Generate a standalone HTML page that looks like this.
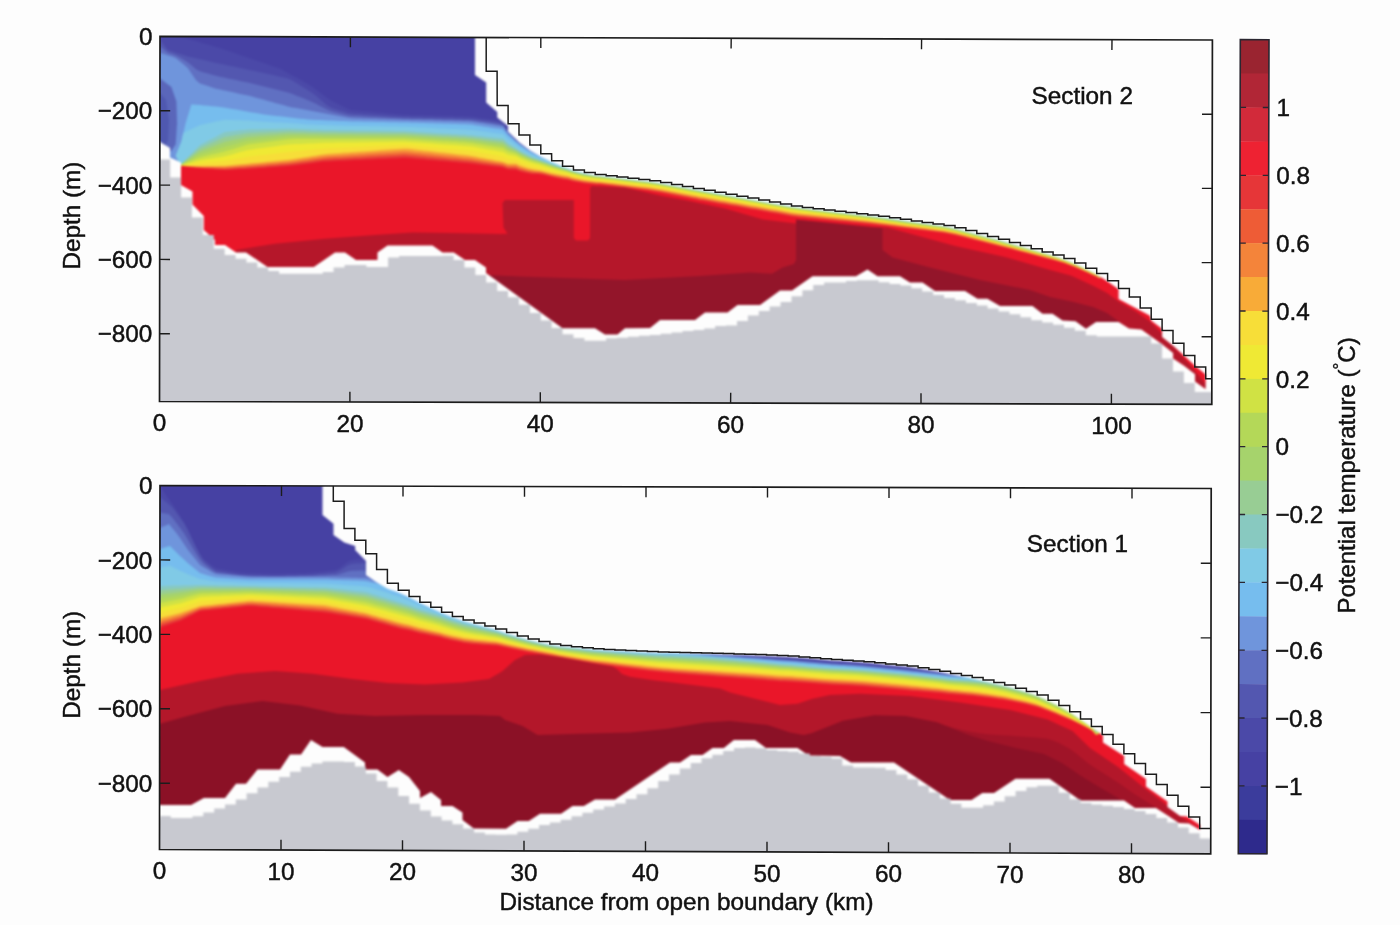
<!DOCTYPE html>
<html lang="en"><head><meta charset="utf-8"><title>Potential temperature sections</title>
<style>html,body{margin:0;padding:0;background:#fdfdfd}svg{display:block}</style></head>
<body>
<svg width="1400" height="925" viewBox="0 0 1400 925">
<rect width="1400" height="925" fill="#fdfdfd"/>
<defs><filter id="soft" x="0" y="0" width="100%" height="100%" filterUnits="objectBoundingBox" color-interpolation-filters="sRGB"><feGaussianBlur stdDeviation="0.85"/></filter></defs>
<clipPath id="c2"><polygon points="160.0,36.3 1212.4,40.0 1211.8,404.3 159.5,401.5"/></clipPath>
<g clip-path="url(#c2)"><g filter="url(#soft)">
<rect x="150" y="30" width="1070" height="380" fill="#4641a3"/>
<polygon points="160.0,34.0 164.0,34.6 168.0,35.3 172.0,35.9 176.0,36.6 180.0,37.2 181.0,37.4 184.0,37.8 188.0,38.9 191.4,39.8 192.0,40.0 196.0,41.1 200.0,42.3 204.0,43.4 208.0,44.6 212.0,45.7 216.0,46.9 220.0,48.0 224.0,49.4 225.0,49.7 228.0,50.8 232.0,52.1 236.0,53.5 240.0,54.9 244.0,56.3 248.0,57.7 252.0,59.0 256.0,60.4 260.0,61.8 264.0,63.1 268.0,64.5 272.0,65.9 276.0,67.2 280.0,68.6 284.0,70.8 288.0,73.0 292.0,75.2 296.0,77.3 300.0,79.5 304.0,81.7 308.0,83.9 312.0,86.5 316.0,89.5 320.0,92.5 324.0,95.5 328.0,98.5 332.0,101.0 336.0,103.0 340.0,105.0 344.0,107.0 348.0,109.0 352.0,110.2 356.0,110.5 360.0,110.9 364.0,111.3 368.0,111.6 372.0,112.0 376.0,112.4 380.0,112.7 384.0,113.1 388.0,113.5 392.0,113.8 396.0,114.2 400.0,114.5 404.0,114.9 408.0,115.1 412.0,115.2 416.0,115.3 420.0,115.3 424.0,115.4 428.0,115.5 432.0,115.6 436.0,115.7 440.0,115.8 444.0,115.9 448.0,116.0 452.0,116.1 456.0,116.2 460.0,116.3 464.0,116.4 468.0,116.5 472.0,116.8 476.0,117.3 480.0,117.9 484.0,118.4 488.0,119.0 492.0,119.5 496.0,120.0 500.0,120.6 503.0,121.0 504.0,122.6 508.0,129.0 512.0,134.1 516.0,139.1 520.0,142.4 524.0,145.0 528.0,147.5 532.0,149.8 536.0,151.6 540.0,153.5 544.0,153.4 548.0,152.7 552.0,152.0 556.0,151.0 560.0,150.0 564.0,149.0 568.0,148.5 572.0,150.0 576.0,151.2 580.0,152.2 584.0,153.2 588.0,154.0 592.0,154.8 596.0,155.5 600.0,155.9 604.0,156.4 608.0,156.9 612.0,157.3 616.0,157.8 620.0,158.2 624.0,158.7 628.0,159.1 632.0,159.6 636.0,160.0 640.0,160.5 644.0,160.9 648.0,161.4 652.0,161.9 656.0,162.5 660.0,163.1 664.0,163.8 668.0,164.6 672.0,165.3 676.0,166.0 680.0,166.8 684.0,167.5 688.0,168.2 692.0,168.9 696.0,169.7 700.0,170.4 704.0,171.1 708.0,171.8 712.0,172.5 716.0,173.2 720.0,174.0 724.0,174.7 728.0,175.4 732.0,176.1 736.0,176.8 740.0,177.5 744.0,178.3 748.0,179.0 752.0,179.7 756.0,180.4 760.0,181.1 764.0,181.8 768.0,182.6 772.0,183.3 776.0,184.0 780.0,184.7 784.0,185.4 788.0,186.1 792.0,186.8 796.0,187.4 800.0,187.9 804.0,188.4 808.0,188.9 812.0,189.3 816.0,189.8 820.0,190.2 824.0,190.7 828.0,191.2 832.0,191.6 836.0,192.1 840.0,192.5 844.0,193.0 848.0,193.5 852.0,193.9 856.0,194.4 860.0,194.8 864.0,195.3 868.0,195.8 872.0,196.3 876.0,196.8 880.0,197.3 884.0,197.8 888.0,198.4 892.0,198.9 896.0,199.5 900.0,200.1 904.0,200.6 908.0,201.2 912.0,201.8 916.0,202.3 920.0,202.9 924.0,203.4 928.0,204.0 932.0,204.5 936.0,205.1 940.0,205.7 944.0,206.2 948.0,207.0 952.0,207.9 956.0,208.7 960.0,209.8 964.0,210.9 968.0,212.0 972.0,213.0 976.0,214.1 980.0,215.2 984.0,216.2 988.0,217.3 992.0,218.4 996.0,219.5 1000.0,220.6 1004.0,221.7 1008.0,222.8 1012.0,224.0 1016.0,225.1 1020.0,226.3 1024.0,227.4 1028.0,228.6 1032.0,229.7 1036.0,230.9 1040.0,232.0 1044.0,233.2 1048.0,234.3 1052.0,235.5 1056.0,236.8 1060.0,238.1 1064.0,239.4 1068.0,241.0 1072.0,242.7 1076.0,244.4 1080.0,246.3 1084.0,248.2 1088.0,250.2 1092.0,252.1 1096.0,254.1 1100.0,256.6 1104.0,256.3 1108.0,256.5 1112.0,260.0 1116.0,264.9 1120.0,269.7 1124.0,271.9 1128.0,274.0 1132.0,276.1 1136.0,278.3 1140.0,280.4 1144.0,282.5 1148.0,284.6 1152.0,291.6 1156.0,297.7 1160.0,303.8 1164.0,308.5 1168.0,311.7 1172.0,314.8 1176.0,318.3 1180.0,322.0 1184.0,325.6 1188.0,329.3 1192.0,332.9 1196.0,337.9 1200.0,346.7 1204.0,355.6 1208.0,359.3 1212.0,359.3 1216.0,410.0 150.0,410.0" fill="#4b49a8"/>
<polygon points="160.0,40.0 164.0,45.0 168.0,50.0 172.0,51.3 176.0,52.7 180.0,54.0 181.0,54.3 184.0,55.3 188.0,56.5 191.4,57.2 192.0,57.4 196.0,58.3 200.0,59.2 204.0,60.1 208.0,61.0 212.0,61.9 216.0,62.9 220.0,63.8 224.0,64.6 225.0,64.8 228.0,65.5 232.0,66.3 236.0,67.1 240.0,68.0 244.0,68.8 248.0,69.7 252.0,70.5 256.0,71.3 260.0,72.2 264.0,73.0 268.0,73.9 272.0,74.8 276.0,75.8 280.0,76.7 284.0,77.6 288.0,78.5 292.0,80.2 296.0,82.8 300.0,85.2 304.0,87.8 308.0,90.2 312.0,92.8 316.0,95.7 320.0,99.2 324.0,102.7 328.0,106.1 332.0,107.9 336.0,109.2 340.0,110.4 344.0,111.6 348.0,112.9 352.0,113.6 356.0,113.9 360.0,114.1 364.0,114.4 368.0,114.6 372.0,114.9 376.0,115.2 380.0,115.4 384.0,115.7 388.0,115.9 392.0,116.2 396.0,116.4 400.0,116.7 404.0,116.9 408.0,117.1 412.0,117.2 416.0,117.3 420.0,117.3 424.0,117.4 428.0,117.5 432.0,117.6 436.0,117.7 440.0,117.8 444.0,117.9 448.0,118.0 452.0,118.1 456.0,118.2 460.0,118.3 464.0,118.4 468.0,118.5 472.0,118.8 476.0,119.3 480.0,119.8 484.0,120.3 488.0,120.8 492.0,121.4 496.0,121.9 500.0,123.0 503.0,124.0 504.0,125.4 508.0,131.2 512.0,135.6 516.0,139.9 520.0,143.2 524.0,145.8 528.0,148.4 532.0,150.7 536.0,152.6 540.0,154.5 544.0,154.3 548.0,153.4 552.0,152.5 556.0,151.4 560.0,150.3 564.0,149.1 568.0,148.5 572.0,150.0 576.0,151.2 580.0,152.2 584.0,153.2 588.0,154.0 592.0,154.8 596.0,155.5 600.0,155.9 604.0,156.4 608.0,156.9 612.0,157.3 616.0,157.8 620.0,158.2 624.0,158.7 628.0,159.1 632.0,159.6 636.0,160.0 640.0,160.5 644.0,160.9 648.0,161.4 652.0,161.9 656.0,162.5 660.0,163.1 664.0,163.8 668.0,164.6 672.0,165.3 676.0,166.0 680.0,166.8 684.0,167.5 688.0,168.2 692.0,168.9 696.0,169.7 700.0,170.4 704.0,171.1 708.0,171.8 712.0,172.5 716.0,173.2 720.0,174.0 724.0,174.7 728.0,175.4 732.0,176.1 736.0,176.8 740.0,177.5 744.0,178.3 748.0,179.0 752.0,179.7 756.0,180.4 760.0,181.1 764.0,181.8 768.0,182.6 772.0,183.3 776.0,184.0 780.0,184.7 784.0,185.4 788.0,186.1 792.0,186.8 796.0,187.4 800.0,187.9 804.0,188.4 808.0,188.9 812.0,189.3 816.0,189.8 820.0,190.2 824.0,190.7 828.0,191.2 832.0,191.6 836.0,192.1 840.0,192.5 844.0,193.0 848.0,193.5 852.0,193.9 856.0,194.4 860.0,194.8 864.0,195.3 868.0,195.8 872.0,196.3 876.0,196.8 880.0,197.3 884.0,197.8 888.0,198.4 892.0,198.9 896.0,199.5 900.0,200.1 904.0,200.6 908.0,201.2 912.0,201.8 916.0,202.3 920.0,202.9 924.0,203.4 928.0,204.0 932.0,204.5 936.0,205.1 940.0,205.7 944.0,206.2 948.0,207.0 952.0,207.9 956.0,208.7 960.0,209.8 964.0,210.9 968.0,212.0 972.0,213.0 976.0,214.1 980.0,215.2 984.0,216.2 988.0,217.3 992.0,218.4 996.0,219.5 1000.0,220.6 1004.0,221.7 1008.0,222.8 1012.0,224.0 1016.0,225.1 1020.0,226.3 1024.0,227.4 1028.0,228.6 1032.0,229.7 1036.0,230.9 1040.0,232.0 1044.0,233.2 1048.0,234.3 1052.0,235.5 1056.0,236.8 1060.0,238.1 1064.0,239.4 1068.0,241.0 1072.0,242.7 1076.0,244.4 1080.0,246.3 1084.0,248.2 1088.0,250.2 1092.0,252.1 1096.0,254.1 1100.0,256.6 1104.0,256.3 1108.0,256.5 1112.0,260.0 1116.0,264.9 1120.0,269.7 1124.0,271.9 1128.0,274.0 1132.0,276.1 1136.0,278.3 1140.0,280.4 1144.0,282.5 1148.0,284.6 1152.0,291.6 1156.0,297.7 1160.0,303.8 1164.0,308.5 1168.0,311.7 1172.0,314.8 1176.0,318.3 1180.0,322.0 1184.0,325.6 1188.0,329.3 1192.0,332.9 1196.0,337.9 1200.0,346.7 1204.0,355.6 1208.0,359.3 1212.0,359.3 1216.0,410.0 150.0,410.0" fill="#5357b0"/>
<polygon points="160.0,46.5 164.0,49.6 168.0,52.7 172.0,54.0 176.0,55.5 180.0,57.8 181.0,58.3 184.0,60.0 188.0,62.4 191.4,65.3 192.0,65.8 196.0,69.3 200.0,71.3 204.0,72.4 208.0,73.6 212.0,74.7 216.0,75.8 220.0,76.7 224.0,77.5 225.0,77.7 228.0,78.4 232.0,79.2 236.0,80.1 240.0,80.9 244.0,81.8 248.0,82.6 252.0,83.5 256.0,84.5 260.0,85.5 264.0,86.4 268.0,87.4 272.0,88.4 276.0,89.5 280.0,90.5 284.0,91.5 288.0,92.5 292.0,93.8 296.0,95.4 300.0,97.0 304.0,98.6 308.0,100.3 312.0,101.9 316.0,103.7 320.0,105.9 324.0,108.0 328.0,110.1 332.0,111.4 336.0,112.4 340.0,113.4 344.0,114.4 348.0,115.4 352.0,115.9 356.0,116.1 360.0,116.3 364.0,116.5 368.0,116.7 372.0,116.9 376.0,117.1 380.0,117.3 384.0,117.5 388.0,117.7 392.0,117.9 396.0,118.1 400.0,118.3 404.0,118.5 408.0,118.6 412.0,118.7 416.0,118.8 420.0,118.8 424.0,118.9 428.0,119.0 432.0,119.1 436.0,119.2 440.0,119.3 444.0,119.4 448.0,119.5 452.0,119.6 456.0,119.7 460.0,119.8 464.0,119.9 468.0,120.0 472.0,120.3 476.0,120.8 480.0,121.4 484.0,122.0 488.0,122.5 492.0,123.1 496.0,123.7 500.0,124.5 503.0,125.2 504.0,126.6 508.0,132.2 512.0,136.3 516.0,140.4 520.0,143.8 524.0,146.4 528.0,149.0 532.0,151.3 536.0,153.3 540.0,155.2 544.0,155.5 548.0,155.3 552.0,155.1 556.0,154.6 560.0,154.1 564.0,153.6 568.0,153.3 572.0,154.2 576.0,154.8 580.0,155.2 584.0,155.6 588.0,155.8 592.0,156.0 596.0,156.1 600.0,155.9 604.0,156.4 608.0,156.9 612.0,157.3 616.0,157.8 620.0,158.2 624.0,158.7 628.0,159.1 632.0,159.6 636.0,160.0 640.0,160.5 644.0,160.9 648.0,161.4 652.0,161.9 656.0,162.5 660.0,163.1 664.0,163.8 668.0,164.6 672.0,165.3 676.0,166.0 680.0,166.8 684.0,167.5 688.0,168.2 692.0,168.9 696.0,169.7 700.0,170.4 704.0,171.1 708.0,171.8 712.0,172.5 716.0,173.2 720.0,174.0 724.0,174.7 728.0,175.4 732.0,176.1 736.0,176.8 740.0,177.5 744.0,178.3 748.0,179.0 752.0,179.7 756.0,180.4 760.0,181.1 764.0,181.8 768.0,182.6 772.0,183.3 776.0,184.0 780.0,184.7 784.0,185.4 788.0,186.1 792.0,186.8 796.0,187.4 800.0,187.9 804.0,188.4 808.0,188.9 812.0,189.3 816.0,189.8 820.0,190.2 824.0,190.7 828.0,191.2 832.0,191.6 836.0,192.1 840.0,192.5 844.0,193.0 848.0,193.5 852.0,193.9 856.0,194.4 860.0,194.8 864.0,195.3 868.0,195.8 872.0,196.3 876.0,196.8 880.0,197.3 884.0,197.8 888.0,198.4 892.0,198.9 896.0,199.5 900.0,200.1 904.0,200.6 908.0,201.2 912.0,201.8 916.0,202.3 920.0,202.9 924.0,203.4 928.0,204.0 932.0,204.5 936.0,205.1 940.0,205.7 944.0,206.2 948.0,207.0 952.0,207.9 956.0,208.7 960.0,209.8 964.0,210.9 968.0,212.0 972.0,213.0 976.0,214.1 980.0,215.2 984.0,216.2 988.0,217.3 992.0,218.4 996.0,219.5 1000.0,220.6 1004.0,221.7 1008.0,222.8 1012.0,224.0 1016.0,225.1 1020.0,226.3 1024.0,227.4 1028.0,228.6 1032.0,229.7 1036.0,230.9 1040.0,232.0 1044.0,233.2 1048.0,234.3 1052.0,235.5 1056.0,236.8 1060.0,238.1 1064.0,239.4 1068.0,241.0 1072.0,242.7 1076.0,244.4 1080.0,246.3 1084.0,248.2 1088.0,250.2 1092.0,252.1 1096.0,254.1 1100.0,256.6 1104.0,256.3 1108.0,256.5 1112.0,260.0 1116.0,264.9 1120.0,269.7 1124.0,271.9 1128.0,274.0 1132.0,276.1 1136.0,278.3 1140.0,280.4 1144.0,282.5 1148.0,284.6 1152.0,291.6 1156.0,297.7 1160.0,303.8 1164.0,308.5 1168.0,311.7 1172.0,314.8 1176.0,318.3 1180.0,322.0 1184.0,325.6 1188.0,329.3 1192.0,332.9 1196.0,337.9 1200.0,346.7 1204.0,355.6 1208.0,359.3 1212.0,359.3 1216.0,410.0 150.0,410.0" fill="#6070c2"/>
<polygon points="160.0,52.9 164.0,54.1 168.0,55.4 172.0,56.6 176.0,58.3 180.0,61.5 181.0,62.3 184.0,64.7 188.0,68.2 191.4,73.4 192.0,74.2 196.0,80.2 200.0,83.4 204.0,84.7 208.0,86.1 212.0,87.5 216.0,88.7 220.0,89.6 224.0,90.4 225.0,90.6 228.0,91.3 232.0,92.1 236.0,93.0 240.0,93.9 244.0,94.7 248.0,95.6 252.0,96.5 256.0,97.7 260.0,98.8 264.0,99.8 268.0,101.0 272.0,102.0 276.0,103.2 280.0,104.2 284.0,105.3 288.0,106.5 292.0,107.4 296.0,108.1 300.0,108.8 304.0,109.5 308.0,110.3 312.0,111.0 316.0,111.8 320.0,112.5 324.0,113.3 328.0,114.0 332.0,114.8 336.0,115.5 340.0,116.3 344.0,117.1 348.0,117.8 352.0,118.3 356.0,118.4 360.0,118.5 364.0,118.7 368.0,118.8 372.0,118.9 376.0,119.1 380.0,119.2 384.0,119.3 388.0,119.4 392.0,119.6 396.0,119.7 400.0,119.8 404.0,120.0 408.0,120.1 412.0,120.2 416.0,120.3 420.0,120.3 424.0,120.4 428.0,120.5 432.0,120.6 436.0,120.7 440.0,120.8 444.0,120.9 448.0,121.0 452.0,121.1 456.0,121.2 460.0,121.3 464.0,121.4 468.0,121.5 472.0,121.8 476.0,122.4 480.0,123.0 484.0,123.6 488.0,124.2 492.0,124.8 496.0,125.4 500.0,126.0 503.0,126.5 504.0,127.8 508.0,133.1 512.0,137.0 516.0,140.9 520.0,144.3 524.0,147.0 528.0,149.7 532.0,152.0 536.0,154.0 540.0,156.0 544.0,156.8 548.0,157.2 552.0,157.6 556.0,157.8 560.0,158.0 564.0,158.1 568.0,158.2 572.0,158.5 576.0,158.4 580.0,158.2 584.0,158.1 588.0,157.6 592.0,157.2 596.0,156.7 600.0,155.9 604.0,156.4 608.0,156.9 612.0,157.3 616.0,157.8 620.0,158.2 624.0,158.7 628.0,159.1 632.0,159.6 636.0,160.0 640.0,160.5 644.0,160.9 648.0,161.4 652.0,161.9 656.0,162.5 660.0,163.1 664.0,163.8 668.0,164.6 672.0,165.3 676.0,166.0 680.0,166.8 684.0,167.5 688.0,168.2 692.0,168.9 696.0,169.7 700.0,170.4 704.0,171.1 708.0,171.8 712.0,172.5 716.0,173.2 720.0,174.0 724.0,174.7 728.0,175.4 732.0,176.1 736.0,176.8 740.0,177.5 744.0,178.3 748.0,179.0 752.0,179.7 756.0,180.4 760.0,181.1 764.0,181.8 768.0,182.6 772.0,183.3 776.0,184.0 780.0,184.7 784.0,185.4 788.0,186.1 792.0,186.8 796.0,187.4 800.0,187.9 804.0,188.4 808.0,188.9 812.0,189.3 816.0,189.8 820.0,190.2 824.0,190.7 828.0,191.2 832.0,191.6 836.0,192.1 840.0,192.5 844.0,193.0 848.0,193.5 852.0,193.9 856.0,194.4 860.0,194.8 864.0,195.3 868.0,195.8 872.0,196.3 876.0,196.8 880.0,197.3 884.0,197.8 888.0,198.4 892.0,198.9 896.0,199.5 900.0,200.1 904.0,200.6 908.0,201.2 912.0,201.8 916.0,202.3 920.0,202.9 924.0,203.4 928.0,204.0 932.0,204.5 936.0,205.1 940.0,205.7 944.0,206.2 948.0,207.0 952.0,207.9 956.0,208.7 960.0,209.8 964.0,210.9 968.0,212.0 972.0,213.0 976.0,214.1 980.0,215.2 984.0,216.2 988.0,217.3 992.0,218.4 996.0,219.5 1000.0,220.6 1004.0,221.7 1008.0,222.8 1012.0,224.0 1016.0,225.1 1020.0,226.3 1024.0,227.4 1028.0,228.6 1032.0,229.7 1036.0,230.9 1040.0,232.0 1044.0,233.2 1048.0,234.3 1052.0,235.5 1056.0,236.8 1060.0,238.1 1064.0,239.4 1068.0,241.0 1072.0,242.7 1076.0,244.4 1080.0,246.3 1084.0,248.2 1088.0,250.2 1092.0,252.1 1096.0,254.1 1100.0,256.6 1104.0,256.3 1108.0,256.5 1112.0,260.0 1116.0,264.9 1120.0,269.7 1124.0,271.9 1128.0,274.0 1132.0,276.1 1136.0,278.3 1140.0,280.4 1144.0,282.5 1148.0,284.6 1152.0,291.6 1156.0,297.7 1160.0,303.8 1164.0,308.5 1168.0,311.7 1172.0,314.8 1176.0,318.3 1180.0,322.0 1184.0,325.6 1188.0,329.3 1192.0,332.9 1196.0,337.9 1200.0,346.7 1204.0,355.6 1208.0,359.3 1212.0,359.3 1216.0,410.0 150.0,410.0" fill="#6f95dc"/>
<polygon points="191.4,104.3 191.4,104.3 192.0,104.4 196.0,104.7 200.0,105.1 204.0,105.4 208.0,105.8 212.0,106.2 216.0,106.5 220.0,106.9 224.0,107.5 225.0,107.7 228.0,108.2 232.0,108.9 236.0,109.6 240.0,110.3 244.0,111.0 248.0,111.7 252.0,112.4 256.0,113.1 260.0,113.8 264.0,114.5 268.0,115.0 272.0,115.4 276.0,115.9 280.0,116.3 284.0,116.8 288.0,117.3 292.0,117.7 296.0,118.2 300.0,118.7 304.0,119.1 308.0,119.5 312.0,119.7 316.0,119.9 320.0,120.1 324.0,120.3 328.0,120.4 332.0,120.6 336.0,120.8 340.0,121.0 344.0,121.1 348.0,121.3 352.0,121.4 356.0,121.5 360.0,121.6 364.0,121.7 368.0,121.8 372.0,121.8 376.0,121.9 380.0,122.0 384.0,122.1 388.0,122.2 392.0,122.2 396.0,122.3 400.0,122.4 404.0,122.5 408.0,122.6 412.0,122.7 416.0,122.8 420.0,123.0 424.0,123.1 428.0,123.2 432.0,123.3 436.0,123.5 440.0,123.6 444.0,123.7 448.0,123.8 452.0,123.9 456.0,124.1 460.0,124.2 464.0,124.3 468.0,124.4 472.0,124.8 476.0,125.4 480.0,126.0 484.0,126.7 488.0,127.3 492.0,127.9 496.0,128.5 500.0,129.1 503.0,129.6 504.0,130.7 508.0,135.3 512.0,138.5 516.0,141.7 520.0,145.1 524.0,147.8 528.0,150.5 532.0,152.8 536.0,154.8 540.0,156.8 544.0,158.3 548.0,159.7 552.0,161.0 556.0,162.2 560.0,163.3 564.0,164.4 568.0,165.3 572.0,165.9 576.0,166.2 580.0,166.4 584.0,166.6 588.0,166.5 592.0,166.5 596.0,166.3 600.0,165.9 604.0,166.4 608.0,166.9 612.0,167.3 616.0,167.8 620.0,168.2 624.0,168.7 628.0,169.1 632.0,169.6 636.0,170.0 640.0,170.5 644.0,170.9 648.0,171.4 652.0,171.9 656.0,172.5 660.0,173.1 664.0,173.8 668.0,174.6 672.0,175.3 676.0,176.0 680.0,176.8 684.0,177.5 688.0,178.2 692.0,178.9 696.0,179.7 700.0,180.4 704.0,181.1 708.0,181.8 712.0,182.5 716.0,183.2 720.0,184.0 724.0,184.7 728.0,185.4 732.0,186.1 736.0,186.8 740.0,187.5 744.0,188.3 748.0,189.0 752.0,189.7 756.0,190.4 760.0,191.1 764.0,191.8 768.0,192.6 772.0,193.3 776.0,194.0 780.0,194.7 784.0,195.4 788.0,196.1 792.0,196.8 796.0,197.4 800.0,197.9 804.0,198.4 808.0,198.9 812.0,199.3 816.0,199.8 820.0,200.2 824.0,200.7 828.0,201.2 832.0,201.6 836.0,202.1 840.0,202.5 844.0,203.0 848.0,203.5 852.0,203.9 856.0,204.4 860.0,204.8 864.0,205.3 868.0,205.8 872.0,206.3 876.0,206.8 880.0,207.3 884.0,207.8 888.0,208.4 892.0,208.9 896.0,209.5 900.0,210.1 904.0,210.6 908.0,211.2 912.0,211.8 916.0,212.3 920.0,212.9 924.0,213.4 928.0,214.0 932.0,214.5 936.0,215.1 940.0,215.7 944.0,216.2 948.0,217.0 952.0,217.9 956.0,218.7 960.0,219.8 964.0,220.9 968.0,222.0 972.0,223.0 976.0,224.1 980.0,225.2 984.0,226.2 988.0,227.3 992.0,228.4 996.0,229.5 1000.0,230.6 1004.0,231.7 1008.0,232.8 1012.0,234.0 1016.0,235.1 1020.0,236.3 1024.0,237.4 1028.0,238.6 1032.0,239.7 1036.0,240.9 1040.0,242.0 1044.0,243.2 1048.0,244.3 1052.0,245.5 1056.0,246.8 1060.0,248.1 1064.0,249.4 1068.0,251.0 1072.0,252.7 1076.0,254.4 1080.0,256.3 1084.0,258.2 1088.0,260.2 1092.0,262.1 1096.0,264.1 1100.0,266.6 1104.0,263.4 1108.0,260.8 1112.0,261.4 1116.0,264.9 1120.0,269.7 1124.0,271.9 1128.0,274.0 1132.0,276.1 1136.0,278.3 1140.0,280.4 1144.0,282.5 1148.0,284.6 1152.0,291.6 1156.0,297.7 1160.0,303.8 1164.0,308.5 1168.0,311.7 1172.0,314.8 1176.0,318.3 1180.0,322.0 1184.0,325.6 1188.0,329.3 1192.0,332.9 1196.0,337.9 1200.0,346.7 1204.0,355.6 1208.0,359.3 1212.0,359.3 1216.0,410.0 176.0,410.0 181.0,166.0 175.7,155.7 181.4,141.4 185.7,122.9" fill="#76bdee"/>
<polygon points="184.0,132.7 188.0,130.7 191.4,128.9 192.0,128.7 196.0,126.9 200.0,125.0 204.0,124.2 208.0,123.3 212.0,122.5 216.0,121.6 220.0,120.8 224.0,120.0 225.0,119.8 228.0,119.9 232.0,120.1 236.0,120.2 240.0,120.3 244.0,120.4 248.0,120.6 252.0,120.9 256.0,121.2 260.0,121.5 264.0,121.8 268.0,122.0 272.0,122.2 276.0,122.4 280.0,122.6 284.0,122.8 288.0,123.0 292.0,123.2 296.0,123.5 300.0,123.8 304.0,124.2 308.0,124.4 312.0,124.6 316.0,124.8 320.0,124.9 324.0,125.1 328.0,125.2 332.0,125.3 336.0,125.5 340.0,125.6 344.0,125.7 348.0,125.8 352.0,125.9 356.0,126.0 360.0,126.0 364.0,126.1 368.0,126.1 372.0,126.2 376.0,126.3 380.0,126.3 384.0,126.4 388.0,126.5 392.0,126.5 396.0,126.6 400.0,126.7 404.0,126.7 408.0,126.9 412.0,127.1 416.0,127.3 420.0,127.4 424.0,127.6 428.0,127.8 432.0,128.0 436.0,128.2 440.0,128.4 444.0,128.6 448.0,128.7 452.0,128.9 456.0,129.1 460.0,129.3 464.0,129.5 468.0,129.7 472.0,130.0 476.0,130.5 480.0,131.1 484.0,131.6 488.0,132.1 492.0,132.7 496.0,133.2 500.0,133.7 503.0,134.1 504.0,135.1 508.0,139.3 512.0,142.1 516.0,144.9 520.0,148.0 524.0,150.4 528.0,152.8 532.0,154.9 536.0,156.6 540.0,158.3 544.0,159.8 548.0,161.2 552.0,162.7 556.0,163.9 560.0,165.1 564.0,166.3 568.0,167.3 572.0,168.3 576.0,169.1 580.0,169.6 584.0,170.2 588.0,170.6 592.0,170.9 596.0,171.2 600.0,171.2 604.0,171.6 608.0,172.1 612.0,172.6 616.0,173.0 620.0,173.5 624.0,173.9 628.0,174.4 632.0,174.8 636.0,175.3 640.0,175.8 644.0,176.2 648.0,176.7 652.0,177.2 656.0,177.8 660.0,178.4 664.0,179.1 668.0,179.9 672.0,180.6 676.0,181.3 680.0,182.0 684.0,182.8 688.0,183.5 692.0,184.2 696.0,185.0 700.0,185.7 704.0,186.4 708.0,187.1 712.0,187.8 716.0,188.5 720.0,189.3 724.0,190.0 728.0,190.7 732.0,191.4 736.0,192.1 740.0,192.8 744.0,193.5 748.0,194.3 752.0,195.0 756.0,195.7 760.0,196.4 764.0,197.1 768.0,197.8 772.0,198.5 776.0,199.3 780.0,200.0 784.0,200.7 788.0,201.4 792.0,202.1 796.0,202.6 800.0,203.1 804.0,203.6 808.0,204.1 812.0,204.6 816.0,205.0 820.0,205.5 824.0,205.9 828.0,206.4 832.0,206.8 836.0,207.3 840.0,207.7 844.0,208.2 848.0,208.7 852.0,209.1 856.0,209.6 860.0,210.0 864.0,210.5 868.0,210.9 872.0,211.4 876.0,211.9 880.0,212.4 884.0,213.0 888.0,213.6 892.0,214.1 896.0,214.7 900.0,215.2 904.0,215.8 908.0,216.3 912.0,216.9 916.0,217.5 920.0,218.0 924.0,218.6 928.0,219.1 932.0,219.7 936.0,220.2 940.0,220.8 944.0,221.4 948.0,222.2 952.0,223.0 956.0,223.9 960.0,224.9 964.0,226.0 968.0,227.1 972.0,228.1 976.0,229.2 980.0,230.3 984.0,231.4 988.0,232.4 992.0,233.5 996.0,234.6 1000.0,235.7 1004.0,236.8 1008.0,237.9 1012.0,239.1 1016.0,240.2 1020.0,241.4 1024.0,242.5 1028.0,243.7 1032.0,244.8 1036.0,246.0 1040.0,247.1 1044.0,248.2 1048.0,249.4 1052.0,250.5 1056.0,251.8 1060.0,253.1 1064.0,254.4 1068.0,256.1 1072.0,257.7 1076.0,259.4 1080.0,261.3 1084.0,263.3 1088.0,265.2 1092.0,267.1 1096.0,269.1 1100.0,271.6 1104.0,267.0 1108.0,262.9 1112.0,262.1 1116.0,264.9 1120.0,269.7 1124.0,271.9 1128.0,274.0 1132.0,276.1 1136.0,278.3 1140.0,280.4 1144.0,282.5 1148.0,284.6 1152.0,291.6 1156.0,297.7 1160.0,303.8 1164.0,308.5 1168.0,311.7 1172.0,314.8 1176.0,318.3 1180.0,322.0 1184.0,325.6 1188.0,329.3 1192.0,332.9 1196.0,337.9 1200.0,346.7 1204.0,355.6 1208.0,359.3 1212.0,359.3 1216.0,410.0 176.0,410.0 181.0,166.0 175.7,155.7 181.4,141.4 183.3,132.7" fill="#80cae6"/>
<polygon points="181.0,164.0 184.0,161.0 188.0,157.0 191.4,153.6 192.0,153.0 196.0,149.0 200.0,145.0 204.0,142.9 208.0,140.8 212.0,138.8 216.0,136.7 220.0,134.6 224.0,132.5 225.0,132.0 228.0,131.7 232.0,131.2 236.0,130.8 240.0,130.3 244.0,129.9 248.0,129.4 252.0,129.3 256.0,129.2 260.0,129.2 264.0,129.1 268.0,129.0 272.0,128.9 276.0,128.9 280.0,128.8 284.0,128.7 288.0,128.6 292.0,128.7 296.0,128.8 300.0,129.0 304.0,129.2 308.0,129.3 312.0,129.5 316.0,129.6 320.0,129.8 324.0,130.0 328.0,130.0 332.0,130.1 336.0,130.1 340.0,130.2 344.0,130.2 348.0,130.3 352.0,130.3 356.0,130.4 360.0,130.4 364.0,130.5 368.0,130.5 372.0,130.6 376.0,130.6 380.0,130.7 384.0,130.7 388.0,130.8 392.0,130.8 396.0,130.9 400.0,130.9 404.0,131.0 408.0,131.2 412.0,131.4 416.0,131.7 420.0,131.9 424.0,132.2 428.0,132.4 432.0,132.7 436.0,132.9 440.0,133.2 444.0,133.4 448.0,133.6 452.0,133.9 456.0,134.1 460.0,134.4 464.0,134.6 468.0,134.9 472.0,135.2 476.0,135.7 480.0,136.1 484.0,136.5 488.0,137.0 492.0,137.4 496.0,137.8 500.0,138.3 503.0,138.6 504.0,139.5 508.0,143.3 512.0,145.7 516.0,148.0 520.0,150.8 524.0,153.0 528.0,155.1 532.0,156.9 536.0,158.4 540.0,159.8 544.0,161.3 548.0,162.8 552.0,164.3 556.0,165.6 560.0,166.9 564.0,168.1 568.0,169.3 572.0,170.7 576.0,171.9 580.0,172.9 584.0,173.9 588.0,174.6 592.0,175.3 596.0,176.0 600.0,176.4 604.0,176.9 608.0,177.4 612.0,177.8 616.0,178.3 620.0,178.7 624.0,179.2 628.0,179.7 632.0,180.1 636.0,180.6 640.0,181.0 644.0,181.5 648.0,182.0 652.0,182.5 656.0,183.1 660.0,183.7 664.0,184.4 668.0,185.1 672.0,185.9 676.0,186.6 680.0,187.3 684.0,188.1 688.0,188.8 692.0,189.5 696.0,190.3 700.0,191.0 704.0,191.7 708.0,192.4 712.0,193.1 716.0,193.8 720.0,194.5 724.0,195.3 728.0,196.0 732.0,196.7 736.0,197.4 740.0,198.1 744.0,198.8 748.0,199.5 752.0,200.2 756.0,201.0 760.0,201.7 764.0,202.4 768.0,203.1 772.0,203.8 776.0,204.5 780.0,205.2 784.0,205.9 788.0,206.6 792.0,207.3 796.0,207.9 800.0,208.4 804.0,208.9 808.0,209.3 812.0,209.8 816.0,210.2 820.0,210.7 824.0,211.1 828.0,211.6 832.0,212.0 836.0,212.5 840.0,213.0 844.0,213.4 848.0,213.9 852.0,214.3 856.0,214.8 860.0,215.2 864.0,215.7 868.0,216.1 872.0,216.6 876.0,217.1 880.0,217.6 884.0,218.2 888.0,218.7 892.0,219.3 896.0,219.8 900.0,220.4 904.0,220.9 908.0,221.5 912.0,222.0 916.0,222.6 920.0,223.2 924.0,223.7 928.0,224.3 932.0,224.8 936.0,225.4 940.0,225.9 944.0,226.5 948.0,227.3 952.0,228.1 956.0,229.0 960.0,230.1 964.0,231.1 968.0,232.2 972.0,233.3 976.0,234.3 980.0,235.4 984.0,236.5 988.0,237.5 992.0,238.6 996.0,239.7 1000.0,240.8 1004.0,241.9 1008.0,243.0 1012.0,244.2 1016.0,245.3 1020.0,246.4 1024.0,247.6 1028.0,248.7 1032.0,249.9 1036.0,251.0 1040.0,252.2 1044.0,253.3 1048.0,254.4 1052.0,255.6 1056.0,256.8 1060.0,258.2 1064.0,259.5 1068.0,261.1 1072.0,262.7 1076.0,264.4 1080.0,266.4 1084.0,268.3 1088.0,270.2 1092.0,272.1 1096.0,274.1 1100.0,276.6 1104.0,270.6 1108.0,265.0 1112.0,262.8 1116.0,264.9 1120.0,269.7 1124.0,271.9 1128.0,274.0 1132.0,276.1 1136.0,278.3 1140.0,280.4 1144.0,282.5 1148.0,284.6 1152.0,291.6 1156.0,297.7 1160.0,303.8 1164.0,308.5 1168.0,311.7 1172.0,314.8 1176.0,318.3 1180.0,322.0 1184.0,325.6 1188.0,329.3 1192.0,332.9 1196.0,337.9 1200.0,346.7 1204.0,355.6 1208.0,359.3 1212.0,359.3 1216.0,410.0 181.0,410.0" fill="#88c9c0"/>
<polygon points="181.0,164.3 184.0,161.7 188.0,158.3 191.4,155.4 192.0,154.9 196.0,151.5 200.0,148.1 204.0,146.3 208.0,144.5 212.0,142.7 216.0,140.9 220.0,139.1 224.0,137.3 225.0,136.9 228.0,136.4 232.0,135.8 236.0,135.1 240.0,134.5 244.0,133.8 248.0,133.2 252.0,133.0 256.0,132.8 260.0,132.6 264.0,132.5 268.0,132.3 272.0,132.1 276.0,131.9 280.0,131.7 284.0,131.5 288.0,131.3 292.0,131.3 296.0,131.4 300.0,131.5 304.0,131.6 308.0,131.7 312.0,131.9 316.0,132.0 320.0,132.1 324.0,132.2 328.0,132.3 332.0,132.3 336.0,132.3 340.0,132.4 344.0,132.4 348.0,132.4 352.0,132.5 356.0,132.5 360.0,132.6 364.0,132.6 368.0,132.6 372.0,132.7 376.0,132.7 380.0,132.8 384.0,132.8 388.0,132.8 392.0,132.9 396.0,132.9 400.0,133.0 404.0,133.0 408.0,133.2 412.0,133.4 416.0,133.7 420.0,133.9 424.0,134.2 428.0,134.4 432.0,134.7 436.0,134.9 440.0,135.2 444.0,135.4 448.0,135.6 452.0,135.9 456.0,136.1 460.0,136.4 464.0,136.6 468.0,136.9 472.0,137.2 476.0,137.7 480.0,138.2 484.0,138.7 488.0,139.2 492.0,139.7 496.0,140.2 500.0,140.7 503.0,141.0 504.0,141.9 508.0,145.3 512.0,147.4 516.0,149.5 520.0,152.2 524.0,154.2 528.0,156.3 532.0,158.0 536.0,159.3 540.0,160.7 544.0,162.1 548.0,163.6 552.0,165.1 556.0,166.3 560.0,167.6 564.0,168.7 568.0,169.9 572.0,171.3 576.0,172.4 580.0,173.4 584.0,174.3 588.0,175.0 592.0,175.7 596.0,176.4 600.0,176.8 604.0,177.2 608.0,177.7 612.0,178.2 616.0,178.6 620.0,179.1 624.0,179.5 628.0,180.0 632.0,180.5 636.0,180.9 640.0,181.4 644.0,181.8 648.0,182.3 652.0,182.8 656.0,183.4 660.0,184.0 664.0,184.8 668.0,185.5 672.0,186.2 676.0,187.0 680.0,187.7 684.0,188.4 688.0,189.2 692.0,189.9 696.0,190.6 700.0,191.3 704.0,192.0 708.0,192.8 712.0,193.5 716.0,194.2 720.0,194.9 724.0,195.6 728.0,196.3 732.0,197.0 736.0,197.7 740.0,198.4 744.0,199.1 748.0,199.9 752.0,200.6 756.0,201.3 760.0,202.0 764.0,202.7 768.0,203.4 772.0,204.1 776.0,204.8 780.0,205.5 784.0,206.2 788.0,206.9 792.0,207.6 796.0,208.2 800.0,208.7 804.0,209.2 808.0,209.6 812.0,210.1 816.0,210.6 820.0,211.0 824.0,211.5 828.0,211.9 832.0,212.4 836.0,212.8 840.0,213.3 844.0,213.8 848.0,214.2 852.0,214.7 856.0,215.1 860.0,215.6 864.0,216.1 868.0,216.5 872.0,217.0 876.0,217.5 880.0,218.0 884.0,218.6 888.0,219.1 892.0,219.7 896.0,220.3 900.0,220.8 904.0,221.4 908.0,221.9 912.0,222.5 916.0,223.0 920.0,223.6 924.0,224.1 928.0,224.7 932.0,225.2 936.0,225.8 940.0,226.3 944.0,226.9 948.0,227.7 952.0,228.5 956.0,229.4 960.0,230.5 964.0,231.5 968.0,232.6 972.0,233.7 976.0,234.7 980.0,235.8 984.0,236.9 988.0,237.9 992.0,239.0 996.0,240.0 1000.0,241.1 1004.0,242.3 1008.0,243.4 1012.0,244.5 1016.0,245.7 1020.0,246.8 1024.0,247.9 1028.0,249.1 1032.0,250.2 1036.0,251.3 1040.0,252.5 1044.0,253.6 1048.0,254.7 1052.0,255.9 1056.0,257.1 1060.0,258.4 1064.0,259.7 1068.0,261.3 1072.0,263.0 1076.0,264.7 1080.0,266.6 1084.0,268.5 1088.0,270.4 1092.0,272.3 1096.0,274.2 1100.0,276.7 1104.0,270.7 1108.0,265.1 1112.0,262.8 1116.0,264.9 1120.0,269.7 1124.0,271.9 1128.0,274.0 1132.0,276.1 1136.0,278.3 1140.0,280.4 1144.0,282.5 1148.0,284.6 1152.0,291.6 1156.0,297.7 1160.0,303.8 1164.0,308.5 1168.0,311.7 1172.0,314.8 1176.0,318.3 1180.0,322.0 1184.0,325.6 1188.0,329.3 1192.0,332.9 1196.0,337.9 1200.0,346.7 1204.0,355.6 1208.0,359.3 1212.0,359.3 1216.0,410.0 181.0,410.0" fill="#98cd94"/>
<polygon points="181.0,164.6 184.0,162.5 188.0,159.7 191.4,157.3 192.0,156.8 196.0,154.0 200.0,151.2 204.0,149.7 208.0,148.2 212.0,146.7 216.0,145.2 220.0,143.7 224.0,142.2 225.0,141.8 228.0,141.2 232.0,140.3 236.0,139.5 240.0,138.7 244.0,137.8 248.0,137.0 252.0,136.7 256.0,136.4 260.0,136.1 264.0,135.8 268.0,135.5 272.0,135.2 276.0,134.9 280.0,134.6 284.0,134.3 288.0,134.0 292.0,133.9 296.0,134.0 300.0,134.0 304.0,134.1 308.0,134.2 312.0,134.2 316.0,134.3 320.0,134.4 324.0,134.4 328.0,134.5 332.0,134.5 336.0,134.5 340.0,134.5 344.0,134.6 348.0,134.6 352.0,134.6 356.0,134.7 360.0,134.7 364.0,134.7 368.0,134.7 372.0,134.8 376.0,134.8 380.0,134.8 384.0,134.9 388.0,134.9 392.0,134.9 396.0,134.9 400.0,135.0 404.0,135.0 408.0,135.2 412.0,135.4 416.0,135.7 420.0,135.9 424.0,136.2 428.0,136.4 432.0,136.7 436.0,136.9 440.0,137.2 444.0,137.4 448.0,137.6 452.0,137.9 456.0,138.1 460.0,138.4 464.0,138.6 468.0,138.9 472.0,139.3 476.0,139.8 480.0,140.3 484.0,140.9 488.0,141.4 492.0,142.0 496.0,142.5 500.0,143.0 503.0,143.4 504.0,144.2 508.0,147.4 512.0,149.1 516.0,150.9 520.0,153.5 524.0,155.5 528.0,157.4 532.0,159.0 536.0,160.3 540.0,161.5 544.0,162.9 548.0,164.4 552.0,165.8 556.0,167.0 560.0,168.2 564.0,169.4 568.0,170.5 572.0,171.8 576.0,172.9 580.0,173.9 584.0,174.8 588.0,175.5 592.0,176.1 596.0,176.8 600.0,177.1 604.0,177.6 608.0,178.0 612.0,178.5 616.0,179.0 620.0,179.4 624.0,179.9 628.0,180.3 632.0,180.8 636.0,181.3 640.0,181.7 644.0,182.2 648.0,182.6 652.0,183.2 656.0,183.8 660.0,184.4 664.0,185.1 668.0,185.8 672.0,186.6 676.0,187.3 680.0,188.0 684.0,188.8 688.0,189.5 692.0,190.2 696.0,191.0 700.0,191.7 704.0,192.4 708.0,193.1 712.0,193.8 716.0,194.5 720.0,195.2 724.0,195.9 728.0,196.6 732.0,197.3 736.0,198.1 740.0,198.8 744.0,199.5 748.0,200.2 752.0,200.9 756.0,201.6 760.0,202.3 764.0,203.0 768.0,203.7 772.0,204.4 776.0,205.1 780.0,205.8 784.0,206.5 788.0,207.2 792.0,207.9 796.0,208.4 800.0,209.0 804.0,209.5 808.0,209.9 812.0,210.4 816.0,210.9 820.0,211.3 824.0,211.8 828.0,212.3 832.0,212.7 836.0,213.2 840.0,213.7 844.0,214.1 848.0,214.6 852.0,215.0 856.0,215.5 860.0,216.0 864.0,216.4 868.0,216.9 872.0,217.4 876.0,217.9 880.0,218.4 884.0,219.0 888.0,219.6 892.0,220.1 896.0,220.7 900.0,221.3 904.0,221.8 908.0,222.4 912.0,222.9 916.0,223.5 920.0,224.0 924.0,224.6 928.0,225.1 932.0,225.7 936.0,226.2 940.0,226.8 944.0,227.3 948.0,228.1 952.0,228.9 956.0,229.8 960.0,230.9 964.0,231.9 968.0,233.0 972.0,234.1 976.0,235.1 980.0,236.2 984.0,237.2 988.0,238.3 992.0,239.4 996.0,240.4 1000.0,241.5 1004.0,242.6 1008.0,243.8 1012.0,244.9 1016.0,246.0 1020.0,247.1 1024.0,248.3 1028.0,249.4 1032.0,250.5 1036.0,251.6 1040.0,252.8 1044.0,253.9 1048.0,255.0 1052.0,256.1 1056.0,257.4 1060.0,258.7 1064.0,260.0 1068.0,261.6 1072.0,263.2 1076.0,264.9 1080.0,266.8 1084.0,268.7 1088.0,270.6 1092.0,272.5 1096.0,274.4 1100.0,276.9 1104.0,270.8 1108.0,265.2 1112.0,262.9 1116.0,264.9 1120.0,269.7 1124.0,271.9 1128.0,274.0 1132.0,276.1 1136.0,278.3 1140.0,280.4 1144.0,282.5 1148.0,284.6 1152.0,291.6 1156.0,297.7 1160.0,303.8 1164.0,308.5 1168.0,311.7 1172.0,314.8 1176.0,318.3 1180.0,322.0 1184.0,325.6 1188.0,329.3 1192.0,332.9 1196.0,337.9 1200.0,346.7 1204.0,355.6 1208.0,359.3 1212.0,359.3 1216.0,410.0 181.0,410.0" fill="#a6d36c"/>
<polygon points="181.0,164.9 184.0,163.2 188.0,161.0 191.4,159.1 192.0,158.8 196.0,156.6 200.0,154.3 204.0,153.1 208.0,151.9 212.0,150.7 216.0,149.4 220.0,148.2 224.0,147.0 225.0,146.7 228.0,145.9 232.0,144.9 236.0,143.9 240.0,142.8 244.0,141.8 248.0,140.8 252.0,140.4 256.0,140.0 260.0,139.6 264.0,139.2 268.0,138.8 272.0,138.4 276.0,138.0 280.0,137.5 284.0,137.1 288.0,136.7 292.0,136.5 296.0,136.6 300.0,136.6 304.0,136.6 308.0,136.6 312.0,136.6 316.0,136.6 320.0,136.6 324.0,136.7 328.0,136.7 332.0,136.7 336.0,136.7 340.0,136.7 344.0,136.7 348.0,136.8 352.0,136.8 356.0,136.8 360.0,136.8 364.0,136.8 368.0,136.8 372.0,136.9 376.0,136.9 380.0,136.9 384.0,136.9 388.0,136.9 392.0,136.9 396.0,137.0 400.0,137.0 404.0,137.0 408.0,137.2 412.0,137.4 416.0,137.7 420.0,137.9 424.0,138.2 428.0,138.4 432.0,138.7 436.0,138.9 440.0,139.2 444.0,139.4 448.0,139.6 452.0,139.9 456.0,140.1 460.0,140.4 464.0,140.6 468.0,140.9 472.0,141.3 476.0,141.9 480.0,142.5 484.0,143.1 488.0,143.7 492.0,144.2 496.0,144.8 500.0,145.4 503.0,145.9 504.0,146.6 508.0,149.4 512.0,150.9 516.0,152.3 520.0,154.8 524.0,156.7 528.0,158.6 532.0,160.1 536.0,161.2 540.0,162.4 544.0,163.7 548.0,165.1 552.0,166.6 556.0,167.7 560.0,168.9 564.0,170.0 568.0,171.1 572.0,172.4 576.0,173.5 580.0,174.3 584.0,175.2 588.0,175.9 592.0,176.5 596.0,177.1 600.0,177.4 604.0,177.9 608.0,178.4 612.0,178.8 616.0,179.3 620.0,179.8 624.0,180.2 628.0,180.7 632.0,181.1 636.0,181.6 640.0,182.1 644.0,182.5 648.0,183.0 652.0,183.5 656.0,184.1 660.0,184.7 664.0,185.4 668.0,186.2 672.0,186.9 676.0,187.7 680.0,188.4 684.0,189.1 688.0,189.9 692.0,190.6 696.0,191.3 700.0,192.0 704.0,192.8 708.0,193.5 712.0,194.2 716.0,194.9 720.0,195.6 724.0,196.3 728.0,197.0 732.0,197.7 736.0,198.4 740.0,199.1 744.0,199.8 748.0,200.5 752.0,201.2 756.0,201.9 760.0,202.6 764.0,203.3 768.0,204.0 772.0,204.7 776.0,205.4 780.0,206.1 784.0,206.8 788.0,207.5 792.0,208.2 796.0,208.7 800.0,209.3 804.0,209.8 808.0,210.2 812.0,210.7 816.0,211.2 820.0,211.7 824.0,212.1 828.0,212.6 832.0,213.1 836.0,213.5 840.0,214.0 844.0,214.5 848.0,214.9 852.0,215.4 856.0,215.9 860.0,216.4 864.0,216.8 868.0,217.3 872.0,217.8 876.0,218.3 880.0,218.8 884.0,219.4 888.0,220.0 892.0,220.6 896.0,221.1 900.0,221.7 904.0,222.3 908.0,222.8 912.0,223.3 916.0,223.9 920.0,224.4 924.0,225.0 928.0,225.5 932.0,226.1 936.0,226.6 940.0,227.2 944.0,227.7 948.0,228.5 952.0,229.3 956.0,230.2 960.0,231.3 964.0,232.3 968.0,233.4 972.0,234.4 976.0,235.5 980.0,236.6 984.0,237.6 988.0,238.7 992.0,239.7 996.0,240.8 1000.0,241.9 1004.0,243.0 1008.0,244.1 1012.0,245.2 1016.0,246.4 1020.0,247.5 1024.0,248.6 1028.0,249.7 1032.0,250.8 1036.0,252.0 1040.0,253.1 1044.0,254.2 1048.0,255.3 1052.0,256.4 1056.0,257.7 1060.0,258.9 1064.0,260.2 1068.0,261.8 1072.0,263.4 1076.0,265.1 1080.0,267.0 1084.0,268.9 1088.0,270.8 1092.0,272.7 1096.0,274.6 1100.0,277.0 1104.0,270.9 1108.0,265.2 1112.0,262.9 1116.0,264.9 1120.0,269.7 1124.0,271.9 1128.0,274.0 1132.0,276.1 1136.0,278.3 1140.0,280.4 1144.0,282.5 1148.0,284.6 1152.0,291.6 1156.0,297.7 1160.0,303.8 1164.0,308.5 1168.0,311.7 1172.0,314.8 1176.0,318.3 1180.0,322.0 1184.0,325.6 1188.0,329.3 1192.0,332.9 1196.0,337.9 1200.0,346.7 1204.0,355.6 1208.0,359.3 1212.0,359.3 1216.0,410.0 181.0,410.0" fill="#b4d858"/>
<polygon points="181.0,165.2 184.0,163.9 188.0,162.3 191.4,160.9 192.0,160.7 196.0,159.1 200.0,157.4 204.0,156.5 208.0,155.6 212.0,154.6 216.0,153.7 220.0,152.7 224.0,151.8 225.0,151.6 228.0,150.6 232.0,149.4 236.0,148.2 240.0,147.0 244.0,145.8 248.0,144.6 252.0,144.1 256.0,143.6 260.0,143.1 264.0,142.5 268.0,142.0 272.0,141.5 276.0,141.0 280.0,140.5 284.0,140.0 288.0,139.4 292.0,139.2 296.0,139.1 300.0,139.1 304.0,139.1 308.0,139.0 312.0,139.0 316.0,139.0 320.0,138.9 324.0,138.9 328.0,138.9 332.0,138.9 336.0,138.9 340.0,138.9 344.0,138.9 348.0,138.9 352.0,138.9 356.0,138.9 360.0,138.9 364.0,138.9 368.0,138.9 372.0,139.0 376.0,139.0 380.0,139.0 384.0,139.0 388.0,139.0 392.0,139.0 396.0,139.0 400.0,139.0 404.0,139.0 408.0,139.2 412.0,139.4 416.0,139.7 420.0,139.9 424.0,140.2 428.0,140.4 432.0,140.7 436.0,140.9 440.0,141.2 444.0,141.4 448.0,141.6 452.0,141.9 456.0,142.1 460.0,142.4 464.0,142.6 468.0,142.9 472.0,143.3 476.0,144.0 480.0,144.6 484.0,145.2 488.0,145.9 492.0,146.5 496.0,147.2 500.0,147.8 503.0,148.3 504.0,148.9 508.0,151.4 512.0,152.6 516.0,153.7 520.0,156.2 524.0,157.9 528.0,159.7 532.0,161.1 536.0,162.2 540.0,163.3 544.0,164.5 548.0,165.9 552.0,167.3 556.0,168.4 560.0,169.6 564.0,170.6 568.0,171.7 572.0,173.0 576.0,174.0 580.0,174.8 584.0,175.7 588.0,176.3 592.0,176.9 596.0,177.5 600.0,177.8 604.0,178.2 608.0,178.7 612.0,179.2 616.0,179.6 620.0,180.1 624.0,180.6 628.0,181.0 632.0,181.5 636.0,181.9 640.0,182.4 644.0,182.9 648.0,183.3 652.0,183.9 656.0,184.5 660.0,185.1 664.0,185.8 668.0,186.5 672.0,187.3 676.0,188.0 680.0,188.7 684.0,189.5 688.0,190.2 692.0,191.0 696.0,191.7 700.0,192.4 704.0,193.1 708.0,193.8 712.0,194.5 716.0,195.2 720.0,195.9 724.0,196.6 728.0,197.3 732.0,198.0 736.0,198.7 740.0,199.4 744.0,200.1 748.0,200.8 752.0,201.5 756.0,202.2 760.0,202.9 764.0,203.6 768.0,204.3 772.0,205.0 776.0,205.7 780.0,206.4 784.0,207.1 788.0,207.8 792.0,208.5 796.0,209.0 800.0,209.5 804.0,210.1 808.0,210.5 812.0,211.0 816.0,211.5 820.0,212.0 824.0,212.4 828.0,212.9 832.0,213.4 836.0,213.9 840.0,214.4 844.0,214.8 848.0,215.3 852.0,215.8 856.0,216.3 860.0,216.7 864.0,217.2 868.0,217.7 872.0,218.2 876.0,218.7 880.0,219.3 884.0,219.8 888.0,220.4 892.0,221.0 896.0,221.6 900.0,222.1 904.0,222.7 908.0,223.2 912.0,223.8 916.0,224.3 920.0,224.9 924.0,225.4 928.0,226.0 932.0,226.5 936.0,227.1 940.0,227.6 944.0,228.1 948.0,228.9 952.0,229.7 956.0,230.6 960.0,231.7 964.0,232.7 968.0,233.8 972.0,234.8 976.0,235.9 980.0,237.0 984.0,238.0 988.0,239.1 992.0,240.1 996.0,241.2 1000.0,242.3 1004.0,243.4 1008.0,244.5 1012.0,245.6 1016.0,246.7 1020.0,247.8 1024.0,248.9 1028.0,250.0 1032.0,251.2 1036.0,252.3 1040.0,253.4 1044.0,254.5 1048.0,255.6 1052.0,256.7 1056.0,257.9 1060.0,259.2 1064.0,260.5 1068.0,262.1 1072.0,263.7 1076.0,265.3 1080.0,267.2 1084.0,269.1 1088.0,270.9 1092.0,272.8 1096.0,274.7 1100.0,277.2 1104.0,271.0 1108.0,265.3 1112.0,262.9 1116.0,264.9 1120.0,269.7 1124.0,271.9 1128.0,274.0 1132.0,276.1 1136.0,278.3 1140.0,280.4 1144.0,282.5 1148.0,284.6 1152.0,291.6 1156.0,297.7 1160.0,303.8 1164.0,308.5 1168.0,311.7 1172.0,314.8 1176.0,318.3 1180.0,322.0 1184.0,325.6 1188.0,329.3 1192.0,332.9 1196.0,337.9 1200.0,346.7 1204.0,355.6 1208.0,359.3 1212.0,359.3 1216.0,410.0 181.0,410.0" fill="#d0e244"/>
<polygon points="181.0,165.4 184.0,164.6 188.0,163.6 191.4,162.7 192.0,162.5 196.0,161.5 200.0,160.5 204.0,159.8 208.0,159.1 212.0,158.5 216.0,157.8 220.0,157.2 224.0,156.5 225.0,156.3 228.0,155.5 232.0,154.4 236.0,153.3 240.0,152.1 244.0,151.0 248.0,149.9 252.0,149.4 256.0,148.8 260.0,148.3 264.0,147.8 268.0,147.2 272.0,146.7 276.0,146.2 280.0,145.6 284.0,145.1 288.0,144.6 292.0,144.2 296.0,144.0 300.0,143.9 304.0,143.7 308.0,143.5 312.0,143.4 316.0,143.2 320.0,143.0 324.0,142.8 328.0,142.8 332.0,142.7 336.0,142.6 340.0,142.6 344.0,142.5 348.0,142.5 352.0,142.4 356.0,142.4 360.0,142.3 364.0,142.2 368.0,142.2 372.0,142.1 376.0,142.1 380.0,142.0 384.0,142.0 388.0,141.9 392.0,141.8 396.0,141.8 400.0,141.7 404.0,141.7 408.0,141.9 412.0,142.2 416.0,142.4 420.0,142.7 424.0,143.0 428.0,143.3 432.0,143.6 436.0,143.9 440.0,144.2 444.0,144.4 448.0,144.7 452.0,145.0 456.0,145.3 460.0,145.6 464.0,145.9 468.0,146.2 472.0,146.6 476.0,147.3 480.0,148.0 484.0,148.7 488.0,149.4 492.0,150.1 496.0,150.7 500.0,151.4 503.0,151.9 504.0,152.5 508.0,154.7 512.0,155.5 516.0,156.2 520.0,158.6 524.0,160.2 528.0,161.8 532.0,163.1 536.0,164.1 540.0,165.0 544.0,166.2 548.0,167.5 552.0,168.8 556.0,169.8 560.0,170.9 564.0,171.8 568.0,172.8 572.0,174.1 576.0,175.1 580.0,175.9 584.0,176.7 588.0,177.3 592.0,177.9 596.0,178.4 600.0,178.7 604.0,179.2 608.0,179.6 612.0,180.1 616.0,180.6 620.0,181.0 624.0,181.5 628.0,181.9 632.0,182.4 636.0,182.9 640.0,183.3 644.0,183.8 648.0,184.3 652.0,184.8 656.0,185.4 660.0,186.0 664.0,186.7 668.0,187.5 672.0,188.2 676.0,188.9 680.0,189.7 684.0,190.4 688.0,191.2 692.0,191.9 696.0,192.6 700.0,193.3 704.0,194.0 708.0,194.7 712.0,195.4 716.0,196.1 720.0,196.8 724.0,197.5 728.0,198.2 732.0,198.9 736.0,199.6 740.0,200.3 744.0,201.0 748.0,201.7 752.0,202.4 756.0,203.1 760.0,203.8 764.0,204.5 768.0,205.2 772.0,205.9 776.0,206.6 780.0,207.3 784.0,208.0 788.0,208.7 792.0,209.4 796.0,209.9 800.0,210.4 804.0,210.9 808.0,211.4 812.0,211.9 816.0,212.4 820.0,212.8 824.0,213.3 828.0,213.8 832.0,214.2 836.0,214.7 840.0,215.2 844.0,215.6 848.0,216.1 852.0,216.6 856.0,217.1 860.0,217.5 864.0,218.0 868.0,218.5 872.0,219.0 876.0,219.5 880.0,220.0 884.0,220.6 888.0,221.2 892.0,221.7 896.0,222.3 900.0,222.9 904.0,223.4 908.0,223.9 912.0,224.5 916.0,225.0 920.0,225.6 924.0,226.1 928.0,226.6 932.0,227.2 936.0,227.7 940.0,228.3 944.0,228.8 948.0,229.6 952.0,230.4 956.0,231.3 960.0,232.3 964.0,233.4 968.0,234.4 972.0,235.5 976.0,236.5 980.0,237.6 984.0,238.6 988.0,239.7 992.0,240.7 996.0,241.8 1000.0,242.8 1004.0,243.9 1008.0,245.0 1012.0,246.1 1016.0,247.2 1020.0,248.3 1024.0,249.4 1028.0,250.5 1032.0,251.6 1036.0,252.7 1040.0,253.8 1044.0,254.9 1048.0,256.0 1052.0,257.1 1056.0,258.3 1060.0,259.6 1064.0,260.9 1068.0,262.4 1072.0,264.0 1076.0,265.6 1080.0,267.5 1084.0,269.4 1088.0,271.2 1092.0,273.1 1096.0,275.0 1100.0,277.4 1104.0,271.2 1108.0,265.4 1112.0,262.9 1116.0,264.9 1120.0,269.7 1124.0,271.9 1128.0,274.0 1132.0,276.1 1136.0,278.3 1140.0,280.4 1144.0,282.5 1148.0,284.6 1152.0,291.6 1156.0,297.7 1160.0,303.8 1164.0,308.5 1168.0,311.7 1172.0,314.8 1176.0,318.3 1180.0,322.0 1184.0,325.6 1188.0,329.3 1192.0,332.9 1196.0,337.9 1200.0,346.7 1204.0,355.6 1208.0,359.3 1212.0,359.3 1216.0,410.0 181.0,410.0" fill="#efe934"/>
<polygon points="181.0,165.5 184.0,165.2 188.0,164.7 191.4,164.4 192.0,164.3 196.0,163.8 200.0,163.4 204.0,163.0 208.0,162.6 212.0,162.2 216.0,161.9 220.0,161.5 224.0,161.1 225.0,161.0 228.0,160.5 232.0,159.7 236.0,159.0 240.0,158.2 244.0,157.5 248.0,156.7 252.0,156.2 256.0,155.8 260.0,155.3 264.0,154.9 268.0,154.4 272.0,154.0 276.0,153.5 280.0,153.0 284.0,152.6 288.0,152.1 292.0,151.7 296.0,151.3 300.0,150.9 304.0,150.5 308.0,150.1 312.0,149.7 316.0,149.3 320.0,148.9 324.0,148.5 328.0,148.3 332.0,148.1 336.0,147.9 340.0,147.8 344.0,147.6 348.0,147.4 352.0,147.2 356.0,147.1 360.0,146.9 364.0,146.7 368.0,146.6 372.0,146.4 376.0,146.2 380.0,146.0 384.0,145.9 388.0,145.7 392.0,145.5 396.0,145.4 400.0,145.2 404.0,145.0 408.0,145.3 412.0,145.6 416.0,146.0 420.0,146.3 424.0,146.7 428.0,147.1 432.0,147.4 436.0,147.8 440.0,148.2 444.0,148.5 448.0,148.9 452.0,149.3 456.0,149.6 460.0,150.0 464.0,150.4 468.0,150.7 472.0,151.3 476.0,152.0 480.0,152.7 484.0,153.4 488.0,154.1 492.0,154.8 496.0,155.6 500.0,156.3 503.0,156.8 504.0,157.3 508.0,159.0 512.0,159.4 516.0,159.8 520.0,162.0 524.0,163.5 528.0,165.0 532.0,166.1 536.0,166.9 540.0,167.7 544.0,168.7 548.0,169.8 552.0,171.0 556.0,171.9 560.0,172.8 564.0,173.6 568.0,174.5 572.0,175.7 576.0,176.7 580.0,177.5 584.0,178.3 588.0,178.9 592.0,179.5 596.0,180.0 600.0,180.2 604.0,180.7 608.0,181.1 612.0,181.6 616.0,182.1 620.0,182.5 624.0,183.0 628.0,183.5 632.0,183.9 636.0,184.4 640.0,184.9 644.0,185.3 648.0,185.8 652.0,186.3 656.0,186.9 660.0,187.5 664.0,188.2 668.0,189.0 672.0,189.7 676.0,190.5 680.0,191.2 684.0,191.9 688.0,192.7 692.0,193.4 696.0,194.1 700.0,194.9 704.0,195.6 708.0,196.3 712.0,197.0 716.0,197.7 720.0,198.4 724.0,199.1 728.0,199.7 732.0,200.4 736.0,201.1 740.0,201.8 744.0,202.5 748.0,203.2 752.0,203.9 756.0,204.6 760.0,205.3 764.0,206.0 768.0,206.7 772.0,207.4 776.0,208.1 780.0,208.8 784.0,209.5 788.0,210.2 792.0,210.9 796.0,211.4 800.0,211.9 804.0,212.4 808.0,212.9 812.0,213.3 816.0,213.8 820.0,214.2 824.0,214.7 828.0,215.1 832.0,215.6 836.0,216.0 840.0,216.5 844.0,216.9 848.0,217.4 852.0,217.8 856.0,218.3 860.0,218.7 864.0,219.2 868.0,219.6 872.0,220.1 876.0,220.6 880.0,221.1 884.0,221.7 888.0,222.2 892.0,222.8 896.0,223.3 900.0,223.9 904.0,224.4 908.0,224.9 912.0,225.5 916.0,226.0 920.0,226.5 924.0,227.0 928.0,227.6 932.0,228.1 936.0,228.6 940.0,229.2 944.0,229.7 948.0,230.5 952.0,231.3 956.0,232.1 960.0,233.2 964.0,234.2 968.0,235.2 972.0,236.3 976.0,237.3 980.0,238.4 984.0,239.4 988.0,240.4 992.0,241.5 996.0,242.5 1000.0,243.6 1004.0,244.7 1008.0,245.8 1012.0,246.8 1016.0,247.9 1020.0,249.0 1024.0,250.1 1028.0,251.2 1032.0,252.3 1036.0,253.4 1040.0,254.4 1044.0,255.5 1048.0,256.6 1052.0,257.7 1056.0,258.9 1060.0,260.1 1064.0,261.3 1068.0,262.9 1072.0,264.4 1076.0,266.1 1080.0,267.9 1084.0,269.8 1088.0,271.6 1092.0,273.5 1096.0,275.3 1100.0,277.7 1104.0,271.4 1108.0,265.5 1112.0,263.0 1116.0,264.9 1120.0,269.7 1124.0,271.9 1128.0,274.0 1132.0,276.1 1136.0,278.3 1140.0,280.4 1144.0,282.5 1148.0,284.6 1152.0,291.6 1156.0,297.7 1160.0,303.8 1164.0,308.5 1168.0,311.7 1172.0,314.8 1176.0,318.3 1180.0,322.0 1184.0,325.6 1188.0,329.3 1192.0,332.9 1196.0,337.9 1200.0,346.7 1204.0,355.6 1208.0,359.3 1212.0,359.3 1216.0,410.0 181.0,410.0" fill="#f7de38"/>
<polygon points="181.0,165.7 184.0,165.8 188.0,165.9 191.4,166.0 192.0,166.0 196.0,166.2 200.0,166.3 204.0,166.2 208.0,166.1 212.0,166.0 216.0,165.9 220.0,165.8 224.0,165.7 225.0,165.7 228.0,165.4 232.0,165.0 236.0,164.6 240.0,164.3 244.0,163.9 248.0,163.5 252.0,163.1 256.0,162.7 260.0,162.4 264.0,162.0 268.0,161.6 272.0,161.2 276.0,160.8 280.0,160.5 284.0,160.1 288.0,159.7 292.0,159.2 296.0,158.6 300.0,157.9 304.0,157.3 308.0,156.7 312.0,156.0 316.0,155.4 320.0,154.8 324.0,154.2 328.0,153.8 332.0,153.5 336.0,153.2 340.0,152.9 344.0,152.6 348.0,152.4 352.0,152.1 356.0,151.8 360.0,151.5 364.0,151.2 368.0,150.9 372.0,150.7 376.0,150.4 380.0,150.1 384.0,149.8 388.0,149.5 392.0,149.2 396.0,148.9 400.0,148.7 404.0,148.4 408.0,148.6 412.0,149.1 416.0,149.5 420.0,150.0 424.0,150.4 428.0,150.8 432.0,151.3 436.0,151.7 440.0,152.2 444.0,152.6 448.0,153.1 452.0,153.5 456.0,153.9 460.0,154.4 464.0,154.8 468.0,155.3 472.0,155.9 476.0,156.6 480.0,157.4 484.0,158.1 488.0,158.9 492.0,159.6 496.0,160.4 500.0,161.1 503.0,161.7 504.0,162.0 508.0,163.4 512.0,163.4 516.0,163.4 520.0,165.4 524.0,166.8 528.0,168.1 532.0,169.1 536.0,169.7 540.0,170.3 544.0,171.2 548.0,172.2 552.0,173.2 556.0,173.9 560.0,174.7 564.0,175.4 568.0,176.1 572.0,177.4 576.0,178.3 580.0,179.1 584.0,179.9 588.0,180.5 592.0,181.0 596.0,181.5 600.0,181.7 604.0,182.2 608.0,182.7 612.0,183.1 616.0,183.6 620.0,184.1 624.0,184.5 628.0,185.0 632.0,185.4 636.0,185.9 640.0,186.4 644.0,186.8 648.0,187.3 652.0,187.8 656.0,188.4 660.0,189.1 664.0,189.8 668.0,190.5 672.0,191.2 676.0,192.0 680.0,192.7 684.0,193.5 688.0,194.2 692.0,194.9 696.0,195.7 700.0,196.4 704.0,197.1 708.0,197.8 712.0,198.5 716.0,199.2 720.0,199.9 724.0,200.6 728.0,201.3 732.0,202.0 736.0,202.6 740.0,203.3 744.0,204.0 748.0,204.7 752.0,205.4 756.0,206.1 760.0,206.8 764.0,207.5 768.0,208.2 772.0,208.9 776.0,209.6 780.0,210.3 784.0,211.0 788.0,211.7 792.0,212.4 796.0,212.9 800.0,213.4 804.0,213.9 808.0,214.3 812.0,214.7 816.0,215.2 820.0,215.6 824.0,216.0 828.0,216.5 832.0,216.9 836.0,217.3 840.0,217.8 844.0,218.2 848.0,218.6 852.0,219.0 856.0,219.5 860.0,219.9 864.0,220.3 868.0,220.8 872.0,221.2 876.0,221.7 880.0,222.2 884.0,222.7 888.0,223.3 892.0,223.8 896.0,224.3 900.0,224.9 904.0,225.4 908.0,225.9 912.0,226.4 916.0,226.9 920.0,227.5 924.0,228.0 928.0,228.5 932.0,229.0 936.0,229.5 940.0,230.1 944.0,230.6 948.0,231.4 952.0,232.1 956.0,233.0 960.0,234.0 964.0,235.0 968.0,236.1 972.0,237.1 976.0,238.1 980.0,239.2 984.0,240.2 988.0,241.2 992.0,242.3 996.0,243.3 1000.0,244.4 1004.0,245.4 1008.0,246.5 1012.0,247.6 1016.0,248.6 1020.0,249.7 1024.0,250.8 1028.0,251.8 1032.0,252.9 1036.0,254.0 1040.0,255.0 1044.0,256.1 1048.0,257.2 1052.0,258.2 1056.0,259.4 1060.0,260.6 1064.0,261.8 1068.0,263.4 1072.0,264.9 1076.0,266.5 1080.0,268.3 1084.0,270.2 1088.0,272.0 1092.0,273.8 1096.0,275.7 1100.0,278.1 1104.0,271.7 1108.0,265.7 1112.0,263.0 1116.0,264.9 1120.0,269.7 1124.0,271.9 1128.0,274.0 1132.0,276.1 1136.0,278.3 1140.0,280.4 1144.0,282.5 1148.0,284.6 1152.0,291.6 1156.0,297.7 1160.0,303.8 1164.0,308.5 1168.0,311.7 1172.0,314.8 1176.0,318.3 1180.0,322.0 1184.0,325.6 1188.0,329.3 1192.0,332.9 1196.0,337.9 1200.0,346.7 1204.0,355.6 1208.0,359.3 1212.0,359.3 1216.0,410.0 181.0,410.0" fill="#f8ab38"/>
<polygon points="181.0,165.8 184.0,166.0 188.0,166.2 191.4,166.4 192.0,166.4 196.0,166.6 200.0,166.8 204.0,166.8 208.0,166.8 212.0,166.8 216.0,166.8 220.0,166.8 224.0,166.8 225.0,166.8 228.0,166.5 232.0,166.2 236.0,165.9 240.0,165.5 244.0,165.2 248.0,164.9 252.0,164.5 256.0,164.2 260.0,163.8 264.0,163.4 268.0,163.1 272.0,162.7 276.0,162.4 280.0,162.0 284.0,161.7 288.0,161.3 292.0,160.8 296.0,160.2 300.0,159.6 304.0,159.0 308.0,158.4 312.0,157.8 316.0,157.2 320.0,156.6 324.0,156.0 328.0,155.7 332.0,155.4 336.0,155.2 340.0,154.9 344.0,154.7 348.0,154.4 352.0,154.1 356.0,153.9 360.0,153.6 364.0,153.4 368.0,153.1 372.0,152.8 376.0,152.6 380.0,152.3 384.0,152.1 388.0,151.8 392.0,151.6 396.0,151.3 400.0,151.0 404.0,150.8 408.0,151.0 412.0,151.5 416.0,151.9 420.0,152.3 424.0,152.7 428.0,153.1 432.0,153.5 436.0,154.0 440.0,154.4 444.0,154.8 448.0,155.2 452.0,155.6 456.0,156.0 460.0,156.5 464.0,156.9 468.0,157.3 472.0,157.8 476.0,158.5 480.0,159.2 484.0,159.9 488.0,160.6 492.0,161.3 496.0,162.0 500.0,162.6 503.0,163.1 504.0,163.5 508.0,164.9 512.0,165.0 516.0,165.0 520.0,166.9 524.0,168.2 528.0,169.4 532.0,170.3 536.0,170.8 540.0,171.3 544.0,172.2 548.0,173.2 552.0,174.2 556.0,174.9 560.0,175.7 564.0,176.4 568.0,177.1 572.0,178.3 576.0,179.2 580.0,180.0 584.0,180.8 588.0,181.3 592.0,181.8 596.0,182.2 600.0,182.4 604.0,182.9 608.0,183.4 612.0,183.8 616.0,184.3 620.0,184.8 624.0,185.3 628.0,185.7 632.0,186.2 636.0,186.7 640.0,187.2 644.0,187.7 648.0,188.1 652.0,188.7 656.0,189.3 660.0,189.9 664.0,190.7 668.0,191.4 672.0,192.2 676.0,192.9 680.0,193.7 684.0,194.4 688.0,195.2 692.0,195.9 696.0,196.6 700.0,197.4 704.0,198.1 708.0,198.8 712.0,199.5 716.0,200.2 720.0,200.9 724.0,201.6 728.0,202.3 732.0,203.0 736.0,203.6 740.0,204.3 744.0,205.0 748.0,205.7 752.0,206.4 756.0,207.1 760.0,207.8 764.0,208.5 768.0,209.2 772.0,209.9 776.0,210.6 780.0,211.3 784.0,212.0 788.0,212.7 792.0,213.4 796.0,213.9 800.0,214.4 804.0,214.9 808.0,215.3 812.0,215.7 816.0,216.1 820.0,216.5 824.0,216.9 828.0,217.4 832.0,217.8 836.0,218.2 840.0,218.6 844.0,219.0 848.0,219.5 852.0,219.9 856.0,220.3 860.0,220.7 864.0,221.1 868.0,221.6 872.0,222.0 876.0,222.5 880.0,222.9 884.0,223.5 888.0,224.0 892.0,224.5 896.0,225.0 900.0,225.5 904.0,226.1 908.0,226.6 912.0,227.1 916.0,227.6 920.0,228.1 924.0,228.6 928.0,229.1 932.0,229.7 936.0,230.2 940.0,230.7 944.0,231.2 948.0,232.0 952.0,232.7 956.0,233.6 960.0,234.6 964.0,235.6 968.0,236.7 972.0,237.7 976.0,238.7 980.0,239.7 984.0,240.8 988.0,241.8 992.0,242.8 996.0,243.9 1000.0,244.9 1004.0,246.0 1008.0,247.0 1012.0,248.1 1016.0,249.1 1020.0,250.2 1024.0,251.2 1028.0,252.3 1032.0,253.4 1036.0,254.4 1040.0,255.5 1044.0,256.5 1048.0,257.6 1052.0,258.6 1056.0,259.8 1060.0,261.0 1064.0,262.2 1068.0,263.7 1072.0,265.2 1076.0,266.8 1080.0,268.7 1084.0,270.5 1088.0,272.3 1092.0,274.1 1096.0,275.9 1100.0,278.3 1104.0,271.8 1108.0,265.8 1112.0,263.1 1116.0,264.9 1120.0,269.7 1124.0,271.9 1128.0,274.0 1132.0,276.1 1136.0,278.3 1140.0,280.4 1144.0,282.5 1148.0,284.6 1152.0,291.6 1156.0,297.7 1160.0,303.8 1164.0,308.5 1168.0,311.7 1172.0,314.8 1176.0,318.3 1180.0,322.0 1184.0,325.6 1188.0,329.3 1192.0,332.9 1196.0,337.9 1200.0,346.7 1204.0,355.6 1208.0,359.3 1212.0,359.3 1216.0,410.0 181.0,410.0" fill="#f4843a"/>
<polygon points="181.0,165.9 184.0,166.2 188.0,166.4 191.4,166.7 192.0,166.7 196.0,167.0 200.0,167.3 204.0,167.4 208.0,167.5 212.0,167.6 216.0,167.7 220.0,167.7 224.0,167.8 225.0,167.8 228.0,167.6 232.0,167.4 236.0,167.1 240.0,166.8 244.0,166.5 248.0,166.2 252.0,165.9 256.0,165.6 260.0,165.2 264.0,164.9 268.0,164.6 272.0,164.2 276.0,163.9 280.0,163.6 284.0,163.2 288.0,162.9 292.0,162.5 296.0,161.9 300.0,161.3 304.0,160.8 308.0,160.2 312.0,159.6 316.0,159.0 320.0,158.5 324.0,157.9 328.0,157.6 332.0,157.3 336.0,157.1 340.0,156.9 344.0,156.7 348.0,156.4 352.0,156.2 356.0,156.0 360.0,155.7 364.0,155.5 368.0,155.3 372.0,155.0 376.0,154.8 380.0,154.6 384.0,154.4 388.0,154.1 392.0,153.9 396.0,153.7 400.0,153.4 404.0,153.2 408.0,153.4 412.0,153.8 416.0,154.2 420.0,154.6 424.0,155.0 428.0,155.4 432.0,155.8 436.0,156.2 440.0,156.6 444.0,157.0 448.0,157.4 452.0,157.7 456.0,158.1 460.0,158.5 464.0,158.9 468.0,159.3 472.0,159.8 476.0,160.4 480.0,161.0 484.0,161.7 488.0,162.3 492.0,162.9 496.0,163.5 500.0,164.1 503.0,164.6 504.0,165.0 508.0,166.4 512.0,166.5 516.0,166.6 520.0,168.4 524.0,169.6 528.0,170.7 532.0,171.5 536.0,171.9 540.0,172.3 544.0,173.1 548.0,174.2 552.0,175.2 556.0,175.9 560.0,176.7 564.0,177.4 568.0,178.1 572.0,179.3 576.0,180.2 580.0,180.9 584.0,181.6 588.0,182.1 592.0,182.5 596.0,182.9 600.0,183.1 604.0,183.6 608.0,184.1 612.0,184.6 616.0,185.0 620.0,185.5 624.0,186.0 628.0,186.5 632.0,187.0 636.0,187.5 640.0,188.0 644.0,188.5 648.0,189.0 652.0,189.5 656.0,190.2 660.0,190.8 664.0,191.5 668.0,192.3 672.0,193.1 676.0,193.8 680.0,194.6 684.0,195.4 688.0,196.1 692.0,196.9 696.0,197.6 700.0,198.4 704.0,199.1 708.0,199.8 712.0,200.5 716.0,201.2 720.0,201.9 724.0,202.6 728.0,203.3 732.0,204.0 736.0,204.6 740.0,205.3 744.0,206.0 748.0,206.7 752.0,207.4 756.0,208.1 760.0,208.8 764.0,209.5 768.0,210.2 772.0,210.9 776.0,211.6 780.0,212.3 784.0,213.0 788.0,213.7 792.0,214.4 796.0,214.9 800.0,215.4 804.0,215.8 808.0,216.2 812.0,216.7 816.0,217.1 820.0,217.5 824.0,217.9 828.0,218.3 832.0,218.7 836.0,219.1 840.0,219.5 844.0,219.9 848.0,220.3 852.0,220.7 856.0,221.1 860.0,221.5 864.0,221.9 868.0,222.3 872.0,222.8 876.0,223.2 880.0,223.7 884.0,224.2 888.0,224.7 892.0,225.2 896.0,225.7 900.0,226.2 904.0,226.7 908.0,227.2 912.0,227.8 916.0,228.3 920.0,228.8 924.0,229.3 928.0,229.8 932.0,230.3 936.0,230.8 940.0,231.3 944.0,231.8 948.0,232.6 952.0,233.4 956.0,234.2 960.0,235.2 964.0,236.2 968.0,237.3 972.0,238.3 976.0,239.3 980.0,240.3 984.0,241.3 988.0,242.4 992.0,243.4 996.0,244.4 1000.0,245.5 1004.0,246.5 1008.0,247.5 1012.0,248.6 1016.0,249.6 1020.0,250.7 1024.0,251.7 1028.0,252.8 1032.0,253.8 1036.0,254.9 1040.0,255.9 1044.0,257.0 1048.0,258.0 1052.0,259.1 1056.0,260.2 1060.0,261.4 1064.0,262.6 1068.0,264.1 1072.0,265.6 1076.0,267.2 1080.0,269.0 1084.0,270.8 1088.0,272.6 1092.0,274.4 1096.0,276.2 1100.0,278.6 1104.0,272.0 1108.0,265.9 1112.0,263.1 1116.0,264.9 1120.0,269.7 1124.0,271.9 1128.0,274.0 1132.0,276.1 1136.0,278.3 1140.0,280.4 1144.0,282.5 1148.0,284.6 1152.0,291.6 1156.0,297.7 1160.0,303.8 1164.0,308.5 1168.0,311.7 1172.0,314.8 1176.0,318.3 1180.0,322.0 1184.0,325.6 1188.0,329.3 1192.0,332.9 1196.0,337.9 1200.0,346.7 1204.0,355.6 1208.0,359.3 1212.0,359.3 1216.0,410.0 181.0,410.0" fill="#ee5c36"/>
<polygon points="181.0,166.1 184.0,166.3 188.0,166.7 191.4,167.0 192.0,167.1 196.0,167.4 200.0,167.8 204.0,168.0 208.0,168.2 212.0,168.3 216.0,168.5 220.0,168.7 224.0,168.9 225.0,168.9 228.0,168.8 232.0,168.5 236.0,168.3 240.0,168.1 244.0,167.9 248.0,167.6 252.0,167.3 256.0,167.0 260.0,166.7 264.0,166.4 268.0,166.1 272.0,165.8 276.0,165.5 280.0,165.1 284.0,164.8 288.0,164.5 292.0,164.1 296.0,163.6 300.0,163.0 304.0,162.5 308.0,161.9 312.0,161.4 316.0,160.8 320.0,160.3 324.0,159.8 328.0,159.5 332.0,159.3 336.0,159.1 340.0,158.9 344.0,158.7 348.0,158.5 352.0,158.3 356.0,158.1 360.0,157.9 364.0,157.7 368.0,157.4 372.0,157.2 376.0,157.0 380.0,156.8 384.0,156.6 388.0,156.4 392.0,156.2 396.0,156.0 400.0,155.8 404.0,155.6 408.0,155.8 412.0,156.2 416.0,156.6 420.0,156.9 424.0,157.3 428.0,157.7 432.0,158.0 436.0,158.4 440.0,158.8 444.0,159.1 448.0,159.5 452.0,159.9 456.0,160.2 460.0,160.6 464.0,161.0 468.0,161.3 472.0,161.8 476.0,162.3 480.0,162.9 484.0,163.4 488.0,164.0 492.0,164.5 496.0,165.1 500.0,165.6 503.0,166.0 504.0,166.4 508.0,168.0 512.0,168.1 516.0,168.2 520.0,169.9 524.0,171.0 528.0,172.0 532.0,172.7 536.0,173.0 540.0,173.3 544.0,174.1 548.0,175.1 552.0,176.1 556.0,176.9 560.0,177.7 564.0,178.4 568.0,179.1 572.0,180.2 576.0,181.1 580.0,181.7 584.0,182.4 588.0,182.9 592.0,183.3 596.0,183.7 600.0,183.8 604.0,184.3 608.0,184.8 612.0,185.3 616.0,185.8 620.0,186.3 624.0,186.8 628.0,187.3 632.0,187.8 636.0,188.3 640.0,188.8 644.0,189.3 648.0,189.8 652.0,190.4 656.0,191.0 660.0,191.7 664.0,192.4 668.0,193.2 672.0,194.0 676.0,194.7 680.0,195.5 684.0,196.3 688.0,197.1 692.0,197.9 696.0,198.6 700.0,199.4 704.0,200.1 708.0,200.8 712.0,201.5 716.0,202.2 720.0,202.9 724.0,203.6 728.0,204.3 732.0,205.0 736.0,205.6 740.0,206.3 744.0,207.0 748.0,207.7 752.0,208.4 756.0,209.1 760.0,209.8 764.0,210.5 768.0,211.2 772.0,211.9 776.0,212.6 780.0,213.3 784.0,214.0 788.0,214.7 792.0,215.4 796.0,215.9 800.0,216.4 804.0,216.8 808.0,217.2 812.0,217.6 816.0,218.0 820.0,218.4 824.0,218.8 828.0,219.2 832.0,219.6 836.0,220.0 840.0,220.4 844.0,220.8 848.0,221.1 852.0,221.5 856.0,221.9 860.0,222.3 864.0,222.7 868.0,223.1 872.0,223.5 876.0,224.0 880.0,224.4 884.0,224.9 888.0,225.4 892.0,225.9 896.0,226.4 900.0,226.9 904.0,227.4 908.0,227.9 912.0,228.4 916.0,228.9 920.0,229.4 924.0,229.9 928.0,230.4 932.0,230.9 936.0,231.4 940.0,231.9 944.0,232.5 948.0,233.2 952.0,234.0 956.0,234.8 960.0,235.8 964.0,236.8 968.0,237.8 972.0,238.9 976.0,239.9 980.0,240.9 984.0,241.9 988.0,242.9 992.0,244.0 996.0,245.0 1000.0,246.0 1004.0,247.0 1008.0,248.1 1012.0,249.1 1016.0,250.2 1020.0,251.2 1024.0,252.2 1028.0,253.3 1032.0,254.3 1036.0,255.3 1040.0,256.4 1044.0,257.4 1048.0,258.5 1052.0,259.5 1056.0,260.6 1060.0,261.8 1064.0,263.0 1068.0,264.5 1072.0,265.9 1076.0,267.5 1080.0,269.3 1084.0,271.1 1088.0,272.9 1092.0,274.7 1096.0,276.5 1100.0,278.8 1104.0,272.2 1108.0,266.0 1112.0,263.1 1116.0,264.9 1120.0,269.7 1124.0,271.9 1128.0,274.0 1132.0,276.1 1136.0,278.3 1140.0,280.4 1144.0,282.5 1148.0,284.6 1152.0,291.6 1156.0,297.7 1160.0,303.8 1164.0,308.5 1168.0,311.7 1172.0,314.8 1176.0,318.3 1180.0,322.0 1184.0,325.6 1188.0,329.3 1192.0,332.9 1196.0,337.9 1200.0,346.7 1204.0,355.6 1208.0,359.3 1212.0,359.3 1216.0,410.0 181.0,410.0" fill="#e63638"/>
<polygon points="181.0,166.2 184.0,166.5 188.0,167.0 191.4,167.3 192.0,167.4 196.0,167.9 200.0,168.3 204.0,168.6 208.0,168.8 212.0,169.1 216.0,169.4 220.0,169.7 224.0,169.9 225.0,170.0 228.0,169.9 232.0,169.7 236.0,169.5 240.0,169.3 244.0,169.2 248.0,169.0 252.0,168.7 256.0,168.4 260.0,168.1 264.0,167.9 268.0,167.6 272.0,167.3 276.0,167.0 280.0,166.7 284.0,166.4 288.0,166.1 292.0,165.7 296.0,165.2 300.0,164.7 304.0,164.2 308.0,163.7 312.0,163.2 316.0,162.7 320.0,162.1 324.0,161.6 328.0,161.4 332.0,161.2 336.0,161.0 340.0,160.8 344.0,160.7 348.0,160.5 352.0,160.3 356.0,160.1 360.0,160.0 364.0,159.8 368.0,159.6 372.0,159.4 376.0,159.3 380.0,159.1 384.0,158.9 388.0,158.7 392.0,158.6 396.0,158.4 400.0,158.2 404.0,158.0 408.0,158.3 412.0,158.6 416.0,158.9 420.0,159.3 424.0,159.6 428.0,159.9 432.0,160.3 436.0,160.6 440.0,161.0 444.0,161.3 448.0,161.6 452.0,162.0 456.0,162.3 460.0,162.7 464.0,163.0 468.0,163.3 472.0,163.7 476.0,164.2 480.0,164.7 484.0,165.2 488.0,165.7 492.0,166.2 496.0,166.7 500.0,167.1 503.0,167.5 504.0,167.9 508.0,169.5 512.0,169.7 516.0,169.8 520.0,171.4 524.0,172.4 528.0,173.3 532.0,173.9 536.0,174.1 540.0,174.3 544.0,175.1 548.0,176.1 552.0,177.1 556.0,177.9 560.0,178.7 564.0,179.4 568.0,180.1 572.0,181.2 576.0,182.0 580.0,182.6 584.0,183.3 588.0,183.7 592.0,184.0 596.0,184.4 600.0,184.4 604.0,185.0 608.0,185.5 612.0,186.0 616.0,186.5 620.0,187.0 624.0,187.5 628.0,188.0 632.0,188.6 636.0,189.1 640.0,189.6 644.0,190.1 648.0,190.6 652.0,191.2 656.0,191.9 660.0,192.5 664.0,193.3 668.0,194.1 672.0,194.9 676.0,195.7 680.0,196.5 684.0,197.2 688.0,198.0 692.0,198.8 696.0,199.6 700.0,200.4 704.0,201.1 708.0,201.8 712.0,202.5 716.0,203.2 720.0,203.9 724.0,204.6 728.0,205.3 732.0,206.0 736.0,206.6 740.0,207.3 744.0,208.0 748.0,208.7 752.0,209.4 756.0,210.1 760.0,210.8 764.0,211.5 768.0,212.2 772.0,212.9 776.0,213.6 780.0,214.3 784.0,215.0 788.0,215.7 792.0,216.4 796.0,216.9 800.0,217.4 804.0,217.8 808.0,218.2 812.0,218.6 816.0,219.0 820.0,219.3 824.0,219.7 828.0,220.1 832.0,220.5 836.0,220.9 840.0,221.2 844.0,221.6 848.0,222.0 852.0,222.4 856.0,222.8 860.0,223.1 864.0,223.5 868.0,223.9 872.0,224.3 876.0,224.7 880.0,225.2 884.0,225.6 888.0,226.1 892.0,226.6 896.0,227.1 900.0,227.6 904.0,228.1 908.0,228.6 912.0,229.1 916.0,229.6 920.0,230.1 924.0,230.6 928.0,231.1 932.0,231.6 936.0,232.1 940.0,232.6 944.0,233.1 948.0,233.8 952.0,234.6 956.0,235.4 960.0,236.4 964.0,237.4 968.0,238.4 972.0,239.4 976.0,240.5 980.0,241.5 984.0,242.5 988.0,243.5 992.0,244.5 996.0,245.5 1000.0,246.6 1004.0,247.6 1008.0,248.6 1012.0,249.6 1016.0,250.7 1020.0,251.7 1024.0,252.7 1028.0,253.7 1032.0,254.8 1036.0,255.8 1040.0,256.8 1044.0,257.9 1048.0,258.9 1052.0,259.9 1056.0,261.0 1060.0,262.2 1064.0,263.3 1068.0,264.8 1072.0,266.3 1076.0,267.9 1080.0,269.6 1084.0,271.4 1088.0,273.1 1092.0,274.9 1096.0,276.7 1100.0,279.1 1104.0,272.4 1108.0,266.1 1112.0,263.2 1116.0,264.9 1120.0,269.7 1124.0,271.9 1128.0,274.0 1132.0,276.1 1136.0,278.3 1140.0,280.4 1144.0,282.5 1148.0,284.6 1152.0,291.6 1156.0,297.7 1160.0,303.8 1164.0,308.5 1168.0,311.7 1172.0,314.8 1176.0,318.3 1180.0,322.0 1184.0,325.6 1188.0,329.3 1192.0,332.9 1196.0,337.9 1200.0,346.7 1204.0,355.6 1208.0,359.3 1212.0,359.3 1216.0,410.0 181.0,410.0" fill="#ea1629"/>
<polygon points="150.0,78.6 160.0,78.6 171.4,87.1 176.4,101.4 177.1,122.9 175.7,144.3 171.4,151.0 150.0,151.0" fill="#5a66ba"/>
<polygon points="150.0,93.0 160.0,93.0 166.0,100.0 169.0,120.0 168.0,140.0 164.0,148.0 150.0,148.0" fill="#4f58b0"/>
<polygon points="236.0,250.0 275.0,243.8 325.0,238.8 375.0,235.0 412.5,232.5 450.0,233.0 500.0,234.0 507.5,233.8 503.5,227.5 502.5,203.0 505.0,200.0 573.8,200.0 573.8,238.0 576.0,240.5 588.0,240.5 590.0,238.0 590.0,188.0 592.0,186.0 625.0,187.5 662.0,196.0 687.0,200.5 725.0,208.5 763.0,219.5 800.0,224.0 840.0,226.0 887.5,227.5 915.0,235.0 955.0,246.0 1005.0,257.0 1050.0,270.0 1071.4,275.7 1093.0,285.7 1107.0,293.0 1118.6,301.4 1135.7,311.4 1150.0,321.4 1161.4,333.0 1175.0,348.0 1190.0,365.0 1205.7,384.0 1216.0,410.0 236.0,410.0" fill="#b5172a"/>
<polygon points="470.0,262.0 487.5,275.0 520.0,276.5 625.0,280.0 700.0,276.0 750.0,272.5 772.0,273.8 782.5,267.5 794.0,264.0 796.0,260.0 796.0,219.4 840.0,223.7 882.5,228.0 882.5,250.0 892.5,257.5 930.0,267.5 980.0,280.0 1030.0,290.0 1050.0,297.0 1071.4,301.4 1093.0,307.0 1107.0,313.0 1118.6,321.4 1126.0,329.0 1126.0,410.0 470.0,410.0" fill="#93152a"/>
<polygon points="475.0,30.0 475.0,75.0 486.2,82.5 486.2,102.5 497.3,112.0 497.3,117.6 508.0,126.0 508.0,131.5 519.4,142.4 530.0,150.5 540.8,156.8 551.6,162.0 562.5,166.5 573.5,170.5 584.4,173.3 595.2,175.4 606.2,176.6 617.0,177.9 628.0,179.1 638.9,180.4 649.8,181.6 660.7,183.2 671.6,185.2 682.5,187.2 693.4,189.2 704.2,191.1 715.1,193.1 726.1,195.0 737.0,197.0 747.9,198.9 758.8,200.9 769.6,202.9 780.6,204.8 791.5,206.8 802.4,208.2 813.2,209.5 824.1,210.7 835.1,212.0 846.0,213.2 856.9,214.5 867.8,215.7 878.6,217.1 889.6,218.6 900.5,220.1 911.4,221.7 922.2,223.2 933.1,224.7 944.1,226.2 955.0,228.5 965.9,231.4 976.8,234.3 987.6,237.2 998.6,240.1 1009.5,243.3 1020.4,246.4 1031.2,249.5 1042.2,252.7 1053.1,255.8 1064.0,259.4 1074.8,263.8 1085.8,269.1 1096.7,274.4 1107.6,281.5 1118.6,289.2 1118.6,299.0 1150.0,315.7 1151.4,320.7 1162.1,328.8 1162.1,337.0 1173.1,345.7 1184.0,355.6 1195.0,365.7 1205.7,374.5 1205.7,389.3 1216.0,389.3 1216.0,30.0" fill="#fdfdfd"/>
<polygon points="150.0,136.0 160.0,142.0 170.0,148.0 170.0,157.5 181.0,162.5 181.0,185.0 192.5,191.5 192.5,204.5 203.8,216.0 203.8,230.0 215.0,240.0 215.0,245.0 225.0,245.0 236.0,252.5 246.0,252.5 267.5,267.0 313.8,267.0 335.0,252.5 345.0,252.5 356.0,260.0 377.5,260.0 377.5,252.5 387.5,245.5 432.5,245.5 442.5,252.5 453.8,252.5 465.0,260.0 475.0,260.0 486.0,267.5 486.0,273.0 562.5,328.2 595.0,328.2 605.0,334.4 617.5,334.4 625.0,328.2 650.0,328.0 660.0,320.0 695.0,320.0 705.0,312.5 727.5,312.5 737.5,305.0 760.0,305.0 780.0,290.5 792.0,290.5 812.5,276.2 856.0,276.2 867.5,269.5 877.5,276.2 900.0,276.2 910.0,282.5 922.5,282.5 935.0,291.0 965.0,291.0 977.5,298.8 987.5,298.8 1000.0,306.0 1032.5,306.0 1042.5,313.8 1052.5,313.8 1062.5,320.5 1075.5,321.2 1086.0,328.7 1096.0,322.0 1118.6,322.0 1129.0,328.6 1141.4,329.6 1162.1,344.3 1173.1,352.9 1173.1,358.6 1184.0,365.7 1195.0,374.3 1195.0,381.4 1205.7,389.3 1205.7,388.2 1216.0,388.2 1216.0,410.0 150.0,410.0" fill="#fdfdfd"/>
<polygon points="159.2,159.5 170.2,159.5 170.2,177.5 181.1,177.5 181.1,197.5 192.0,197.5 191.9,217.5 202.8,217.5 202.8,235.0 213.8,235.0 213.8,248.8 224.7,248.8 224.7,255.0 235.6,255.0 235.6,258.8 246.5,258.8 246.4,262.5 257.3,262.5 257.4,267.5 268.2,267.5 268.2,271.0 279.1,271.0 279.1,273.8 290.0,273.8 290.1,273.8 300.9,273.8 301.0,273.8 311.9,273.8 311.9,273.8 322.8,273.8 322.8,272.0 333.6,272.0 333.6,267.5 344.5,267.5 344.6,265.0 355.4,265.0 355.5,265.0 366.4,265.0 366.4,267.0 377.2,267.0 377.2,267.0 388.1,267.0 388.1,257.5 399.0,257.5 399.1,256.0 409.9,256.0 410.0,255.9 420.9,255.9 420.9,255.9 431.8,255.9 431.8,255.9 442.6,255.9 442.7,255.8 453.6,255.8 453.6,260.0 464.4,260.0 464.4,267.5 475.3,267.5 475.4,275.0 486.2,275.0 486.2,282.5 497.1,282.5 497.2,290.9 508.1,290.9 508.1,297.3 519.0,297.3 519.0,304.8 529.9,304.8 529.9,312.9 540.8,312.9 540.8,320.4 551.6,320.4 551.7,327.9 562.6,327.9 562.5,334.3 573.4,334.3 573.5,338.0 584.4,338.0 584.4,340.7 595.2,340.7 595.2,340.7 606.1,340.7 606.2,338.3 617.1,338.3 617.0,337.8 627.9,337.8 628.0,336.8 638.9,336.8 638.9,335.8 649.8,335.8 649.8,334.9 660.6,334.9 660.7,333.7 671.6,333.7 671.6,332.4 682.5,332.4 682.5,331.0 693.4,331.0 693.4,329.9 704.2,329.9 704.2,328.4 715.1,328.4 715.1,326.1 726.0,326.1 726.1,325.4 737.0,325.4 737.0,321.0 747.9,321.0 747.9,315.6 758.8,315.6 758.8,311.0 769.6,311.0 769.6,306.6 780.5,306.6 780.6,302.0 791.5,302.0 791.5,296.2 802.4,296.2 802.4,290.2 813.2,290.2 813.2,284.9 824.1,284.9 824.1,282.6 835.0,282.6 835.1,282.4 846.0,282.4 846.0,281.0 856.9,281.0 856.9,280.3 867.8,280.3 867.8,280.3 878.6,280.3 878.6,282.3 889.5,282.3 889.6,284.0 900.5,284.0 900.5,285.5 911.4,285.5 911.4,288.3 922.2,288.3 922.2,291.5 933.1,291.5 933.1,295.0 944.0,295.0 944.1,297.9 955.0,297.9 955.0,300.2 965.9,300.2 965.9,303.1 976.8,303.1 976.8,305.4 987.6,305.4 987.6,308.4 998.5,308.4 998.6,311.4 1009.5,311.4 1009.5,314.3 1020.4,314.3 1020.4,317.3 1031.2,317.3 1031.2,320.2 1042.2,320.2 1042.2,322.5 1053.1,322.5 1053.1,324.7 1064.0,324.7 1064.0,327.7 1074.9,327.7 1074.8,330.8 1085.8,330.8 1085.8,335.2 1096.7,335.2 1096.7,336.4 1107.6,336.4 1107.6,336.4 1118.5,336.4 1118.5,336.4 1129.4,336.4 1129.3,336.4 1140.2,336.4 1140.2,336.4 1151.2,336.4 1151.2,343.6 1162.1,343.6 1162.1,358.6 1173.0,358.6 1173.0,371.4 1183.9,371.4 1183.9,382.9 1194.8,382.9 1194.8,392.1 1205.7,392.1 1205.7,392.1 1216.6,392.1 1216.0,410.0 150.0,410.0" fill="#c8c9d0"/>
</g>
<polyline points="486.2,30.0 486.2,71.2 497.1,71.2 497.2,105.5 508.1,105.5 508.1,123.8 519.0,123.8 519.0,135.0 529.9,135.0 529.9,145.0 540.8,145.0 540.8,153.8 551.6,153.8 551.7,160.8 562.6,160.8 562.5,166.2 573.4,166.2 573.5,170.0 584.4,170.0 584.4,172.5 595.2,172.5 595.2,174.6 606.1,174.6 606.2,175.8 617.1,175.8 617.0,177.1 627.9,177.1 628.0,178.3 638.9,178.3 638.9,179.6 649.8,179.6 649.8,180.8 660.6,180.8 660.7,182.4 671.6,182.4 671.6,184.4 682.5,184.4 682.5,186.4 693.4,186.4 693.4,188.4 704.2,188.4 704.2,190.3 715.1,190.3 715.1,192.3 726.0,192.3 726.1,194.2 737.0,194.2 737.0,196.2 747.9,196.2 747.9,198.1 758.8,198.1 758.8,200.1 769.6,200.1 769.6,202.1 780.5,202.1 780.6,204.0 791.5,204.0 791.5,206.0 802.4,206.0 802.4,207.4 813.2,207.4 813.2,208.7 824.1,208.7 824.1,209.9 835.0,209.9 835.1,211.2 846.0,211.2 846.0,212.4 856.9,212.4 856.9,213.7 867.8,213.7 867.8,214.9 878.6,214.9 878.6,216.3 889.5,216.3 889.6,217.8 900.5,217.8 900.5,219.3 911.4,219.3 911.4,220.9 922.2,220.9 922.2,222.4 933.1,222.4 933.1,223.9 944.0,223.9 944.1,225.4 955.0,225.4 955.0,227.7 965.9,227.7 965.9,230.6 976.8,230.6 976.8,233.5 987.6,233.5 987.6,236.4 998.5,236.4 998.6,239.3 1009.5,239.3 1009.5,242.5 1020.4,242.5 1020.4,245.6 1031.2,245.6 1031.2,248.7 1042.2,248.7 1042.2,251.9 1053.1,251.9 1053.1,255.0 1064.0,255.0 1064.0,258.6 1074.9,258.6 1074.8,263.0 1085.8,263.0 1085.8,268.3 1096.7,268.3 1096.7,273.6 1107.6,273.6 1107.6,280.7 1118.5,280.7 1118.5,288.6 1129.4,288.6 1129.3,297.1 1140.2,297.1 1140.2,307.9 1151.2,307.9 1151.2,319.2 1162.1,319.2 1162.1,330.6 1173.0,330.6 1173.0,343.3 1183.9,343.3 1183.9,355.4 1194.8,355.4 1194.8,367.0 1205.7,367.0 1205.7,378.8 1216.6,378.8" fill="none" stroke="#1c1c1c" stroke-width="1.5" stroke-linejoin="miter"/>
</g>
<clipPath id="c1"><polygon points="160.0,485.5 1211.2,488.5 1210.7,853.8 159.5,849.5"/></clipPath>
<g clip-path="url(#c1)"><g filter="url(#soft)">
<rect x="150" y="480" width="1070" height="380" fill="#4641a3"/>
<polygon points="160.0,486.0 164.0,492.0 168.0,497.8 169.0,499.2 170.0,500.7 172.0,503.5 176.0,509.2 180.0,515.8 184.0,523.5 188.0,531.2 192.0,539.2 196.0,547.6 200.0,556.0 204.0,559.2 208.0,562.4 212.0,565.6 216.0,568.2 220.0,569.0 224.0,569.7 228.0,570.5 232.0,571.3 236.0,572.0 240.0,572.8 244.0,573.1 248.0,573.2 252.0,573.3 256.0,573.4 260.0,573.6 264.0,573.7 268.0,573.8 272.0,573.9 276.0,574.0 280.0,573.9 284.0,573.7 288.0,573.6 292.0,573.5 296.0,573.4 300.0,573.3 304.0,573.2 308.0,573.1 312.0,572.8 316.0,572.3 320.0,571.9 324.0,571.4 328.0,571.0 332.0,570.6 336.0,570.1 340.0,567.7 344.0,564.6 348.0,561.5 352.0,559.9 356.0,559.6 360.0,559.4 364.0,559.1 368.0,559.9 372.0,561.8 376.0,563.7 380.0,565.6 384.0,567.5 388.0,569.4 392.0,571.2 396.0,573.1 400.0,575.0 404.0,578.3 408.0,581.7 412.0,585.2 416.0,588.9 420.0,592.5 424.0,595.8 428.0,599.2 432.0,602.5 436.0,605.9 440.0,609.3 444.0,610.7 448.0,612.0 452.0,613.3 456.0,614.4 460.0,615.5 464.0,616.5 468.0,617.4 472.0,618.4 476.0,619.5 480.0,620.6 484.0,621.7 488.0,622.7 492.0,623.8 496.0,624.8 500.0,626.2 504.0,627.5 508.0,628.9 512.0,630.0 516.0,631.2 520.0,632.4 524.0,633.6 528.0,634.8 532.0,635.8 536.0,636.7 540.0,637.6 544.0,638.5 548.0,639.4 552.0,640.1 556.0,640.7 560.0,641.3 564.0,641.7 568.0,642.1 572.0,642.5 576.0,642.9 580.0,643.4 584.0,643.8 588.0,644.3 592.0,644.7 596.0,645.1 600.0,645.4 604.0,645.7 608.0,645.9 612.0,646.2 616.0,646.5 620.0,646.8 624.0,647.1 628.0,647.4 632.0,647.7 636.0,648.0 640.0,648.2 644.0,648.5 648.0,648.8 652.0,649.1 656.0,649.3 660.0,649.5 664.0,649.7 668.0,649.8 672.0,650.0 676.0,650.1 680.0,650.3 684.0,650.6 688.0,651.0 692.0,651.3 696.0,651.6 700.0,652.0 704.0,652.3 708.0,652.7 712.0,653.0 716.0,653.4 720.0,653.8 724.0,654.0 728.0,654.3 732.0,654.5 736.0,654.8 740.0,655.0 744.0,655.3 748.0,655.5 752.0,655.8 756.0,656.1 760.0,656.4 764.0,656.7 768.0,657.0 772.0,657.4 776.0,657.7 780.0,658.0 784.0,658.2 788.0,658.4 792.0,658.6 796.0,658.9 800.0,659.2 804.0,659.6 808.0,659.9 812.0,660.3 816.0,660.6 820.0,660.9 824.0,661.3 828.0,661.6 832.0,661.9 836.0,662.1 840.0,662.3 844.0,662.5 848.0,662.8 852.0,663.0 856.0,663.3 860.0,663.5 864.0,663.8 868.0,664.2 872.0,664.6 876.0,665.0 880.0,665.4 884.0,665.8 888.0,666.2 892.0,666.6 896.0,666.9 900.0,667.3 904.0,667.7 908.0,668.1 912.0,668.7 916.0,669.1 920.0,669.6 924.0,670.1 928.0,670.6 932.0,671.1 936.0,671.6 940.0,672.1 944.0,672.7 948.0,673.3 952.0,673.7 956.0,674.0 960.0,674.2 964.0,674.5 968.0,674.7 972.0,675.0 976.0,675.4 980.0,675.8 984.0,676.2 988.0,676.4 992.0,676.5 996.0,676.6 1000.0,676.8 1004.0,676.9 1008.0,677.2 1012.0,677.6 1016.0,678.0 1020.0,678.3 1024.0,678.7 1028.0,679.1 1032.0,679.7 1036.0,680.2 1040.0,681.2 1044.0,682.3 1048.0,683.4 1052.0,684.5 1056.0,685.7 1060.0,686.9 1064.0,688.2 1068.0,689.6 1072.0,691.0 1076.0,692.7 1080.0,694.3 1084.0,696.0 1088.0,697.8 1092.0,699.9 1096.0,704.1 1100.0,708.5 1102.0,711.1 1104.0,713.4 1108.0,717.5 1112.0,721.6 1116.0,725.6 1120.0,729.7 1124.0,733.8 1128.0,737.9 1132.0,742.1 1136.0,746.2 1140.0,750.3 1144.0,754.4 1148.0,758.4 1152.0,762.2 1156.0,766.0 1160.0,769.8 1164.0,773.7 1168.0,777.4 1172.0,780.2 1176.0,783.1 1180.0,786.0 1184.0,786.3 1188.0,787.5 1192.0,791.7 1196.0,795.8 1200.0,800.0 1204.0,800.0 1208.0,800.0 1212.0,800.0 1216.0,860.0 150.0,860.0" fill="#4b49a8"/>
<polygon points="160.0,497.0 164.0,500.3 168.0,503.7 169.0,504.5 170.0,505.3 172.0,507.0 176.0,512.2 180.0,517.5 184.0,522.7 188.0,530.3 192.0,538.7 196.0,546.9 200.0,554.4 204.0,560.9 208.0,564.4 212.0,567.9 216.0,570.7 220.0,571.4 224.0,572.1 228.0,572.8 232.0,573.4 236.0,574.1 240.0,574.8 244.0,575.1 248.0,575.2 252.0,575.3 256.0,575.4 260.0,575.6 264.0,575.7 268.0,575.8 272.0,575.9 276.0,576.0 280.0,575.9 284.0,575.7 288.0,575.6 292.0,575.5 296.0,575.4 300.0,575.3 304.0,575.2 308.0,575.1 312.0,574.8 316.0,574.4 320.0,574.1 324.0,573.7 328.0,573.3 332.0,573.0 336.0,572.6 340.0,570.5 344.0,567.9 348.0,565.3 352.0,563.9 356.0,563.6 360.0,563.4 364.0,563.1 368.0,564.1 372.0,566.4 376.0,568.6 380.0,570.8 384.0,573.1 388.0,575.3 392.0,577.5 396.0,579.8 400.0,582.0 404.0,584.7 408.0,587.5 412.0,590.4 416.0,593.5 420.0,596.5 424.0,599.2 428.0,602.0 432.0,604.7 436.0,607.5 440.0,610.3 444.0,611.7 448.0,613.0 452.0,614.3 456.0,615.4 460.0,616.5 464.0,617.5 468.0,618.4 472.0,619.4 476.0,620.5 480.0,621.6 484.0,622.7 488.0,623.7 492.0,624.8 496.0,625.8 500.0,627.2 504.0,628.5 508.0,629.9 512.0,631.0 516.0,632.2 520.0,633.4 524.0,634.6 528.0,635.8 532.0,636.8 536.0,637.7 540.0,638.6 544.0,639.5 548.0,640.4 552.0,641.1 556.0,641.7 560.0,642.3 564.0,642.7 568.0,643.1 572.0,643.5 576.0,643.9 580.0,644.4 584.0,644.8 588.0,645.3 592.0,645.7 596.0,646.1 600.0,646.4 604.0,646.7 608.0,646.9 612.0,647.2 616.0,647.5 620.0,647.8 624.0,648.1 628.0,648.4 632.0,648.7 636.0,649.0 640.0,649.2 644.0,649.5 648.0,649.8 652.0,650.1 656.0,650.3 660.0,650.5 664.0,650.7 668.0,650.8 672.0,651.0 676.0,651.1 680.0,651.3 684.0,651.6 688.0,651.9 692.0,652.1 696.0,652.4 700.0,652.7 704.0,653.0 708.0,653.3 712.0,653.6 716.0,653.9 720.0,654.3 724.0,654.5 728.0,654.8 732.0,655.1 736.0,655.4 740.0,655.6 744.0,655.9 748.0,656.2 752.0,656.5 756.0,656.8 760.0,657.1 764.0,657.4 768.0,657.8 772.0,658.1 776.0,658.4 780.0,658.8 784.0,659.0 788.0,659.2 792.0,659.4 796.0,659.7 800.0,660.0 804.0,660.4 808.0,660.7 812.0,661.1 816.0,661.4 820.0,661.7 824.0,662.1 828.0,662.4 832.0,662.7 836.0,662.9 840.0,663.1 844.0,663.3 848.0,663.6 852.0,663.8 856.0,664.1 860.0,664.3 864.0,664.6 868.0,665.0 872.0,665.4 876.0,665.8 880.0,666.2 884.0,666.6 888.0,667.0 892.0,667.4 896.0,667.7 900.0,668.1 904.0,668.5 908.0,668.9 912.0,669.5 916.0,669.9 920.0,670.3 924.0,670.8 928.0,671.2 932.0,671.7 936.0,672.2 940.0,672.6 944.0,673.2 948.0,673.8 952.0,674.2 956.0,674.5 960.0,674.8 964.0,675.2 968.0,675.5 972.0,675.8 976.0,676.3 980.0,676.7 984.0,677.2 988.0,677.4 992.0,677.4 996.0,677.5 1000.0,677.6 1004.0,677.6 1008.0,677.9 1012.0,678.2 1016.0,678.5 1020.0,678.9 1024.0,679.2 1028.0,679.6 1032.0,680.1 1036.0,680.6 1040.0,681.5 1044.0,682.5 1048.0,683.6 1052.0,684.7 1056.0,685.7 1060.0,686.9 1064.0,688.2 1068.0,689.6 1072.0,691.0 1076.0,692.7 1080.0,694.3 1084.0,696.0 1088.0,697.8 1092.0,699.9 1096.0,704.1 1100.0,708.5 1102.0,711.1 1104.0,713.4 1108.0,717.5 1112.0,721.6 1116.0,725.6 1120.0,729.7 1124.0,733.8 1128.0,737.9 1132.0,742.1 1136.0,746.2 1140.0,750.3 1144.0,754.4 1148.0,758.4 1152.0,762.2 1156.0,766.0 1160.0,769.8 1164.0,773.7 1168.0,777.4 1172.0,780.2 1176.0,783.1 1180.0,786.0 1184.0,786.3 1188.0,787.5 1192.0,791.7 1196.0,795.8 1200.0,800.0 1204.0,800.0 1208.0,800.0 1212.0,800.0 1216.0,860.0 150.0,860.0" fill="#5357b0"/>
<polygon points="160.0,512.5 164.0,513.3 168.0,514.1 169.0,514.2 170.0,515.3 172.0,517.3 176.0,522.4 180.0,527.7 184.0,533.3 188.0,540.1 192.0,546.9 196.0,553.4 200.0,559.7 204.0,564.1 208.0,567.1 212.0,570.0 216.0,572.4 220.0,572.9 224.0,573.4 228.0,573.9 232.0,574.4 236.0,575.0 240.0,575.5 244.0,575.8 248.0,576.0 252.0,576.2 256.0,576.2 260.0,576.3 264.0,576.3 268.0,576.4 272.0,576.5 276.0,576.5 280.0,576.4 284.0,576.4 288.0,576.3 292.0,576.3 296.0,576.2 300.0,576.1 304.0,576.1 308.0,576.0 312.0,575.9 316.0,575.7 320.0,575.5 324.0,575.4 328.0,575.2 332.0,575.1 336.0,574.9 340.0,574.0 344.0,572.7 348.0,571.4 352.0,570.8 356.0,570.7 360.0,570.6 364.0,570.5 368.0,571.4 372.0,573.1 376.0,574.9 380.0,576.7 384.0,578.4 388.0,580.2 392.0,582.0 396.0,583.7 400.0,585.5 404.0,587.9 408.0,590.4 412.0,593.0 416.0,595.8 420.0,598.5 424.0,600.9 428.0,603.4 432.0,605.8 436.0,608.3 440.0,610.8 444.0,612.2 448.0,613.6 452.0,615.0 456.0,616.2 460.0,617.3 464.0,618.4 468.0,619.3 472.0,620.4 476.0,621.5 480.0,622.6 484.0,623.7 488.0,624.7 492.0,625.8 496.0,626.8 500.0,628.2 504.0,629.5 508.0,630.9 512.0,632.0 516.0,633.2 520.0,634.4 524.0,635.6 528.0,636.8 532.0,637.8 536.0,638.7 540.0,639.6 544.0,640.5 548.0,641.4 552.0,642.1 556.0,642.7 560.0,643.3 564.0,643.7 568.0,644.1 572.0,644.5 576.0,644.9 580.0,645.4 584.0,645.8 588.0,646.3 592.0,646.7 596.0,647.1 600.0,647.4 604.0,647.7 608.0,647.9 612.0,648.2 616.0,648.5 620.0,648.8 624.0,649.1 628.0,649.4 632.0,649.7 636.0,649.9 640.0,650.2 644.0,650.5 648.0,650.7 652.0,650.9 656.0,651.2 660.0,651.4 664.0,651.5 668.0,651.6 672.0,651.8 676.0,651.9 680.0,652.1 684.0,652.3 688.0,652.6 692.0,652.9 696.0,653.2 700.0,653.5 704.0,653.8 708.0,654.1 712.0,654.4 716.0,654.7 720.0,655.0 724.0,655.3 728.0,655.6 732.0,655.8 736.0,656.1 740.0,656.4 744.0,656.7 748.0,656.9 752.0,657.2 756.0,657.5 760.0,657.8 764.0,658.2 768.0,658.5 772.0,658.9 776.0,659.2 780.0,659.5 784.0,659.7 788.0,659.9 792.0,660.2 796.0,660.5 800.0,660.9 804.0,661.2 808.0,661.6 812.0,661.9 816.0,662.3 820.0,662.6 824.0,662.9 828.0,663.2 832.0,663.5 836.0,663.8 840.0,664.0 844.0,664.2 848.0,664.4 852.0,664.7 856.0,664.9 860.0,665.2 864.0,665.5 868.0,665.9 872.0,666.3 876.0,666.7 880.0,667.1 884.0,667.5 888.0,667.9 892.0,668.2 896.0,668.6 900.0,669.0 904.0,669.4 908.0,669.8 912.0,670.3 916.0,670.7 920.0,671.2 924.0,671.6 928.0,672.1 932.0,672.5 936.0,673.0 940.0,673.4 944.0,674.0 948.0,674.5 952.0,675.0 956.0,675.3 960.0,675.7 964.0,676.0 968.0,676.4 972.0,676.7 976.0,677.2 980.0,677.7 984.0,678.2 988.0,678.4 992.0,678.6 996.0,678.7 1000.0,678.9 1004.0,679.0 1008.0,679.4 1012.0,679.8 1016.0,680.2 1020.0,680.6 1024.0,680.9 1028.0,681.4 1032.0,682.0 1036.0,682.6 1040.0,683.6 1044.0,684.7 1048.0,685.8 1052.0,687.0 1056.0,688.1 1060.0,689.4 1064.0,690.5 1068.0,691.5 1072.0,692.8 1076.0,694.1 1080.0,695.5 1084.0,697.0 1088.0,698.5 1092.0,700.4 1096.0,704.3 1100.0,708.5 1102.0,711.1 1104.0,713.4 1108.0,717.5 1112.0,721.6 1116.0,725.6 1120.0,729.7 1124.0,733.8 1128.0,737.9 1132.0,742.1 1136.0,746.2 1140.0,750.3 1144.0,754.4 1148.0,758.4 1152.0,762.2 1156.0,766.0 1160.0,769.8 1164.0,773.7 1168.0,777.4 1172.0,780.2 1176.0,783.1 1180.0,786.0 1184.0,786.3 1188.0,787.5 1192.0,791.7 1196.0,795.8 1200.0,800.0 1204.0,800.0 1208.0,800.0 1212.0,800.0 1216.0,860.0 150.0,860.0" fill="#6070c2"/>
<polygon points="160.0,528.0 164.0,526.2 168.0,524.4 169.0,524.0 170.0,525.2 172.0,527.7 176.0,532.6 180.0,538.0 184.0,544.0 188.0,550.0 192.0,555.0 196.0,560.0 200.0,565.0 204.0,567.4 208.0,569.8 212.0,572.2 216.0,574.1 220.0,574.4 224.0,574.8 228.0,575.1 232.0,575.5 236.0,575.8 240.0,576.1 244.0,576.5 248.0,576.8 252.0,577.0 256.0,577.0 260.0,577.0 264.0,577.0 268.0,577.0 272.0,577.0 276.0,577.0 280.0,577.0 284.0,577.0 288.0,577.0 292.0,577.0 296.0,577.0 300.0,577.0 304.0,577.0 308.0,577.0 312.0,577.0 316.0,577.0 320.0,577.0 324.0,577.0 328.0,577.1 332.0,577.2 336.0,577.3 340.0,577.4 344.0,577.5 348.0,577.6 352.0,577.7 356.0,577.8 360.0,577.9 364.0,578.0 368.0,578.6 372.0,579.9 376.0,581.2 380.0,582.5 384.0,583.8 388.0,585.1 392.0,586.4 396.0,587.7 400.0,589.0 404.0,591.1 408.0,593.3 412.0,595.6 416.0,598.1 420.0,600.5 424.0,602.6 428.0,604.8 432.0,606.9 436.0,609.1 440.0,611.3 444.0,612.8 448.0,614.2 452.0,615.7 456.0,616.9 460.0,618.1 464.0,619.3 468.0,620.3 472.0,621.4 476.0,622.5 480.0,623.6 484.0,624.7 488.0,625.7 492.0,626.8 496.0,627.8 500.0,629.2 504.0,630.5 508.0,631.9 512.0,633.0 516.0,634.2 520.0,635.4 524.0,636.6 528.0,637.8 532.0,638.8 536.0,639.7 540.0,640.6 544.0,641.5 548.0,642.4 552.0,643.1 556.0,643.7 560.0,644.3 564.0,644.7 568.0,645.1 572.0,645.5 576.0,645.9 580.0,646.4 584.0,646.8 588.0,647.3 592.0,647.7 596.0,648.1 600.0,648.4 604.0,648.7 608.0,648.9 612.0,649.2 616.0,649.5 620.0,649.8 624.0,650.1 628.0,650.4 632.0,650.6 636.0,650.9 640.0,651.1 644.0,651.4 648.0,651.6 652.0,651.8 656.0,652.0 660.0,652.2 664.0,652.3 668.0,652.4 672.0,652.6 676.0,652.7 680.0,652.8 684.0,653.1 688.0,653.4 692.0,653.6 696.0,653.9 700.0,654.2 704.0,654.5 708.0,654.8 712.0,655.1 716.0,655.4 720.0,655.8 724.0,656.0 728.0,656.3 732.0,656.6 736.0,656.9 740.0,657.1 744.0,657.4 748.0,657.7 752.0,658.0 756.0,658.2 760.0,658.6 764.0,658.9 768.0,659.3 772.0,659.6 776.0,659.9 780.0,660.3 784.0,660.5 788.0,660.7 792.0,661.0 796.0,661.3 800.0,661.7 804.0,662.0 808.0,662.4 812.0,662.8 816.0,663.1 820.0,663.5 824.0,663.8 828.0,664.1 832.0,664.4 836.0,664.6 840.0,664.9 844.0,665.1 848.0,665.3 852.0,665.5 856.0,665.8 860.0,666.1 864.0,666.4 868.0,666.8 872.0,667.2 876.0,667.6 880.0,668.0 884.0,668.4 888.0,668.7 892.0,669.1 896.0,669.5 900.0,669.9 904.0,670.3 908.0,670.7 912.0,671.2 916.0,671.6 920.0,672.0 924.0,672.5 928.0,672.9 932.0,673.3 936.0,673.8 940.0,674.2 944.0,674.8 948.0,675.3 952.0,675.8 956.0,676.1 960.0,676.5 964.0,676.9 968.0,677.2 972.0,677.6 976.0,678.1 980.0,678.6 984.0,679.2 988.0,679.5 992.0,679.7 996.0,679.9 1000.0,680.2 1004.0,680.4 1008.0,680.8 1012.0,681.3 1016.0,681.8 1020.0,682.3 1024.0,682.7 1028.0,683.3 1032.0,683.9 1036.0,684.6 1040.0,685.7 1044.0,686.9 1048.0,688.1 1052.0,689.3 1056.0,690.6 1060.0,691.9 1064.0,692.7 1068.0,693.5 1072.0,694.5 1076.0,695.6 1080.0,696.7 1084.0,698.0 1088.0,699.2 1092.0,700.8 1096.0,704.5 1100.0,708.5 1102.0,711.1 1104.0,713.4 1108.0,717.5 1112.0,721.6 1116.0,725.6 1120.0,729.7 1124.0,733.8 1128.0,737.9 1132.0,742.1 1136.0,746.2 1140.0,750.3 1144.0,754.4 1148.0,758.4 1152.0,762.2 1156.0,766.0 1160.0,769.8 1164.0,773.7 1168.0,777.4 1172.0,780.2 1176.0,783.1 1180.0,786.0 1184.0,786.3 1188.0,787.5 1192.0,791.7 1196.0,795.8 1200.0,800.0 1204.0,800.0 1208.0,800.0 1212.0,800.0 1216.0,860.0 150.0,860.0" fill="#6f95dc"/>
<polygon points="160.0,549.0 164.0,547.8 168.0,546.6 169.0,546.3 170.0,546.0 172.0,548.0 176.0,552.0 180.0,556.0 184.0,559.6 188.0,563.2 192.0,566.6 196.0,569.8 200.0,573.0 204.0,574.2 208.0,575.4 212.0,576.6 216.0,577.6 220.0,577.8 224.0,578.0 228.0,578.2 232.0,578.5 236.0,578.7 240.0,578.9 244.0,579.2 248.0,579.4 252.0,579.5 256.0,579.5 260.0,579.5 264.0,579.5 268.0,579.5 272.0,579.5 276.0,579.5 280.0,579.5 284.0,579.5 288.0,579.5 292.0,579.5 296.0,579.5 300.0,579.5 304.0,579.5 308.0,579.5 312.0,579.5 316.0,579.5 320.0,579.5 324.0,579.5 328.0,579.6 332.0,579.8 336.0,579.9 340.0,580.0 344.0,580.2 348.0,580.3 352.0,580.5 356.0,580.6 360.0,580.8 364.0,580.9 368.0,581.5 372.0,582.4 376.0,583.3 380.0,584.5 384.0,585.9 388.0,587.3 392.0,588.7 396.0,590.1 400.0,591.5 404.0,593.4 408.0,595.4 412.0,597.5 416.0,599.8 420.0,602.0 424.0,603.9 428.0,605.9 432.0,607.8 436.0,609.8 440.0,611.8 444.0,613.4 448.0,615.0 452.0,616.6 456.0,618.0 460.0,619.3 464.0,620.6 468.0,621.7 472.0,622.9 476.0,624.0 480.0,625.1 484.0,626.2 488.0,627.2 492.0,628.3 496.0,629.3 500.0,630.7 504.0,632.0 508.0,633.4 512.0,634.5 516.0,635.7 520.0,636.9 524.0,638.1 528.0,639.3 532.0,640.3 536.0,641.2 540.0,642.1 544.0,643.0 548.0,643.9 552.0,644.6 556.0,645.2 560.0,645.8 564.0,646.2 568.0,646.6 572.0,647.0 576.0,647.4 580.0,647.9 584.0,648.3 588.0,648.7 592.0,649.1 596.0,649.4 600.0,649.7 604.0,649.9 608.0,650.2 612.0,650.4 616.0,650.7 620.0,650.9 624.0,651.2 628.0,651.4 632.0,651.6 636.0,651.9 640.0,652.1 644.0,652.3 648.0,652.6 652.0,652.8 656.0,652.9 660.0,653.1 664.0,653.2 668.0,653.3 672.0,653.4 676.0,653.5 680.0,653.6 684.0,653.9 688.0,654.2 692.0,654.5 696.0,654.8 700.0,655.1 704.0,655.4 708.0,655.8 712.0,656.1 716.0,656.4 720.0,656.8 724.0,657.0 728.0,657.3 732.0,657.6 736.0,657.9 740.0,658.1 744.0,658.4 748.0,658.7 752.0,659.0 756.0,659.2 760.0,659.6 764.0,659.9 768.0,660.3 772.0,660.6 776.0,660.9 780.0,661.3 784.0,661.5 788.0,661.7 792.0,662.0 796.0,662.3 800.0,662.7 804.0,663.0 808.0,663.4 812.0,663.8 816.0,664.1 820.0,664.5 824.0,664.8 828.0,665.1 832.0,665.4 836.0,665.7 840.0,665.9 844.0,666.1 848.0,666.4 852.0,666.6 856.0,666.9 860.0,667.2 864.0,667.5 868.0,667.9 872.0,668.3 876.0,668.7 880.0,669.1 884.0,669.5 888.0,669.9 892.0,670.3 896.0,670.7 900.0,671.1 904.0,671.5 908.0,671.9 912.0,672.4 916.0,672.8 920.0,673.2 924.0,673.6 928.0,674.0 932.0,674.4 936.0,674.8 940.0,675.3 944.0,675.8 948.0,676.3 952.0,676.6 956.0,676.8 960.0,676.9 964.0,677.1 968.0,677.2 972.0,677.4 976.0,677.6 980.0,677.9 984.0,678.2 988.0,678.7 992.0,679.3 996.0,679.8 1000.0,680.4 1004.0,680.9 1008.0,681.7 1012.0,682.5 1016.0,683.3 1020.0,684.1 1024.0,684.8 1028.0,685.7 1032.0,686.7 1036.0,687.7 1040.0,689.1 1044.0,690.6 1048.0,692.1 1052.0,693.7 1056.0,695.2 1060.0,696.9 1064.0,697.2 1068.0,697.5 1072.0,698.0 1076.0,698.6 1080.0,699.1 1084.0,699.9 1088.0,700.6 1092.0,701.7 1096.0,704.9 1100.0,708.5 1102.0,711.1 1104.0,713.4 1108.0,717.5 1112.0,721.6 1116.0,725.6 1120.0,729.7 1124.0,733.8 1128.0,737.9 1132.0,742.1 1136.0,746.2 1140.0,750.3 1144.0,754.4 1148.0,758.4 1152.0,762.2 1156.0,766.0 1160.0,769.8 1164.0,773.7 1168.0,777.4 1172.0,780.2 1176.0,783.1 1180.0,786.0 1184.0,786.3 1188.0,787.5 1192.0,791.7 1196.0,795.8 1200.0,800.0 1204.0,800.0 1208.0,800.0 1212.0,800.0 1216.0,860.0 150.0,860.0" fill="#76bdee"/>
<polygon points="160.0,567.5 164.0,566.8 168.0,566.2 169.0,566.0 170.0,565.8 172.0,566.8 176.0,568.7 180.0,570.7 184.0,572.5 188.0,574.2 192.0,575.9 196.0,577.4 200.0,579.0 204.0,579.6 208.0,580.3 212.0,580.9 216.0,581.4 220.0,581.6 224.0,581.7 228.0,581.9 232.0,582.1 236.0,582.2 240.0,582.4 244.0,582.5 248.0,582.7 252.0,582.8 256.0,582.8 260.0,582.9 264.0,582.9 268.0,582.9 272.0,583.0 276.0,583.0 280.0,583.0 284.0,583.1 288.0,583.1 292.0,583.2 296.0,583.2 300.0,583.2 304.0,583.3 308.0,583.3 312.0,583.4 316.0,583.4 320.0,583.5 324.0,583.5 328.0,583.7 332.0,584.0 336.0,584.3 340.0,584.6 344.0,584.9 348.0,585.2 352.0,585.5 356.0,585.8 360.0,586.1 364.0,586.4 368.0,587.0 372.0,588.1 376.0,589.2 380.0,590.4 384.0,591.7 388.0,593.1 392.0,594.4 396.0,595.7 400.0,597.0 404.0,598.6 408.0,600.1 412.0,601.9 416.0,603.8 420.0,605.6 424.0,607.2 428.0,608.8 432.0,610.3 436.0,611.9 440.0,613.5 444.0,615.1 448.0,616.6 452.0,618.1 456.0,619.4 460.0,620.7 464.0,622.0 468.0,623.0 472.0,624.1 476.0,625.1 480.0,626.2 484.0,627.2 488.0,628.2 492.0,629.2 496.0,630.2 500.0,631.5 504.0,632.9 508.0,634.1 512.0,635.3 516.0,636.5 520.0,637.7 524.0,638.8 528.0,640.0 532.0,640.9 536.0,641.8 540.0,642.7 544.0,643.6 548.0,644.5 552.0,645.2 556.0,645.8 560.0,646.4 564.0,646.9 568.0,647.3 572.0,647.7 576.0,648.1 580.0,648.5 584.0,648.9 588.0,649.4 592.0,649.8 596.0,650.1 600.0,650.4 604.0,650.6 608.0,650.9 612.0,651.2 616.0,651.4 620.0,651.7 624.0,651.9 628.0,652.2 632.0,652.5 636.0,652.7 640.0,653.0 644.0,653.2 648.0,653.5 652.0,653.7 656.0,653.9 660.0,654.1 664.0,654.2 668.0,654.4 672.0,654.5 676.0,654.6 680.0,654.8 684.0,655.0 688.0,655.3 692.0,655.5 696.0,655.8 700.0,656.1 704.0,656.3 708.0,656.6 712.0,656.9 716.0,657.2 720.0,657.5 724.0,657.8 728.0,658.1 732.0,658.5 736.0,658.8 740.0,659.1 744.0,659.4 748.0,659.7 752.0,660.0 756.0,660.4 760.0,660.7 764.0,661.1 768.0,661.5 772.0,661.9 776.0,662.3 780.0,662.6 784.0,662.9 788.0,663.1 792.0,663.4 796.0,663.8 800.0,664.1 804.0,664.5 808.0,664.9 812.0,665.3 816.0,665.6 820.0,665.9 824.0,666.2 828.0,666.5 832.0,666.8 836.0,667.0 840.0,667.3 844.0,667.5 848.0,667.7 852.0,667.9 856.0,668.2 860.0,668.4 864.0,668.7 868.0,669.1 872.0,669.5 876.0,669.9 880.0,670.2 884.0,670.6 888.0,671.0 892.0,671.4 896.0,671.8 900.0,672.1 904.0,672.5 908.0,672.9 912.0,673.4 916.0,673.8 920.0,674.2 924.0,674.7 928.0,675.1 932.0,675.6 936.0,676.0 940.0,676.5 944.0,677.0 948.0,677.5 952.0,677.9 956.0,678.1 960.0,678.3 964.0,678.5 968.0,678.7 972.0,678.9 976.0,679.2 980.0,679.5 984.0,679.9 988.0,680.5 992.0,681.1 996.0,681.8 1000.0,682.5 1004.0,683.2 1008.0,684.0 1012.0,685.0 1016.0,685.9 1020.0,686.8 1024.0,687.7 1028.0,688.7 1032.0,689.8 1036.0,690.9 1040.0,692.4 1044.0,694.1 1048.0,695.8 1052.0,697.4 1056.0,699.1 1060.0,700.9 1064.0,702.2 1068.0,703.4 1072.0,704.9 1076.0,706.5 1080.0,708.0 1084.0,709.7 1088.0,711.4 1092.0,713.5 1096.0,717.6 1100.0,719.3 1102.0,716.5 1104.0,713.4 1108.0,717.5 1112.0,721.6 1116.0,725.6 1120.0,729.7 1124.0,733.8 1128.0,737.9 1132.0,742.1 1136.0,746.2 1140.0,750.3 1144.0,754.4 1148.0,758.4 1152.0,762.2 1156.0,766.0 1160.0,769.8 1164.0,773.7 1168.0,777.4 1172.0,780.2 1176.0,783.1 1180.0,786.0 1184.0,786.3 1188.0,787.5 1192.0,791.7 1196.0,795.8 1200.0,800.0 1204.0,800.0 1208.0,800.0 1212.0,800.0 1216.0,860.0 150.0,860.0" fill="#80cae6"/>
<polygon points="160.0,586.0 164.0,585.9 168.0,585.7 169.0,585.7 170.0,585.7 172.0,585.6 176.0,585.5 180.0,585.4 184.0,585.3 188.0,585.2 192.0,585.2 196.0,585.1 200.0,585.0 204.0,585.1 208.0,585.2 212.0,585.2 216.0,585.3 220.0,585.4 224.0,585.5 228.0,585.6 232.0,585.6 236.0,585.7 240.0,585.8 244.0,585.9 248.0,586.0 252.0,586.0 256.0,586.1 260.0,586.2 264.0,586.3 268.0,586.4 272.0,586.4 276.0,586.5 280.0,586.6 284.0,586.7 288.0,586.8 292.0,586.8 296.0,586.9 300.0,587.0 304.0,587.1 308.0,587.2 312.0,587.2 316.0,587.3 320.0,587.4 324.0,587.5 328.0,587.8 332.0,588.3 336.0,588.7 340.0,589.1 344.0,589.6 348.0,590.0 352.0,590.5 356.0,590.9 360.0,591.3 364.0,591.8 368.0,592.6 372.0,593.9 376.0,595.1 380.0,596.3 384.0,597.6 388.0,598.8 392.0,600.0 396.0,601.3 400.0,602.5 404.0,603.7 408.0,604.9 412.0,606.3 416.0,607.8 420.0,609.2 424.0,610.4 428.0,611.6 432.0,612.8 436.0,614.1 440.0,615.3 444.0,616.8 448.0,618.2 452.0,619.7 456.0,620.9 460.0,622.1 464.0,623.3 468.0,624.3 472.0,625.3 476.0,626.3 480.0,627.3 484.0,628.3 488.0,629.3 492.0,630.2 496.0,631.1 500.0,632.4 504.0,633.7 508.0,634.9 512.0,636.1 516.0,637.2 520.0,638.4 524.0,639.5 528.0,640.7 532.0,641.6 536.0,642.5 540.0,643.4 544.0,644.2 548.0,645.1 552.0,645.8 556.0,646.4 560.0,647.0 564.0,647.5 568.0,647.9 572.0,648.3 576.0,648.7 580.0,649.1 584.0,649.6 588.0,650.0 592.0,650.5 596.0,650.8 600.0,651.1 604.0,651.4 608.0,651.6 612.0,651.9 616.0,652.2 620.0,652.4 624.0,652.7 628.0,653.0 632.0,653.3 636.0,653.6 640.0,653.8 644.0,654.1 648.0,654.4 652.0,654.7 656.0,654.9 660.0,655.1 664.0,655.3 668.0,655.4 672.0,655.6 676.0,655.8 680.0,655.9 684.0,656.1 688.0,656.3 692.0,656.6 696.0,656.8 700.0,657.0 704.0,657.2 708.0,657.5 712.0,657.7 716.0,658.0 720.0,658.3 724.0,658.6 728.0,659.0 732.0,659.3 736.0,659.7 740.0,660.0 744.0,660.4 748.0,660.7 752.0,661.1 756.0,661.5 760.0,661.9 764.0,662.3 768.0,662.7 772.0,663.1 776.0,663.6 780.0,664.0 784.0,664.2 788.0,664.5 792.0,664.8 796.0,665.2 800.0,665.6 804.0,666.0 808.0,666.4 812.0,666.8 816.0,667.1 820.0,667.4 824.0,667.7 828.0,668.0 832.0,668.2 836.0,668.4 840.0,668.6 844.0,668.8 848.0,669.0 852.0,669.2 856.0,669.4 860.0,669.7 864.0,670.0 868.0,670.3 872.0,670.7 876.0,671.0 880.0,671.4 884.0,671.8 888.0,672.1 892.0,672.5 896.0,672.8 900.0,673.2 904.0,673.6 908.0,674.0 912.0,674.5 916.0,674.9 920.0,675.3 924.0,675.8 928.0,676.2 932.0,676.7 936.0,677.2 940.0,677.6 944.0,678.2 948.0,678.8 952.0,679.2 956.0,679.4 960.0,679.6 964.0,679.9 968.0,680.1 972.0,680.4 976.0,680.7 980.0,681.1 984.0,681.5 988.0,682.2 992.0,683.0 996.0,683.8 1000.0,684.6 1004.0,685.4 1008.0,686.4 1012.0,687.5 1016.0,688.5 1020.0,689.5 1024.0,690.6 1028.0,691.7 1032.0,692.9 1036.0,694.2 1040.0,695.8 1044.0,697.6 1048.0,699.4 1052.0,701.2 1056.0,703.0 1060.0,704.9 1064.0,707.2 1068.0,709.4 1072.0,711.8 1076.0,714.4 1080.0,716.9 1084.0,719.6 1088.0,722.3 1092.0,725.3 1096.0,730.4 1100.0,730.1 1102.0,721.9 1104.0,713.4 1108.0,717.5 1112.0,721.6 1116.0,725.6 1120.0,729.7 1124.0,733.8 1128.0,737.9 1132.0,742.1 1136.0,746.2 1140.0,750.3 1144.0,754.4 1148.0,758.4 1152.0,762.2 1156.0,766.0 1160.0,769.8 1164.0,773.7 1168.0,777.4 1172.0,780.2 1176.0,783.1 1180.0,786.0 1184.0,786.3 1188.0,787.5 1192.0,791.7 1196.0,795.8 1200.0,800.0 1204.0,800.0 1208.0,800.0 1212.0,800.0 1216.0,860.0 150.0,860.0" fill="#88c9c0"/>
<polygon points="160.0,590.2 164.0,589.9 168.0,589.7 169.0,589.6 170.0,589.5 172.0,589.4 176.0,589.1 180.0,588.9 184.0,588.5 188.0,588.2 192.0,587.9 196.0,587.6 200.0,587.2 204.0,587.3 208.0,587.3 212.0,587.3 216.0,587.4 220.0,587.4 224.0,587.4 228.0,587.5 232.0,587.5 236.0,587.5 240.0,587.6 244.0,587.6 248.0,587.6 252.0,587.7 256.0,587.8 260.0,587.9 264.0,588.0 268.0,588.1 272.0,588.2 276.0,588.3 280.0,588.4 284.0,588.5 288.0,588.7 292.0,588.8 296.0,588.9 300.0,589.0 304.0,589.1 308.0,589.2 312.0,589.3 316.0,589.4 320.0,589.5 324.0,589.6 328.0,590.0 332.0,590.5 336.0,591.0 340.0,591.5 344.0,592.0 348.0,592.4 352.0,592.9 356.0,593.4 360.0,593.9 364.0,594.4 368.0,595.3 372.0,596.5 376.0,597.7 380.0,598.9 384.0,600.0 388.0,601.2 392.0,602.4 396.0,603.6 400.0,604.8 404.0,606.0 408.0,607.1 412.0,608.5 416.0,610.0 420.0,611.4 424.0,612.6 428.0,613.7 432.0,614.9 436.0,616.1 440.0,617.3 444.0,618.8 448.0,620.2 452.0,621.6 456.0,622.8 460.0,624.0 464.0,625.2 468.0,626.1 472.0,627.0 476.0,628.0 480.0,628.9 484.0,629.8 488.0,630.7 492.0,631.5 496.0,632.4 500.0,633.6 504.0,634.8 508.0,636.1 512.0,637.2 516.0,638.3 520.0,639.4 524.0,640.5 528.0,641.6 532.0,642.5 536.0,643.4 540.0,644.3 544.0,645.1 548.0,646.0 552.0,646.7 556.0,647.3 560.0,648.0 564.0,648.5 568.0,648.9 572.0,649.3 576.0,649.8 580.0,650.2 584.0,650.7 588.0,651.2 592.0,651.6 596.0,652.0 600.0,652.3 604.0,652.5 608.0,652.8 612.0,653.1 616.0,653.4 620.0,653.7 624.0,654.0 628.0,654.3 632.0,654.6 636.0,654.9 640.0,655.2 644.0,655.5 648.0,655.8 652.0,656.1 656.0,656.3 660.0,656.6 664.0,656.7 668.0,656.9 672.0,657.1 676.0,657.3 680.0,657.4 684.0,657.7 688.0,657.9 692.0,658.1 696.0,658.3 700.0,658.6 704.0,658.8 708.0,659.0 712.0,659.3 716.0,659.6 720.0,659.8 724.0,660.2 728.0,660.5 732.0,660.8 736.0,661.1 740.0,661.5 744.0,661.8 748.0,662.1 752.0,662.5 756.0,662.8 760.0,663.2 764.0,663.6 768.0,664.0 772.0,664.4 776.0,664.8 780.0,665.2 784.0,665.5 788.0,665.7 792.0,666.0 796.0,666.4 800.0,666.7 804.0,667.1 808.0,667.5 812.0,667.9 816.0,668.2 820.0,668.5 824.0,668.8 828.0,669.1 832.0,669.3 836.0,669.5 840.0,669.7 844.0,669.9 848.0,670.1 852.0,670.3 856.0,670.5 860.0,670.8 864.0,671.1 868.0,671.4 872.0,671.8 876.0,672.2 880.0,672.5 884.0,672.9 888.0,673.2 892.0,673.6 896.0,674.0 900.0,674.3 904.0,674.7 908.0,675.1 912.0,675.6 916.0,676.0 920.0,676.4 924.0,676.9 928.0,677.3 932.0,677.8 936.0,678.3 940.0,678.8 944.0,679.3 948.0,679.9 952.0,680.3 956.0,680.6 960.0,680.8 964.0,681.1 968.0,681.3 972.0,681.6 976.0,682.0 980.0,682.4 984.0,682.8 988.0,683.5 992.0,684.3 996.0,685.0 1000.0,685.8 1004.0,686.6 1008.0,687.6 1012.0,688.7 1016.0,689.7 1020.0,690.7 1024.0,691.8 1028.0,692.9 1032.0,694.1 1036.0,695.3 1040.0,697.0 1044.0,698.7 1048.0,700.5 1052.0,702.3 1056.0,704.1 1060.0,706.0 1064.0,708.2 1068.0,710.4 1072.0,712.8 1076.0,715.3 1080.0,717.8 1084.0,720.4 1088.0,723.1 1092.0,726.1 1096.0,731.2 1100.0,730.7 1102.0,722.2 1104.0,713.4 1108.0,717.5 1112.0,721.6 1116.0,725.6 1120.0,729.7 1124.0,733.8 1128.0,737.9 1132.0,742.1 1136.0,746.2 1140.0,750.3 1144.0,754.4 1148.0,758.4 1152.0,762.2 1156.0,766.0 1160.0,769.8 1164.0,773.7 1168.0,777.4 1172.0,780.2 1176.0,783.1 1180.0,786.0 1184.0,786.3 1188.0,787.5 1192.0,791.7 1196.0,795.8 1200.0,800.0 1204.0,800.0 1208.0,800.0 1212.0,800.0 1216.0,860.0 150.0,860.0" fill="#98cd94"/>
<polygon points="160.0,594.4 164.0,594.0 168.0,593.6 169.0,593.5 170.0,593.4 172.0,593.2 176.0,592.7 180.0,592.3 184.0,591.8 188.0,591.2 192.0,590.6 196.0,590.0 200.0,589.4 204.0,589.4 208.0,589.4 212.0,589.4 216.0,589.4 220.0,589.4 224.0,589.4 228.0,589.4 232.0,589.4 236.0,589.4 240.0,589.4 244.0,589.3 248.0,589.3 252.0,589.4 256.0,589.5 260.0,589.7 264.0,589.8 268.0,589.9 272.0,590.0 276.0,590.2 280.0,590.3 284.0,590.4 288.0,590.5 292.0,590.7 296.0,590.8 300.0,590.9 304.0,591.1 308.0,591.2 312.0,591.3 316.0,591.4 320.0,591.6 324.0,591.7 328.0,592.1 332.0,592.7 336.0,593.2 340.0,593.8 344.0,594.3 348.0,594.9 352.0,595.4 356.0,596.0 360.0,596.5 364.0,597.1 368.0,597.9 372.0,599.1 376.0,600.2 380.0,601.4 384.0,602.5 388.0,603.7 392.0,604.9 396.0,606.0 400.0,607.2 404.0,608.3 408.0,609.4 412.0,610.7 416.0,612.2 420.0,613.6 424.0,614.7 428.0,615.8 432.0,617.0 436.0,618.1 440.0,619.3 444.0,620.7 448.0,622.1 452.0,623.5 456.0,624.7 460.0,625.9 464.0,627.0 468.0,627.9 472.0,628.8 476.0,629.6 480.0,630.5 484.0,631.3 488.0,632.1 492.0,632.9 496.0,633.6 500.0,634.7 504.0,636.0 508.0,637.2 512.0,638.2 516.0,639.3 520.0,640.4 524.0,641.5 528.0,642.6 532.0,643.4 536.0,644.3 540.0,645.2 544.0,646.0 548.0,646.8 552.0,647.6 556.0,648.2 560.0,648.9 564.0,649.4 568.0,649.9 572.0,650.4 576.0,650.8 580.0,651.3 584.0,651.8 588.0,652.3 592.0,652.7 596.0,653.1 600.0,653.4 604.0,653.7 608.0,654.0 612.0,654.3 616.0,654.7 620.0,655.0 624.0,655.3 628.0,655.6 632.0,655.9 636.0,656.2 640.0,656.6 644.0,656.9 648.0,657.2 652.0,657.5 656.0,657.8 660.0,658.0 664.0,658.2 668.0,658.4 672.0,658.6 676.0,658.8 680.0,659.0 684.0,659.2 688.0,659.4 692.0,659.7 696.0,659.9 700.0,660.1 704.0,660.3 708.0,660.6 712.0,660.8 716.0,661.1 720.0,661.4 724.0,661.7 728.0,662.0 732.0,662.3 736.0,662.6 740.0,662.9 744.0,663.2 748.0,663.5 752.0,663.9 756.0,664.2 760.0,664.6 764.0,664.9 768.0,665.3 772.0,665.7 776.0,666.1 780.0,666.4 784.0,666.7 788.0,666.9 792.0,667.2 796.0,667.5 800.0,667.9 804.0,668.3 808.0,668.6 812.0,669.0 816.0,669.3 820.0,669.6 824.0,669.9 828.0,670.2 832.0,670.4 836.0,670.6 840.0,670.8 844.0,671.0 848.0,671.2 852.0,671.4 856.0,671.7 860.0,671.9 864.0,672.2 868.0,672.5 872.0,672.9 876.0,673.3 880.0,673.6 884.0,674.0 888.0,674.3 892.0,674.7 896.0,675.1 900.0,675.4 904.0,675.8 908.0,676.2 912.0,676.7 916.0,677.1 920.0,677.5 924.0,678.0 928.0,678.5 932.0,678.9 936.0,679.4 940.0,679.9 944.0,680.4 948.0,681.0 952.0,681.4 956.0,681.7 960.0,682.0 964.0,682.2 968.0,682.5 972.0,682.8 976.0,683.2 980.0,683.6 984.0,684.0 988.0,684.7 992.0,685.5 996.0,686.3 1000.0,687.1 1004.0,687.9 1008.0,688.9 1012.0,689.9 1016.0,690.9 1020.0,691.9 1024.0,693.0 1028.0,694.1 1032.0,695.3 1036.0,696.5 1040.0,698.1 1044.0,699.9 1048.0,701.7 1052.0,703.4 1056.0,705.2 1060.0,707.1 1064.0,709.3 1068.0,711.5 1072.0,713.8 1076.0,716.3 1080.0,718.7 1084.0,721.3 1088.0,723.9 1092.0,726.9 1096.0,731.9 1100.0,731.3 1102.0,722.5 1104.0,713.4 1108.0,717.5 1112.0,721.6 1116.0,725.6 1120.0,729.7 1124.0,733.8 1128.0,737.9 1132.0,742.1 1136.0,746.2 1140.0,750.3 1144.0,754.4 1148.0,758.4 1152.0,762.2 1156.0,766.0 1160.0,769.8 1164.0,773.7 1168.0,777.4 1172.0,780.2 1176.0,783.1 1180.0,786.0 1184.0,786.3 1188.0,787.5 1192.0,791.7 1196.0,795.8 1200.0,800.0 1204.0,800.0 1208.0,800.0 1212.0,800.0 1216.0,860.0 150.0,860.0" fill="#a6d36c"/>
<polygon points="160.0,598.7 164.0,598.1 168.0,597.5 169.0,597.4 170.0,597.2 172.0,596.9 176.0,596.4 180.0,595.8 184.0,595.0 188.0,594.1 192.0,593.3 196.0,592.5 200.0,591.7 204.0,591.6 208.0,591.6 212.0,591.5 216.0,591.5 220.0,591.4 224.0,591.3 228.0,591.3 232.0,591.2 236.0,591.2 240.0,591.1 244.0,591.1 248.0,591.0 252.0,591.1 256.0,591.2 260.0,591.4 264.0,591.5 268.0,591.7 272.0,591.8 276.0,592.0 280.0,592.1 284.0,592.3 288.0,592.4 292.0,592.6 296.0,592.7 300.0,592.9 304.0,593.0 308.0,593.2 312.0,593.3 316.0,593.5 320.0,593.6 324.0,593.8 328.0,594.3 332.0,594.9 336.0,595.5 340.0,596.1 344.0,596.7 348.0,597.3 352.0,597.9 356.0,598.5 360.0,599.1 364.0,599.7 368.0,600.6 372.0,601.7 376.0,602.8 380.0,603.9 384.0,605.0 388.0,606.1 392.0,607.3 396.0,608.4 400.0,609.5 404.0,610.6 408.0,611.7 412.0,613.0 416.0,614.4 420.0,615.7 424.0,616.8 428.0,617.9 432.0,619.0 436.0,620.2 440.0,621.3 444.0,622.7 448.0,624.1 452.0,625.4 456.0,626.6 460.0,627.7 464.0,628.8 468.0,629.7 472.0,630.5 476.0,631.3 480.0,632.0 484.0,632.8 488.0,633.5 492.0,634.2 496.0,634.9 500.0,635.9 504.0,637.1 508.0,638.3 512.0,639.3 516.0,640.4 520.0,641.4 524.0,642.5 528.0,643.5 532.0,644.4 536.0,645.2 540.0,646.1 544.0,646.9 548.0,647.7 552.0,648.5 556.0,649.1 560.0,649.8 564.0,650.4 568.0,650.9 572.0,651.4 576.0,651.9 580.0,652.4 584.0,652.9 588.0,653.4 592.0,653.9 596.0,654.2 600.0,654.6 604.0,654.9 608.0,655.2 612.0,655.6 616.0,655.9 620.0,656.2 624.0,656.6 628.0,656.9 632.0,657.2 636.0,657.6 640.0,657.9 644.0,658.3 648.0,658.6 652.0,658.9 656.0,659.2 660.0,659.4 664.0,659.7 668.0,659.9 672.0,660.1 676.0,660.3 680.0,660.5 684.0,660.7 688.0,661.0 692.0,661.2 696.0,661.4 700.0,661.6 704.0,661.9 708.0,662.1 712.0,662.4 716.0,662.7 720.0,662.9 724.0,663.2 728.0,663.5 732.0,663.8 736.0,664.1 740.0,664.4 744.0,664.7 748.0,664.9 752.0,665.2 756.0,665.5 760.0,665.9 764.0,666.2 768.0,666.6 772.0,667.0 776.0,667.3 780.0,667.7 784.0,667.9 788.0,668.1 792.0,668.4 796.0,668.7 800.0,669.0 804.0,669.4 808.0,669.8 812.0,670.1 816.0,670.4 820.0,670.7 824.0,671.0 828.0,671.3 832.0,671.6 836.0,671.8 840.0,671.9 844.0,672.1 848.0,672.3 852.0,672.5 856.0,672.8 860.0,673.0 864.0,673.3 868.0,673.7 872.0,674.0 876.0,674.4 880.0,674.7 884.0,675.1 888.0,675.5 892.0,675.8 896.0,676.2 900.0,676.5 904.0,676.9 908.0,677.3 912.0,677.8 916.0,678.2 920.0,678.6 924.0,679.1 928.0,679.6 932.0,680.0 936.0,680.5 940.0,681.0 944.0,681.5 948.0,682.1 952.0,682.5 956.0,682.8 960.0,683.1 964.0,683.4 968.0,683.7 972.0,684.0 976.0,684.4 980.0,684.9 984.0,685.3 988.0,686.0 992.0,686.8 996.0,687.5 1000.0,688.3 1004.0,689.1 1008.0,690.1 1012.0,691.1 1016.0,692.1 1020.0,693.1 1024.0,694.1 1028.0,695.2 1032.0,696.5 1036.0,697.7 1040.0,699.3 1044.0,701.0 1048.0,702.8 1052.0,704.6 1056.0,706.3 1060.0,708.2 1064.0,710.4 1068.0,712.5 1072.0,714.8 1076.0,717.2 1080.0,719.6 1084.0,722.2 1088.0,724.8 1092.0,727.7 1096.0,732.7 1100.0,731.9 1102.0,722.8 1104.0,713.4 1108.0,717.5 1112.0,721.6 1116.0,725.6 1120.0,729.7 1124.0,733.8 1128.0,737.9 1132.0,742.1 1136.0,746.2 1140.0,750.3 1144.0,754.4 1148.0,758.4 1152.0,762.2 1156.0,766.0 1160.0,769.8 1164.0,773.7 1168.0,777.4 1172.0,780.2 1176.0,783.1 1180.0,786.0 1184.0,786.3 1188.0,787.5 1192.0,791.7 1196.0,795.8 1200.0,800.0 1204.0,800.0 1208.0,800.0 1212.0,800.0 1216.0,860.0 150.0,860.0" fill="#b4d858"/>
<polygon points="160.0,602.9 164.0,602.2 168.0,601.4 169.0,601.3 170.0,601.1 172.0,600.7 176.0,600.0 180.0,599.3 184.0,598.2 188.0,597.1 192.0,596.0 196.0,595.0 200.0,593.9 204.0,593.8 208.0,593.7 212.0,593.6 216.0,593.5 220.0,593.4 224.0,593.3 228.0,593.2 232.0,593.1 236.0,593.0 240.0,592.9 244.0,592.8 248.0,592.7 252.0,592.8 256.0,592.9 260.0,593.1 264.0,593.3 268.0,593.5 272.0,593.6 276.0,593.8 280.0,594.0 284.0,594.2 288.0,594.3 292.0,594.5 296.0,594.7 300.0,594.9 304.0,595.0 308.0,595.2 312.0,595.4 316.0,595.6 320.0,595.7 324.0,595.9 328.0,596.4 332.0,597.1 336.0,597.7 340.0,598.4 344.0,599.1 348.0,599.7 352.0,600.4 356.0,601.0 360.0,601.7 364.0,602.3 368.0,603.2 372.0,604.3 376.0,605.4 380.0,606.4 384.0,607.5 388.0,608.6 392.0,609.7 396.0,610.8 400.0,611.8 404.0,612.9 408.0,613.9 412.0,615.2 416.0,616.6 420.0,617.9 424.0,619.0 428.0,620.0 432.0,621.1 436.0,622.2 440.0,623.3 444.0,624.7 448.0,626.0 452.0,627.3 456.0,628.4 460.0,629.6 464.0,630.6 468.0,631.5 472.0,632.3 476.0,632.9 480.0,633.6 484.0,634.3 488.0,634.9 492.0,635.5 496.0,636.2 500.0,637.1 504.0,638.3 508.0,639.4 512.0,640.4 516.0,641.4 520.0,642.4 524.0,643.5 528.0,644.5 532.0,645.3 536.0,646.1 540.0,647.0 544.0,647.8 548.0,648.6 552.0,649.3 556.0,650.1 560.0,650.8 564.0,651.3 568.0,651.9 572.0,652.4 576.0,652.9 580.0,653.4 584.0,654.0 588.0,654.5 592.0,655.0 596.0,655.4 600.0,655.7 604.0,656.1 608.0,656.4 612.0,656.8 616.0,657.1 620.0,657.5 624.0,657.8 628.0,658.2 632.0,658.5 636.0,658.9 640.0,659.3 644.0,659.6 648.0,660.0 652.0,660.3 656.0,660.6 660.0,660.9 664.0,661.1 668.0,661.3 672.0,661.6 676.0,661.8 680.0,662.0 684.0,662.3 688.0,662.5 692.0,662.7 696.0,663.0 700.0,663.2 704.0,663.4 708.0,663.7 712.0,664.0 716.0,664.2 720.0,664.5 724.0,664.8 728.0,665.0 732.0,665.3 736.0,665.5 740.0,665.8 744.0,666.1 748.0,666.3 752.0,666.6 756.0,666.9 760.0,667.2 764.0,667.6 768.0,667.9 772.0,668.2 776.0,668.5 780.0,668.9 784.0,669.1 788.0,669.3 792.0,669.6 796.0,669.9 800.0,670.2 804.0,670.5 808.0,670.9 812.0,671.2 816.0,671.5 820.0,671.8 824.0,672.1 828.0,672.4 832.0,672.7 836.0,672.9 840.0,673.1 844.0,673.3 848.0,673.4 852.0,673.6 856.0,673.9 860.0,674.1 864.0,674.4 868.0,674.8 872.0,675.1 876.0,675.5 880.0,675.8 884.0,676.2 888.0,676.6 892.0,676.9 896.0,677.3 900.0,677.6 904.0,678.0 908.0,678.4 912.0,678.9 916.0,679.3 920.0,679.7 924.0,680.2 928.0,680.7 932.0,681.1 936.0,681.6 940.0,682.1 944.0,682.7 948.0,683.2 952.0,683.7 956.0,684.0 960.0,684.3 964.0,684.6 968.0,684.9 972.0,685.2 976.0,685.6 980.0,686.1 984.0,686.6 988.0,687.2 992.0,688.0 996.0,688.8 1000.0,689.6 1004.0,690.3 1008.0,691.3 1012.0,692.3 1016.0,693.3 1020.0,694.3 1024.0,695.3 1028.0,696.4 1032.0,697.6 1036.0,698.8 1040.0,700.4 1044.0,702.2 1048.0,703.9 1052.0,705.7 1056.0,707.5 1060.0,709.3 1064.0,711.4 1068.0,713.5 1072.0,715.8 1076.0,718.2 1080.0,720.6 1084.0,723.1 1088.0,725.6 1092.0,728.5 1096.0,733.5 1100.0,732.5 1102.0,723.1 1104.0,713.4 1108.0,717.5 1112.0,721.6 1116.0,725.6 1120.0,729.7 1124.0,733.8 1128.0,737.9 1132.0,742.1 1136.0,746.2 1140.0,750.3 1144.0,754.4 1148.0,758.4 1152.0,762.2 1156.0,766.0 1160.0,769.8 1164.0,773.7 1168.0,777.4 1172.0,780.2 1176.0,783.1 1180.0,786.0 1184.0,786.3 1188.0,787.5 1192.0,791.7 1196.0,795.8 1200.0,800.0 1204.0,800.0 1208.0,800.0 1212.0,800.0 1216.0,860.0 150.0,860.0" fill="#d0e244"/>
<polygon points="160.0,607.6 164.0,606.8 168.0,605.9 169.0,605.7 170.0,605.5 172.0,605.1 176.0,604.2 180.0,603.4 184.0,602.2 188.0,600.9 192.0,599.7 196.0,598.4 200.0,597.2 204.0,597.0 208.0,596.8 212.0,596.6 216.0,596.5 220.0,596.3 224.0,596.1 228.0,595.9 232.0,595.7 236.0,595.5 240.0,595.4 244.0,595.2 248.0,595.0 252.0,595.0 256.0,595.2 260.0,595.4 264.0,595.6 268.0,595.8 272.0,596.0 276.0,596.2 280.0,596.4 284.0,596.6 288.0,596.8 292.0,597.0 296.0,597.2 300.0,597.4 304.0,597.6 308.0,597.8 312.0,598.0 316.0,598.2 320.0,598.4 324.0,598.6 328.0,599.1 332.0,599.8 336.0,600.5 340.0,601.2 344.0,601.9 348.0,602.6 352.0,603.3 356.0,604.0 360.0,604.7 364.0,605.4 368.0,606.3 372.0,607.4 376.0,608.5 380.0,609.5 384.0,610.6 388.0,611.7 392.0,612.8 396.0,613.8 400.0,614.9 404.0,615.9 408.0,616.9 412.0,618.1 416.0,619.4 420.0,620.7 424.0,621.8 428.0,622.8 432.0,623.8 436.0,624.8 440.0,625.9 444.0,627.2 448.0,628.5 452.0,629.7 456.0,630.8 460.0,631.8 464.0,632.8 468.0,633.6 472.0,634.3 476.0,634.9 480.0,635.5 484.0,636.1 488.0,636.7 492.0,637.2 496.0,637.7 500.0,638.6 504.0,639.7 508.0,640.8 512.0,641.8 516.0,642.7 520.0,643.7 524.0,644.7 528.0,645.7 532.0,646.4 536.0,647.3 540.0,648.1 544.0,648.9 548.0,649.7 552.0,650.4 556.0,651.2 560.0,651.9 564.0,652.5 568.0,653.1 572.0,653.6 576.0,654.2 580.0,654.7 584.0,655.3 588.0,655.8 592.0,656.4 596.0,656.8 600.0,657.2 604.0,657.6 608.0,657.9 612.0,658.3 616.0,658.7 620.0,659.1 624.0,659.5 628.0,659.8 632.0,660.2 636.0,660.6 640.0,661.0 644.0,661.4 648.0,661.7 652.0,662.1 656.0,662.4 660.0,662.7 664.0,663.0 668.0,663.2 672.0,663.5 676.0,663.8 680.0,664.0 684.0,664.2 688.0,664.5 692.0,664.7 696.0,664.9 700.0,665.2 704.0,665.4 708.0,665.7 712.0,665.9 716.0,666.2 720.0,666.5 724.0,666.7 728.0,667.0 732.0,667.2 736.0,667.5 740.0,667.7 744.0,668.0 748.0,668.2 752.0,668.5 756.0,668.8 760.0,669.1 764.0,669.4 768.0,669.7 772.0,670.0 776.0,670.4 780.0,670.7 784.0,670.9 788.0,671.1 792.0,671.3 796.0,671.6 800.0,671.9 804.0,672.3 808.0,672.6 812.0,673.0 816.0,673.3 820.0,673.6 824.0,673.9 828.0,674.2 832.0,674.4 836.0,674.6 840.0,674.8 844.0,675.0 848.0,675.2 852.0,675.4 856.0,675.6 860.0,675.9 864.0,676.2 868.0,676.5 872.0,676.9 876.0,677.2 880.0,677.6 884.0,678.0 888.0,678.3 892.0,678.7 896.0,679.0 900.0,679.4 904.0,679.8 908.0,680.2 912.0,680.6 916.0,681.0 920.0,681.5 924.0,681.9 928.0,682.4 932.0,682.8 936.0,683.3 940.0,683.8 944.0,684.3 948.0,684.9 952.0,685.3 956.0,685.7 960.0,686.0 964.0,686.3 968.0,686.6 972.0,687.0 976.0,687.4 980.0,687.9 984.0,688.4 988.0,689.1 992.0,689.8 996.0,690.5 1000.0,691.3 1004.0,692.0 1008.0,692.9 1012.0,693.9 1016.0,694.9 1020.0,695.9 1024.0,696.9 1028.0,697.9 1032.0,699.1 1036.0,700.3 1040.0,701.8 1044.0,703.6 1048.0,705.3 1052.0,707.0 1056.0,708.8 1060.0,710.6 1064.0,712.6 1068.0,714.6 1072.0,716.8 1076.0,719.1 1080.0,721.4 1084.0,723.9 1088.0,726.3 1092.0,729.1 1096.0,734.0 1100.0,732.8 1102.0,723.3 1104.0,713.4 1108.0,717.5 1112.0,721.6 1116.0,725.6 1120.0,729.7 1124.0,733.8 1128.0,737.9 1132.0,742.1 1136.0,746.2 1140.0,750.3 1144.0,754.4 1148.0,758.4 1152.0,762.2 1156.0,766.0 1160.0,769.8 1164.0,773.7 1168.0,777.4 1172.0,780.2 1176.0,783.1 1180.0,786.0 1184.0,786.3 1188.0,787.5 1192.0,791.7 1196.0,795.8 1200.0,800.0 1204.0,800.0 1208.0,800.0 1212.0,800.0 1216.0,860.0 150.0,860.0" fill="#efe934"/>
<polygon points="160.0,612.8 164.0,611.9 168.0,611.0 169.0,610.7 170.0,610.5 172.0,610.0 176.0,609.1 180.0,608.2 184.0,606.9 188.0,605.6 192.0,604.2 196.0,602.9 200.0,601.6 204.0,601.3 208.0,601.0 212.0,600.7 216.0,600.4 220.0,600.0 224.0,599.7 228.0,599.4 232.0,599.1 236.0,598.8 240.0,598.5 244.0,598.2 248.0,597.9 252.0,597.8 256.0,598.0 260.0,598.2 264.0,598.5 268.0,598.7 272.0,598.9 276.0,599.1 280.0,599.3 284.0,599.6 288.0,599.8 292.0,600.0 296.0,600.2 300.0,600.4 304.0,600.7 308.0,600.9 312.0,601.1 316.0,601.3 320.0,601.5 324.0,601.7 328.0,602.4 332.0,603.1 336.0,603.8 340.0,604.6 344.0,605.3 348.0,606.1 352.0,606.8 356.0,607.5 360.0,608.3 364.0,609.0 368.0,609.9 372.0,611.0 376.0,612.1 380.0,613.2 384.0,614.3 388.0,615.4 392.0,616.5 396.0,617.6 400.0,618.7 404.0,619.6 408.0,620.6 412.0,621.8 416.0,623.0 420.0,624.2 424.0,625.2 428.0,626.2 432.0,627.1 436.0,628.1 440.0,629.1 444.0,630.3 448.0,631.4 452.0,632.6 456.0,633.5 460.0,634.5 464.0,635.4 468.0,636.1 472.0,636.7 476.0,637.2 480.0,637.7 484.0,638.2 488.0,638.7 492.0,639.1 496.0,639.6 500.0,640.4 504.0,641.5 508.0,642.5 512.0,643.4 516.0,644.3 520.0,645.2 524.0,646.2 528.0,647.1 532.0,647.8 536.0,648.6 540.0,649.4 544.0,650.2 548.0,650.9 552.0,651.7 556.0,652.5 560.0,653.3 564.0,653.9 568.0,654.5 572.0,655.1 576.0,655.7 580.0,656.3 584.0,656.9 588.0,657.5 592.0,658.1 596.0,658.5 600.0,658.9 604.0,659.3 608.0,659.8 612.0,660.2 616.0,660.6 620.0,661.0 624.0,661.4 628.0,661.8 632.0,662.2 636.0,662.6 640.0,663.1 644.0,663.5 648.0,663.9 652.0,664.3 656.0,664.6 660.0,665.0 664.0,665.3 668.0,665.5 672.0,665.8 676.0,666.1 680.0,666.4 684.0,666.6 688.0,666.9 692.0,667.1 696.0,667.3 700.0,667.6 704.0,667.8 708.0,668.1 712.0,668.3 716.0,668.6 720.0,668.9 724.0,669.1 728.0,669.4 732.0,669.6 736.0,669.9 740.0,670.1 744.0,670.4 748.0,670.6 752.0,670.9 756.0,671.2 760.0,671.5 764.0,671.8 768.0,672.1 772.0,672.5 776.0,672.8 780.0,673.1 784.0,673.3 788.0,673.5 792.0,673.7 796.0,674.0 800.0,674.3 804.0,674.7 808.0,675.0 812.0,675.4 816.0,675.7 820.0,676.0 824.0,676.3 828.0,676.6 832.0,676.8 836.0,677.0 840.0,677.2 844.0,677.4 848.0,677.6 852.0,677.8 856.0,678.0 860.0,678.3 864.0,678.6 868.0,678.9 872.0,679.3 876.0,679.6 880.0,680.0 884.0,680.4 888.0,680.7 892.0,681.1 896.0,681.4 900.0,681.8 904.0,682.2 908.0,682.6 912.0,683.0 916.0,683.4 920.0,683.8 924.0,684.3 928.0,684.7 932.0,685.1 936.0,685.6 940.0,686.0 944.0,686.6 948.0,687.1 952.0,687.5 956.0,687.9 960.0,688.2 964.0,688.6 968.0,688.9 972.0,689.3 976.0,689.8 980.0,690.3 984.0,690.8 988.0,691.4 992.0,692.1 996.0,692.8 1000.0,693.5 1004.0,694.2 1008.0,695.0 1012.0,696.0 1016.0,696.9 1020.0,697.8 1024.0,698.7 1028.0,699.7 1032.0,700.9 1036.0,702.0 1040.0,703.5 1044.0,705.2 1048.0,706.8 1052.0,708.5 1056.0,710.2 1060.0,712.0 1064.0,713.9 1068.0,715.8 1072.0,717.8 1076.0,720.0 1080.0,722.2 1084.0,724.5 1088.0,726.8 1092.0,729.6 1096.0,734.3 1100.0,733.0 1102.0,723.3 1104.0,713.4 1108.0,717.5 1112.0,721.6 1116.0,725.6 1120.0,729.7 1124.0,733.8 1128.0,737.9 1132.0,742.1 1136.0,746.2 1140.0,750.3 1144.0,754.4 1148.0,758.4 1152.0,762.2 1156.0,766.0 1160.0,769.8 1164.0,773.7 1168.0,777.4 1172.0,780.2 1176.0,783.1 1180.0,786.0 1184.0,786.3 1188.0,787.5 1192.0,791.7 1196.0,795.8 1200.0,800.0 1204.0,800.0 1208.0,800.0 1212.0,800.0 1216.0,860.0 150.0,860.0" fill="#f7de38"/>
<polygon points="160.0,618.0 164.0,617.0 168.0,616.0 169.0,615.8 170.0,615.5 172.0,615.0 176.0,614.0 180.0,613.0 184.0,611.6 188.0,610.2 192.0,608.8 196.0,607.4 200.0,606.0 204.0,605.6 208.0,605.1 212.0,604.7 216.0,604.2 220.0,603.8 224.0,603.4 228.0,602.9 232.0,602.5 236.0,602.0 240.0,601.6 244.0,601.2 248.0,600.7 252.0,600.6 256.0,600.9 260.0,601.1 264.0,601.3 268.0,601.6 272.0,601.8 276.0,602.1 280.0,602.3 284.0,602.5 288.0,602.8 292.0,603.0 296.0,603.3 300.0,603.5 304.0,603.7 308.0,604.0 312.0,604.2 316.0,604.5 320.0,604.7 324.0,604.9 328.0,605.6 332.0,606.4 336.0,607.1 340.0,607.9 344.0,608.7 348.0,609.5 352.0,610.3 356.0,611.0 360.0,611.8 364.0,612.6 368.0,613.6 372.0,614.7 376.0,615.8 380.0,616.9 384.0,618.0 388.0,619.1 392.0,620.3 396.0,621.4 400.0,622.5 404.0,623.4 408.0,624.3 412.0,625.4 416.0,626.6 420.0,627.7 424.0,628.6 428.0,629.5 432.0,630.4 436.0,631.4 440.0,632.3 444.0,633.4 448.0,634.4 452.0,635.5 456.0,636.3 460.0,637.1 464.0,637.9 468.0,638.5 472.0,639.0 476.0,639.5 480.0,639.9 484.0,640.3 488.0,640.7 492.0,641.1 496.0,641.5 500.0,642.2 504.0,643.2 508.0,644.2 512.0,645.0 516.0,645.9 520.0,646.8 524.0,647.6 528.0,648.5 532.0,649.2 536.0,650.0 540.0,650.8 544.0,651.5 548.0,652.2 552.0,653.0 556.0,653.8 560.0,654.7 564.0,655.3 568.0,656.0 572.0,656.6 576.0,657.2 580.0,657.9 584.0,658.5 588.0,659.1 592.0,659.7 596.0,660.2 600.0,660.7 604.0,661.1 608.0,661.6 612.0,662.0 616.0,662.5 620.0,662.9 624.0,663.4 628.0,663.8 632.0,664.2 636.0,664.7 640.0,665.1 644.0,665.6 648.0,666.0 652.0,666.4 656.0,666.8 660.0,667.2 664.0,667.5 668.0,667.8 672.0,668.2 676.0,668.5 680.0,668.8 684.0,669.0 688.0,669.3 692.0,669.5 696.0,669.7 700.0,670.0 704.0,670.2 708.0,670.5 712.0,670.7 716.0,671.0 720.0,671.3 724.0,671.5 728.0,671.8 732.0,672.0 736.0,672.3 740.0,672.5 744.0,672.8 748.0,673.0 752.0,673.3 756.0,673.6 760.0,673.9 764.0,674.2 768.0,674.5 772.0,674.9 776.0,675.2 780.0,675.5 784.0,675.7 788.0,675.9 792.0,676.1 796.0,676.4 800.0,676.7 804.0,677.1 808.0,677.4 812.0,677.8 816.0,678.1 820.0,678.4 824.0,678.7 828.0,679.0 832.0,679.2 836.0,679.4 840.0,679.6 844.0,679.8 848.0,680.0 852.0,680.2 856.0,680.4 860.0,680.7 864.0,681.0 868.0,681.3 872.0,681.7 876.0,682.0 880.0,682.4 884.0,682.8 888.0,683.1 892.0,683.5 896.0,683.8 900.0,684.2 904.0,684.6 908.0,685.0 912.0,685.4 916.0,685.8 920.0,686.2 924.0,686.6 928.0,687.0 932.0,687.4 936.0,687.8 940.0,688.3 944.0,688.8 948.0,689.3 952.0,689.8 956.0,690.1 960.0,690.5 964.0,690.9 968.0,691.2 972.0,691.6 976.0,692.1 980.0,692.6 984.0,693.2 988.0,693.8 992.0,694.4 996.0,695.0 1000.0,695.7 1004.0,696.3 1008.0,697.1 1012.0,698.0 1016.0,698.9 1020.0,699.8 1024.0,700.6 1028.0,701.6 1032.0,702.6 1036.0,703.7 1040.0,705.2 1044.0,706.8 1048.0,708.4 1052.0,710.0 1056.0,711.7 1060.0,713.4 1064.0,715.2 1068.0,716.9 1072.0,718.9 1076.0,720.9 1080.0,723.0 1084.0,725.2 1088.0,727.4 1092.0,730.0 1096.0,734.6 1100.0,733.2 1102.0,723.4 1104.0,713.4 1108.0,717.5 1112.0,721.6 1116.0,725.6 1120.0,729.7 1124.0,733.8 1128.0,737.9 1132.0,742.1 1136.0,746.2 1140.0,750.3 1144.0,754.4 1148.0,758.4 1152.0,762.2 1156.0,766.0 1160.0,769.8 1164.0,773.7 1168.0,777.4 1172.0,780.2 1176.0,783.1 1180.0,786.0 1184.0,786.3 1188.0,787.5 1192.0,791.7 1196.0,795.8 1200.0,800.0 1204.0,800.0 1208.0,800.0 1212.0,800.0 1216.0,860.0 150.0,860.0" fill="#f8ab38"/>
<polygon points="160.0,620.4 164.0,619.3 168.0,618.2 169.0,618.0 170.0,617.7 172.0,617.1 176.0,616.1 180.0,615.0 184.0,613.5 188.0,611.9 192.0,610.3 196.0,608.8 200.0,607.2 204.0,606.8 208.0,606.4 212.0,606.0 216.0,605.5 220.0,605.1 224.0,604.7 228.0,604.2 232.0,603.8 236.0,603.4 240.0,603.0 244.0,602.5 248.0,602.1 252.0,602.0 256.0,602.3 260.0,602.5 264.0,602.8 268.0,603.1 272.0,603.3 276.0,603.6 280.0,603.9 284.0,604.1 288.0,604.4 292.0,604.7 296.0,604.9 300.0,605.2 304.0,605.5 308.0,605.7 312.0,606.0 316.0,606.3 320.0,606.5 324.0,606.8 328.0,607.4 332.0,608.2 336.0,608.9 340.0,609.7 344.0,610.4 348.0,611.2 352.0,611.9 356.0,612.6 360.0,613.4 364.0,614.1 368.0,615.1 372.0,616.2 376.0,617.3 380.0,618.4 384.0,619.6 388.0,620.7 392.0,621.8 396.0,622.9 400.0,624.1 404.0,624.9 408.0,625.8 412.0,626.8 416.0,628.0 420.0,629.1 424.0,630.0 428.0,630.9 432.0,631.8 436.0,632.6 440.0,633.5 444.0,634.7 448.0,635.7 452.0,636.7 456.0,637.6 460.0,638.4 464.0,639.2 468.0,639.8 472.0,640.3 476.0,640.7 480.0,641.1 484.0,641.5 488.0,641.8 492.0,642.2 496.0,642.5 500.0,643.2 504.0,644.2 508.0,645.2 512.0,646.0 516.0,646.8 520.0,647.7 524.0,648.5 528.0,649.4 532.0,650.1 536.0,650.8 540.0,651.6 544.0,652.3 548.0,653.0 552.0,653.8 556.0,654.7 560.0,655.5 564.0,656.2 568.0,656.8 572.0,657.5 576.0,658.1 580.0,658.7 584.0,659.4 588.0,660.0 592.0,660.7 596.0,661.2 600.0,661.6 604.0,662.1 608.0,662.6 612.0,663.0 616.0,663.5 620.0,664.0 624.0,664.4 628.0,664.9 632.0,665.4 636.0,665.8 640.0,666.3 644.0,666.8 648.0,667.2 652.0,667.6 656.0,668.0 660.0,668.4 664.0,668.7 668.0,669.1 672.0,669.4 676.0,669.7 680.0,670.1 684.0,670.3 688.0,670.5 692.0,670.8 696.0,671.0 700.0,671.3 704.0,671.5 708.0,671.8 712.0,672.1 716.0,672.4 720.0,672.6 724.0,672.9 728.0,673.2 732.0,673.4 736.0,673.7 740.0,673.9 744.0,674.2 748.0,674.5 752.0,674.7 756.0,675.0 760.0,675.3 764.0,675.7 768.0,676.0 772.0,676.3 776.0,676.7 780.0,677.0 784.0,677.2 788.0,677.3 792.0,677.6 796.0,677.9 800.0,678.2 804.0,678.5 808.0,678.8 812.0,679.1 816.0,679.4 820.0,679.8 824.0,680.0 828.0,680.3 832.0,680.6 836.0,680.8 840.0,681.0 844.0,681.2 848.0,681.4 852.0,681.6 856.0,681.8 860.0,682.1 864.0,682.3 868.0,682.7 872.0,683.1 876.0,683.4 880.0,683.8 884.0,684.1 888.0,684.5 892.0,684.9 896.0,685.2 900.0,685.6 904.0,685.9 908.0,686.3 912.0,686.8 916.0,687.1 920.0,687.5 924.0,687.9 928.0,688.3 932.0,688.7 936.0,689.1 940.0,689.5 944.0,690.0 948.0,690.4 952.0,690.9 956.0,691.2 960.0,691.6 964.0,691.9 968.0,692.3 972.0,692.7 976.0,693.2 980.0,693.7 984.0,694.2 988.0,694.8 992.0,695.4 996.0,696.0 1000.0,696.6 1004.0,697.2 1008.0,698.0 1012.0,698.9 1016.0,699.7 1020.0,700.6 1024.0,701.4 1028.0,702.4 1032.0,703.4 1036.0,704.4 1040.0,705.9 1044.0,707.5 1048.0,709.1 1052.0,710.7 1056.0,712.3 1060.0,714.0 1064.0,715.7 1068.0,717.5 1072.0,719.4 1076.0,721.4 1080.0,723.4 1084.0,725.5 1088.0,727.7 1092.0,730.2 1096.0,734.8 1100.0,733.3 1102.0,723.5 1104.0,713.4 1108.0,717.5 1112.0,721.6 1116.0,725.6 1120.0,729.7 1124.0,733.8 1128.0,737.9 1132.0,742.1 1136.0,746.2 1140.0,750.3 1144.0,754.4 1148.0,758.4 1152.0,762.2 1156.0,766.0 1160.0,769.8 1164.0,773.7 1168.0,777.4 1172.0,780.2 1176.0,783.1 1180.0,786.0 1184.0,786.3 1188.0,787.5 1192.0,791.7 1196.0,795.8 1200.0,800.0 1204.0,800.0 1208.0,800.0 1212.0,800.0 1216.0,860.0 150.0,860.0" fill="#f4843a"/>
<polygon points="160.0,622.8 164.0,621.6 168.0,620.5 169.0,620.2 170.0,619.9 172.0,619.3 176.0,618.1 180.0,617.0 184.0,615.3 188.0,613.6 192.0,611.9 196.0,610.2 200.0,608.5 204.0,608.1 208.0,607.7 212.0,607.2 216.0,606.8 220.0,606.4 224.0,606.0 228.0,605.6 232.0,605.1 236.0,604.7 240.0,604.3 244.0,603.9 248.0,603.5 252.0,603.4 256.0,603.7 260.0,604.0 264.0,604.3 268.0,604.6 272.0,604.9 276.0,605.2 280.0,605.5 284.0,605.7 288.0,606.0 292.0,606.3 296.0,606.6 300.0,606.9 304.0,607.2 308.0,607.5 312.0,607.8 316.0,608.1 320.0,608.4 324.0,608.7 328.0,609.3 332.0,610.0 336.0,610.7 340.0,611.4 344.0,612.1 348.0,612.8 352.0,613.5 356.0,614.2 360.0,614.9 364.0,615.6 368.0,616.6 372.0,617.7 376.0,618.8 380.0,620.0 384.0,621.1 388.0,622.2 392.0,623.4 396.0,624.5 400.0,625.6 404.0,626.4 408.0,627.3 412.0,628.3 416.0,629.4 420.0,630.5 424.0,631.4 428.0,632.2 432.0,633.1 436.0,633.9 440.0,634.8 444.0,635.9 448.0,636.9 452.0,638.0 456.0,638.8 460.0,639.6 464.0,640.4 468.0,641.0 472.0,641.5 476.0,641.9 480.0,642.2 484.0,642.6 488.0,642.9 492.0,643.2 496.0,643.6 500.0,644.2 504.0,645.2 508.0,646.1 512.0,646.9 516.0,647.8 520.0,648.6 524.0,649.5 528.0,650.3 532.0,650.9 536.0,651.7 540.0,652.4 544.0,653.1 548.0,653.9 552.0,654.6 556.0,655.5 560.0,656.3 564.0,657.0 568.0,657.7 572.0,658.3 576.0,659.0 580.0,659.6 584.0,660.3 588.0,660.9 592.0,661.6 596.0,662.1 600.0,662.6 604.0,663.1 608.0,663.6 612.0,664.1 616.0,664.6 620.0,665.1 624.0,665.5 628.0,666.0 632.0,666.5 636.0,667.0 640.0,667.4 644.0,667.9 648.0,668.4 652.0,668.8 656.0,669.2 660.0,669.6 664.0,670.0 668.0,670.3 672.0,670.6 676.0,671.0 680.0,671.3 684.0,671.6 688.0,671.8 692.0,672.1 696.0,672.3 700.0,672.6 704.0,672.9 708.0,673.1 712.0,673.4 716.0,673.7 720.0,674.0 724.0,674.3 728.0,674.6 732.0,674.8 736.0,675.1 740.0,675.4 744.0,675.6 748.0,675.9 752.0,676.2 756.0,676.5 760.0,676.8 764.0,677.1 768.0,677.5 772.0,677.8 776.0,678.2 780.0,678.5 784.0,678.6 788.0,678.8 792.0,679.0 796.0,679.3 800.0,679.6 804.0,679.9 808.0,680.2 812.0,680.5 816.0,680.8 820.0,681.1 824.0,681.4 828.0,681.7 832.0,682.0 836.0,682.2 840.0,682.4 844.0,682.6 848.0,682.7 852.0,682.9 856.0,683.2 860.0,683.4 864.0,683.7 868.0,684.1 872.0,684.4 876.0,684.8 880.0,685.1 884.0,685.5 888.0,685.9 892.0,686.2 896.0,686.6 900.0,686.9 904.0,687.3 908.0,687.7 912.0,688.2 916.0,688.5 920.0,688.8 924.0,689.2 928.0,689.5 932.0,689.9 936.0,690.3 940.0,690.6 944.0,691.1 948.0,691.6 952.0,692.0 956.0,692.3 960.0,692.7 964.0,693.0 968.0,693.4 972.0,693.7 976.0,694.2 980.0,694.7 984.0,695.2 988.0,695.7 992.0,696.3 996.0,696.9 1000.0,697.5 1004.0,698.1 1008.0,698.9 1012.0,699.7 1016.0,700.6 1020.0,701.4 1024.0,702.2 1028.0,703.1 1032.0,704.2 1036.0,705.2 1040.0,706.6 1044.0,708.2 1048.0,709.8 1052.0,711.4 1056.0,712.9 1060.0,714.7 1064.0,716.3 1068.0,718.0 1072.0,719.8 1076.0,721.8 1080.0,723.8 1084.0,725.9 1088.0,728.0 1092.0,730.5 1096.0,735.0 1100.0,733.4 1102.0,723.6 1104.0,713.4 1108.0,717.5 1112.0,721.6 1116.0,725.6 1120.0,729.7 1124.0,733.8 1128.0,737.9 1132.0,742.1 1136.0,746.2 1140.0,750.3 1144.0,754.4 1148.0,758.4 1152.0,762.2 1156.0,766.0 1160.0,769.8 1164.0,773.7 1168.0,777.4 1172.0,780.2 1176.0,783.1 1180.0,786.0 1184.0,786.3 1188.0,787.5 1192.0,791.7 1196.0,795.8 1200.0,800.0 1204.0,800.0 1208.0,800.0 1212.0,800.0 1216.0,860.0 150.0,860.0" fill="#ee5c36"/>
<polygon points="160.0,625.1 164.0,623.9 168.0,622.7 169.0,622.4 170.0,622.1 172.0,621.5 176.0,620.2 180.0,619.0 184.0,617.2 188.0,615.3 192.0,613.5 196.0,611.6 200.0,609.8 204.0,609.3 208.0,608.9 212.0,608.5 216.0,608.1 220.0,607.7 224.0,607.3 228.0,606.9 232.0,606.5 236.0,606.1 240.0,605.7 244.0,605.2 248.0,604.8 252.0,604.8 256.0,605.1 260.0,605.4 264.0,605.7 268.0,606.1 272.0,606.4 276.0,606.7 280.0,607.0 284.0,607.3 288.0,607.7 292.0,608.0 296.0,608.3 300.0,608.6 304.0,608.9 308.0,609.3 312.0,609.6 316.0,609.9 320.0,610.2 324.0,610.5 328.0,611.1 332.0,611.8 336.0,612.5 340.0,613.1 344.0,613.8 348.0,614.5 352.0,615.2 356.0,615.8 360.0,616.5 364.0,617.2 368.0,618.1 372.0,619.2 376.0,620.3 380.0,621.5 384.0,622.6 388.0,623.8 392.0,624.9 396.0,626.0 400.0,627.2 404.0,628.0 408.0,628.8 412.0,629.8 416.0,630.9 420.0,632.0 424.0,632.8 428.0,633.6 432.0,634.4 436.0,635.2 440.0,636.0 444.0,637.2 448.0,638.2 452.0,639.2 456.0,640.1 460.0,640.9 464.0,641.7 468.0,642.3 472.0,642.7 476.0,643.1 480.0,643.4 484.0,643.7 488.0,644.0 492.0,644.3 496.0,644.6 500.0,645.2 504.0,646.2 508.0,647.1 512.0,647.9 516.0,648.7 520.0,649.5 524.0,650.3 528.0,651.2 532.0,651.8 536.0,652.5 540.0,653.3 544.0,654.0 548.0,654.7 552.0,655.4 556.0,656.3 560.0,657.2 564.0,657.8 568.0,658.5 572.0,659.2 576.0,659.8 580.0,660.5 584.0,661.2 588.0,661.8 592.0,662.5 596.0,663.1 600.0,663.6 604.0,664.1 608.0,664.6 612.0,665.1 616.0,665.6 620.0,666.1 624.0,666.6 628.0,667.1 632.0,667.6 636.0,668.1 640.0,668.6 644.0,669.1 648.0,669.5 652.0,670.0 656.0,670.4 660.0,670.8 664.0,671.2 668.0,671.5 672.0,671.9 676.0,672.2 680.0,672.6 684.0,672.8 688.0,673.1 692.0,673.4 696.0,673.6 700.0,673.9 704.0,674.2 708.0,674.5 712.0,674.8 716.0,675.1 720.0,675.4 724.0,675.7 728.0,675.9 732.0,676.2 736.0,676.5 740.0,676.8 744.0,677.1 748.0,677.3 752.0,677.6 756.0,677.9 760.0,678.3 764.0,678.6 768.0,679.0 772.0,679.3 776.0,679.6 780.0,680.0 784.0,680.1 788.0,680.3 792.0,680.5 796.0,680.7 800.0,681.0 804.0,681.3 808.0,681.6 812.0,681.9 816.0,682.2 820.0,682.5 824.0,682.8 828.0,683.1 832.0,683.4 836.0,683.5 840.0,683.7 844.0,683.9 848.0,684.1 852.0,684.3 856.0,684.6 860.0,684.8 864.0,685.1 868.0,685.4 872.0,685.8 876.0,686.2 880.0,686.5 884.0,686.9 888.0,687.2 892.0,687.6 896.0,688.0 900.0,688.3 904.0,688.7 908.0,689.1 912.0,689.5 916.0,689.8 920.0,690.1 924.0,690.5 928.0,690.8 932.0,691.1 936.0,691.5 940.0,691.8 944.0,692.3 948.0,692.7 952.0,693.1 956.0,693.4 960.0,693.8 964.0,694.1 968.0,694.4 972.0,694.7 976.0,695.2 980.0,695.7 984.0,696.2 988.0,696.7 992.0,697.3 996.0,697.9 1000.0,698.4 1004.0,699.0 1008.0,699.8 1012.0,700.6 1016.0,701.4 1020.0,702.2 1024.0,703.0 1028.0,703.9 1032.0,704.9 1036.0,705.9 1040.0,707.3 1044.0,708.9 1048.0,710.5 1052.0,712.0 1056.0,713.6 1060.0,715.3 1064.0,716.9 1068.0,718.5 1072.0,720.3 1076.0,722.2 1080.0,724.2 1084.0,726.2 1088.0,728.3 1092.0,730.7 1096.0,735.2 1100.0,733.6 1102.0,723.6 1104.0,713.4 1108.0,717.5 1112.0,721.6 1116.0,725.6 1120.0,729.7 1124.0,733.8 1128.0,737.9 1132.0,742.1 1136.0,746.2 1140.0,750.3 1144.0,754.4 1148.0,758.4 1152.0,762.2 1156.0,766.0 1160.0,769.8 1164.0,773.7 1168.0,777.4 1172.0,780.2 1176.0,783.1 1180.0,786.0 1184.0,786.3 1188.0,787.5 1192.0,791.7 1196.0,795.8 1200.0,800.0 1204.0,800.0 1208.0,800.0 1212.0,800.0 1216.0,860.0 150.0,860.0" fill="#e63638"/>
<polygon points="160.0,627.5 164.0,626.2 168.0,624.9 169.0,624.6 170.0,624.2 172.0,623.6 176.0,622.3 180.0,621.0 184.0,619.0 188.0,617.0 192.0,615.0 196.0,613.0 200.0,611.0 204.0,610.6 208.0,610.2 212.0,609.8 216.0,609.4 220.0,609.0 224.0,608.6 228.0,608.2 232.0,607.8 236.0,607.4 240.0,607.0 244.0,606.6 248.0,606.2 252.0,606.2 256.0,606.5 260.0,606.9 264.0,607.2 268.0,607.6 272.0,607.9 276.0,608.3 280.0,608.6 284.0,608.9 288.0,609.3 292.0,609.6 296.0,610.0 300.0,610.3 304.0,610.7 308.0,611.0 312.0,611.4 316.0,611.7 320.0,612.1 324.0,612.4 328.0,613.0 332.0,613.6 336.0,614.2 340.0,614.9 344.0,615.5 348.0,616.1 352.0,616.8 356.0,617.4 360.0,618.0 364.0,618.7 368.0,619.6 372.0,620.7 376.0,621.9 380.0,623.0 384.0,624.2 388.0,625.3 392.0,626.5 396.0,627.6 400.0,628.8 404.0,629.5 408.0,630.3 412.0,631.2 416.0,632.3 420.0,633.4 424.0,634.1 428.0,634.9 432.0,635.7 436.0,636.5 440.0,637.3 444.0,638.4 448.0,639.4 452.0,640.5 456.0,641.3 460.0,642.1 464.0,642.9 468.0,643.5 472.0,644.0 476.0,644.3 480.0,644.6 484.0,644.9 488.0,645.1 492.0,645.4 496.0,645.6 500.0,646.2 504.0,647.1 508.0,648.1 512.0,648.8 516.0,649.6 520.0,650.4 524.0,651.2 528.0,652.0 532.0,652.7 536.0,653.4 540.0,654.1 544.0,654.8 548.0,655.5 552.0,656.2 556.0,657.1 560.0,658.0 564.0,658.7 568.0,659.3 572.0,660.0 576.0,660.7 580.0,661.4 584.0,662.1 588.0,662.8 592.0,663.5 596.0,664.0 600.0,664.6 604.0,665.1 608.0,665.6 612.0,666.1 616.0,666.7 620.0,667.2 624.0,667.7 628.0,668.3 632.0,668.8 636.0,669.3 640.0,669.7 644.0,670.2 648.0,670.7 652.0,671.2 656.0,671.6 660.0,672.0 664.0,672.4 668.0,672.7 672.0,673.1 676.0,673.5 680.0,673.8 684.0,674.1 688.0,674.4 692.0,674.6 696.0,674.9 700.0,675.2 704.0,675.5 708.0,675.8 712.0,676.1 716.0,676.4 720.0,676.8 724.0,677.1 728.0,677.3 732.0,677.6 736.0,677.9 740.0,678.2 744.0,678.5 748.0,678.8 752.0,679.1 756.0,679.4 760.0,679.7 764.0,680.1 768.0,680.4 772.0,680.8 776.0,681.1 780.0,681.5 784.0,681.6 788.0,681.7 792.0,681.9 796.0,682.2 800.0,682.4 804.0,682.7 808.0,683.0 812.0,683.3 816.0,683.6 820.0,683.9 824.0,684.2 828.0,684.5 832.0,684.7 836.0,684.9 840.0,685.1 844.0,685.3 848.0,685.5 852.0,685.7 856.0,685.9 860.0,686.2 864.0,686.5 868.0,686.8 872.0,687.2 876.0,687.5 880.0,687.9 884.0,688.3 888.0,688.6 892.0,689.0 896.0,689.3 900.0,689.7 904.0,690.1 908.0,690.5 912.0,690.9 916.0,691.1 920.0,691.4 924.0,691.7 928.0,692.1 932.0,692.4 936.0,692.7 940.0,693.0 944.0,693.4 948.0,693.9 952.0,694.2 956.0,694.5 960.0,694.8 964.0,695.2 968.0,695.5 972.0,695.8 976.0,696.3 980.0,696.7 984.0,697.2 988.0,697.7 992.0,698.3 996.0,698.8 1000.0,699.4 1004.0,699.9 1008.0,700.7 1012.0,701.5 1016.0,702.3 1020.0,703.1 1024.0,703.8 1028.0,704.7 1032.0,705.7 1036.0,706.7 1040.0,708.1 1044.0,709.6 1048.0,711.1 1052.0,712.7 1056.0,714.2 1060.0,715.9 1064.0,717.5 1068.0,719.1 1072.0,720.8 1076.0,722.7 1080.0,724.6 1084.0,726.6 1088.0,728.6 1092.0,731.0 1096.0,735.4 1100.0,733.7 1102.0,723.7 1104.0,713.4 1108.0,717.5 1112.0,721.6 1116.0,725.6 1120.0,729.7 1124.0,733.8 1128.0,737.9 1132.0,742.1 1136.0,746.2 1140.0,750.3 1144.0,754.4 1148.0,758.4 1152.0,762.2 1156.0,766.0 1160.0,769.8 1164.0,773.7 1168.0,777.4 1172.0,780.2 1176.0,783.1 1180.0,786.0 1184.0,786.3 1188.0,787.5 1192.0,791.7 1196.0,795.8 1200.0,800.0 1204.0,800.0 1208.0,800.0 1212.0,800.0 1216.0,860.0 150.0,860.0" fill="#ea1629"/>
<polygon points="150.0,692.0 160.0,690.0 200.0,681.0 237.5,673.8 275.0,671.0 312.5,673.8 350.0,678.8 387.5,683.0 425.0,684.5 462.5,682.5 489.0,679.0 502.0,671.5 515.0,660.0 525.0,655.0 540.0,654.5 560.0,657.0 591.0,662.7 612.5,666.5 617.0,669.0 622.0,674.0 630.0,676.8 655.0,680.5 668.5,682.0 692.5,685.0 720.0,688.5 730.0,692.5 755.0,698.8 780.0,705.0 797.5,703.8 812.5,698.8 830.0,695.0 860.0,693.8 910.0,696.0 960.0,702.5 1010.0,710.0 1047.5,719.5 1072.5,731.0 1090.0,748.0 1118.0,767.0 1145.7,789.0 1160.0,800.0 1180.0,816.0 1200.0,829.5 1216.0,840.0 1216.0,860.0 150.0,860.0" fill="#b3172a"/>
<polygon points="945.0,725.5 951.0,727.2 957.0,728.7 963.0,730.2 969.0,731.6 975.0,732.5 981.0,733.4 987.0,734.2 993.0,734.7 999.0,735.1 1005.0,735.4 1011.0,735.8 1017.0,736.3 1023.0,736.7 1029.0,737.1 1035.0,737.5 1041.0,737.9 1047.0,738.8 1053.0,740.6 1059.0,743.1 1065.0,746.3 1071.0,749.7 1077.0,754.3 1083.0,759.2 1089.0,764.0 1095.0,768.0 1101.0,771.8 1107.0,775.6 1113.0,779.4 1119.0,783.2 1125.0,787.5 1131.0,791.8 1137.0,795.7 1143.0,799.5 1149.0,803.2 1155.0,806.9 1161.0,810.7 1167.0,814.7 1173.0,818.7 1179.0,822.7 1185.0,826.4 1191.0,830.0 1197.0,833.6 1203.0,837.3 1209.0,840.8 1215.0,844.4 1216.0,860.0 945.0,860.0" fill="#a01428"/>
<polygon points="150.0,725.0 160.0,723.8 187.5,716.0 225.0,706.0 262.5,701.0 300.0,705.5 337.5,713.8 375.0,716.0 425.0,715.0 475.0,715.0 500.0,716.0 505.0,720.0 522.5,726.0 537.5,735.0 580.0,733.8 630.0,732.5 667.5,728.8 705.0,722.5 730.0,721.0 767.5,725.0 790.0,732.5 803.6,734.9 811.4,733.3 842.9,720.7 874.3,715.2 905.7,716.0 937.0,722.3 968.6,734.9 988.0,741.0 1016.0,748.0 1044.0,754.0 1062.0,763.0 1081.0,776.0 1099.0,787.0 1118.0,798.0 1133.0,807.5 1160.0,820.0 1216.0,850.0 1216.0,860.0 150.0,860.0" fill="#8b1126"/>
<polygon points="322.5,480.0 322.5,515.0 333.5,523.8 333.5,535.0 344.3,542.5 355.2,546.0 355.2,550.0 366.0,561.0 366.0,575.0 377.0,582.5 387.5,588.8 398.5,592.5 409.1,597.3 419.9,603.0 430.8,608.0 441.6,613.0 452.4,617.2 463.2,620.9 474.1,623.9 484.9,626.9 495.7,629.7 506.6,633.4 517.4,636.7 528.2,639.9 539.0,642.4 549.9,644.8 560.7,646.4 571.5,647.5 582.4,648.6 593.2,649.6 604.0,650.2 614.9,650.7 625.7,651.3 636.5,651.9 647.4,652.4 658.2,652.9 669.0,653.1 679.8,653.3 690.7,653.5 701.5,653.7 712.3,654.0 723.2,654.4 734.0,654.7 744.8,655.0 755.6,655.4 766.5,655.9 777.3,656.4 788.1,656.9 799.0,657.7 809.8,658.6 820.6,659.5 831.5,660.4 842.3,661.0 853.1,661.7 864.0,662.5 874.8,663.6 885.6,664.7 896.4,665.7 907.3,666.8 918.1,668.5 928.9,670.3 939.8,672.1 950.6,674.2 961.4,676.3 972.2,678.4 983.1,680.9 993.9,683.4 1004.7,685.9 1015.6,689.0 1026.4,692.2 1037.2,695.9 1048.1,701.1 1058.9,706.3 1069.7,712.6 1080.5,719.8 1091.4,727.3 1103.0,735.2 1103.0,742.4 1124.2,756.0 1124.2,764.0 1146.0,779.0 1146.0,786.5 1167.5,801.5 1167.5,807.0 1180.0,816.0 1187.0,816.5 1200.0,825.0 1200.0,830.0 1216.0,830.0 1216.0,480.0" fill="#fdfdfd"/>
<polygon points="150.0,805.0 191.0,805.0 203.8,798.0 225.0,798.0 236.0,783.8 246.0,783.8 257.5,769.5 280.0,769.5 290.0,754.5 301.0,754.5 311.0,740.0 322.5,747.0 343.8,747.0 365.0,762.5 365.0,769.5 377.5,769.5 387.5,777.0 398.8,770.0 409.0,777.0 420.0,791.0 420.0,798.0 431.0,792.0 441.0,800.0 441.0,806.0 452.5,806.0 462.5,812.5 462.5,820.0 473.8,828.5 506.0,828.8 517.5,821.0 528.8,821.0 540.0,813.8 561.0,813.8 572.5,806.0 583.8,806.0 595.0,799.5 615.0,799.5 670.0,762.5 680.0,762.5 691.0,755.0 702.5,755.0 712.5,748.0 723.8,748.0 733.8,740.0 755.0,740.0 766.0,748.0 797.5,748.0 808.8,755.5 840.0,756.0 851.0,762.5 894.0,762.5 950.0,800.0 971.5,800.0 982.3,793.0 994.0,793.0 1015.5,778.7 1049.5,778.7 1080.5,800.5 1124.0,800.5 1135.0,808.0 1156.0,808.0 1170.0,817.0 1179.0,823.0 1189.0,823.5 1200.0,830.0 1216.0,830.0 1216.0,860.0 150.0,860.0" fill="#fdfdfd"/>
<polygon points="160.0,816.1 170.8,816.1 170.8,818.1 181.7,818.1 181.7,817.9 192.5,817.9 192.5,816.2 203.3,816.2 203.3,812.4 214.2,812.4 214.2,808.6 225.0,808.6 225.0,804.6 235.8,804.6 235.8,799.6 246.6,799.6 246.6,793.2 257.5,793.2 257.5,787.6 268.3,787.6 268.3,781.8 279.1,781.8 279.1,777.0 290.0,777.0 290.0,771.7 300.8,771.7 300.8,766.8 311.6,766.8 311.6,763.5 322.4,763.5 322.4,761.5 333.3,761.5 333.3,761.5 344.1,761.5 344.1,762.0 354.9,762.0 354.9,766.5 365.8,766.5 365.8,773.4 376.6,773.4 376.6,780.9 387.4,780.9 387.4,787.6 398.3,787.6 398.3,796.1 409.1,796.1 409.1,803.7 419.9,803.7 419.9,810.4 430.8,810.4 430.8,816.6 441.6,816.6 441.6,820.5 452.4,820.5 452.4,824.3 463.2,824.3 463.2,828.5 474.1,828.5 474.1,832.4 484.9,832.4 484.9,834.6 495.7,834.6 495.7,834.8 506.6,834.8 506.6,834.6 517.4,834.6 517.4,831.8 528.2,831.8 528.2,828.7 539.1,828.7 539.0,825.1 549.9,825.1 549.9,822.5 560.7,822.5 560.7,819.8 571.5,819.8 571.5,816.3 582.4,816.3 582.4,812.7 593.2,812.7 593.2,809.6 604.0,809.6 604.0,806.6 614.9,806.6 614.9,803.5 625.7,803.5 625.7,799.0 636.5,799.0 636.5,794.3 647.4,794.3 647.4,788.3 658.2,788.3 658.2,780.9 669.0,780.9 669.0,774.4 679.8,774.4 679.8,768.4 690.7,768.4 690.7,763.1 701.5,763.1 701.5,758.3 712.3,758.3 712.3,754.8 723.2,754.8 723.2,750.9 734.0,750.9 734.0,748.1 744.8,748.1 744.8,747.5 755.7,747.5 755.6,748.3 766.5,748.3 766.5,750.1 777.3,750.1 777.3,751.0 788.1,751.0 788.1,751.8 799.0,751.8 799.0,753.6 809.8,753.6 809.8,756.3 820.6,756.3 820.6,757.0 831.5,757.0 831.5,758.5 842.3,758.5 842.3,765.5 853.1,765.5 853.1,767.5 864.0,767.5 864.0,767.6 874.8,767.6 874.8,767.7 885.6,767.7 885.6,770.0 896.4,770.0 896.4,774.5 907.3,774.5 907.3,779.3 918.1,779.3 918.1,785.7 928.9,785.7 928.9,792.5 939.8,792.5 939.8,798.5 950.6,798.5 950.6,803.7 961.4,803.7 961.4,807.8 972.2,807.8 972.2,807.8 983.1,807.8 983.1,805.2 993.9,805.2 993.9,801.5 1004.7,801.5 1004.7,796.2 1015.6,796.2 1015.6,791.0 1026.4,791.0 1026.4,787.2 1037.2,787.2 1037.2,785.7 1048.1,785.7 1048.1,785.7 1058.9,785.7 1058.9,792.8 1069.7,792.8 1069.7,799.2 1080.5,799.2 1080.5,803.1 1091.4,803.1 1091.4,804.6 1102.2,804.6 1102.2,805.8 1113.0,805.8 1113.0,806.9 1123.9,806.9 1123.9,809.1 1134.7,809.1 1134.7,811.1 1145.5,811.1 1145.5,814.1 1156.4,814.1 1156.4,818.0 1167.2,818.0 1167.2,822.5 1178.0,822.5 1178.0,827.4 1188.8,827.4 1188.8,833.3 1199.7,833.3 1199.7,838.5 1210.5,838.5 1210.5,839.2 1221.3,839.2 1216.0,860.0 150.0,860.0" fill="#c8c9d0"/>
</g>
<polyline points="333.3,480.0 333.3,501.2 344.1,501.2 344.1,528.5 354.9,528.5 354.9,540.2 365.8,540.2 365.8,553.7 376.6,553.7 376.6,569.4 387.4,569.4 387.4,583.3 398.3,583.3 398.3,590.3 409.1,590.3 409.1,596.5 419.9,596.5 419.9,602.2 430.8,602.2 430.8,607.2 441.6,607.2 441.6,612.2 452.4,612.2 452.4,616.4 463.2,616.4 463.2,620.1 474.1,620.1 474.1,623.1 484.9,623.1 484.9,626.1 495.7,626.1 495.7,628.9 506.6,628.9 506.6,632.6 517.4,632.6 517.4,635.9 528.2,635.9 528.2,639.1 539.1,639.1 539.0,641.6 549.9,641.6 549.9,644.0 560.7,644.0 560.7,645.6 571.5,645.6 571.5,646.7 582.4,646.7 582.4,647.8 593.2,647.8 593.2,648.8 604.0,648.8 604.0,649.4 614.9,649.4 614.9,649.9 625.7,649.9 625.7,650.5 636.5,650.5 636.5,651.1 647.4,651.1 647.4,651.6 658.2,651.6 658.2,652.1 669.0,652.1 669.0,652.3 679.8,652.3 679.8,652.5 690.7,652.5 690.7,652.7 701.5,652.7 701.5,652.9 712.3,652.9 712.3,653.2 723.2,653.2 723.2,653.6 734.0,653.6 734.0,653.9 744.8,653.9 744.8,654.2 755.7,654.2 755.6,654.6 766.5,654.6 766.5,655.1 777.3,655.1 777.3,655.6 788.1,655.6 788.1,656.1 799.0,656.1 799.0,656.9 809.8,656.9 809.8,657.8 820.6,657.8 820.6,658.7 831.5,658.7 831.5,659.6 842.3,659.6 842.3,660.2 853.1,660.2 853.1,660.9 864.0,660.9 864.0,661.7 874.8,661.7 874.8,662.8 885.6,662.8 885.6,663.9 896.4,663.9 896.4,664.9 907.3,664.9 907.3,666.0 918.1,666.0 918.1,667.7 928.9,667.7 928.9,669.5 939.8,669.5 939.8,671.3 950.6,671.3 950.6,673.4 961.4,673.4 961.4,675.5 972.2,675.5 972.2,677.6 983.1,677.6 983.1,680.1 993.9,680.1 993.9,682.6 1004.7,682.6 1004.7,685.1 1015.6,685.1 1015.6,688.2 1026.4,688.2 1026.4,691.4 1037.2,691.4 1037.2,695.1 1048.1,695.1 1048.1,700.3 1058.9,700.3 1058.9,705.5 1069.7,705.5 1069.7,711.8 1080.5,711.8 1080.5,719.0 1091.4,719.0 1091.4,726.5 1102.2,726.5 1102.2,734.5 1113.0,734.5 1113.0,744.2 1123.9,744.2 1123.9,753.7 1134.7,753.7 1134.7,763.4 1145.5,763.4 1145.5,774.3 1156.4,774.3 1156.4,784.5 1167.2,784.5 1167.2,795.2 1178.0,795.2 1178.0,806.3 1188.8,806.3 1188.8,817.1 1199.7,817.1 1199.7,828.5 1210.5,828.5 1210.5,828.5 1221.3,828.5" fill="none" stroke="#1c1c1c" stroke-width="1.5" stroke-linejoin="miter"/>
</g>
<polygon points="160.0,36.3 1212.4,40.0 1211.8,404.3 159.5,401.5" fill="none" stroke="#1c1c1c" stroke-width="1.7"/>
<path d="M349.9 402.0L349.9 391.7M350.4 37.0L350.4 47.3M540.3 402.5L540.3 392.2M540.8 37.6L540.8 47.9M730.6 403.0L730.7 392.7M731.2 38.3L731.1 48.6M921.0 403.5L921.0 393.2M921.6 39.0L921.5 49.3M1111.4 404.0L1111.4 393.7M1112.0 39.6L1111.9 49.9M159.9 110.7L170.2 110.7M1212.3 114.2L1202.0 114.2M159.8 185.1L170.1 185.1M1212.2 188.4L1201.9 188.4M159.7 259.4L170.0 259.5M1212.0 262.6L1201.7 262.6M159.6 333.8L169.9 333.8M1211.9 336.8L1201.6 336.8" stroke="#1c1c1c" stroke-width="1.4" fill="none"/>
<polygon points="160.0,485.5 1211.2,488.5 1210.7,853.8 159.5,849.5" fill="none" stroke="#1c1c1c" stroke-width="1.7"/>
<path d="M281.0 850.0L281.0 839.7M281.5 485.8L281.5 496.1M402.5 850.5L402.5 840.2M403.0 486.2L403.0 496.5M524.0 851.0L524.0 840.7M524.5 486.5L524.5 496.8M645.5 851.5L645.5 841.2M646.0 486.9L646.0 497.2M767.0 852.0L767.0 841.7M767.5 487.2L767.5 497.5M888.5 852.5L888.5 842.2M889.0 487.6L889.0 497.9M1010.0 853.0L1010.0 842.7M1010.5 487.9L1010.5 498.2M1131.5 853.5L1131.5 843.2M1132.0 488.3L1132.0 498.6M159.9 559.9L170.2 560.0M1211.1 563.2L1200.8 563.2M159.8 634.4L170.1 634.4M1211.0 637.9L1200.7 637.9M159.7 708.8L170.0 708.8M1210.9 712.6L1200.6 712.6M159.6 783.3L169.9 783.3M1210.8 787.3L1200.5 787.3" stroke="#1c1c1c" stroke-width="1.4" fill="none"/>
<g font-family="Liberation Sans, Arial, Helvetica, sans-serif" font-size="24.3" fill="#111" stroke="#111" stroke-width="0.45">
<text x="159.5" y="431.0" text-anchor="middle" >0</text>
<text x="349.9" y="431.5" text-anchor="middle" >20</text>
<text x="540.3" y="432.0" text-anchor="middle" >40</text>
<text x="730.6" y="432.5" text-anchor="middle" >60</text>
<text x="921.0" y="433.0" text-anchor="middle" >80</text>
<text x="1111.4" y="433.5" text-anchor="middle" >100</text>
<text x="152.4" y="44.9" text-anchor="end" >0</text>
<text x="152.4" y="119.3" text-anchor="end" >−200</text>
<text x="152.4" y="193.7" text-anchor="end" >−400</text>
<text x="152.4" y="268.0" text-anchor="end" >−600</text>
<text x="152.4" y="342.4" text-anchor="end" >−800</text>
<text x="159.5" y="879.0" text-anchor="middle" >0</text>
<text x="281.0" y="879.5" text-anchor="middle" >10</text>
<text x="402.5" y="880.0" text-anchor="middle" >20</text>
<text x="524.0" y="880.5" text-anchor="middle" >30</text>
<text x="645.5" y="881.0" text-anchor="middle" >40</text>
<text x="767.0" y="881.5" text-anchor="middle" >50</text>
<text x="888.5" y="882.0" text-anchor="middle" >60</text>
<text x="1010.0" y="882.5" text-anchor="middle" >70</text>
<text x="1131.5" y="883.0" text-anchor="middle" >80</text>
<text x="152.4" y="494.1" text-anchor="end" >0</text>
<text x="152.4" y="568.5" text-anchor="end" >−200</text>
<text x="152.4" y="643.0" text-anchor="end" >−400</text>
<text x="152.4" y="717.4" text-anchor="end" >−600</text>
<text x="152.4" y="791.9" text-anchor="end" >−800</text>
<polygon points="1240.3,39.6 1269.0,39.7 1268.9,74.0 1240.2,73.9" fill="#9a2430" stroke="none"/>
<polygon points="1240.2,73.5 1268.9,73.6 1268.8,107.9 1240.1,107.8" fill="#b12636" stroke="none"/>
<polygon points="1240.1,107.4 1268.8,107.5 1268.8,141.9 1240.0,141.8" fill="#d22a3a" stroke="none"/>
<polygon points="1240.0,141.4 1268.8,141.5 1268.7,175.8 1240.0,175.7" fill="#ee2232" stroke="none"/>
<polygon points="1240.0,175.3 1268.7,175.4 1268.6,209.7 1239.9,209.6" fill="#e63638" stroke="none"/>
<polygon points="1239.9,209.2 1268.6,209.3 1268.5,243.6 1239.8,243.5" fill="#ee5c36" stroke="none"/>
<polygon points="1239.8,243.1 1268.5,243.2 1268.4,277.5 1239.7,277.4" fill="#f4843a" stroke="none"/>
<polygon points="1239.7,277.0 1268.4,277.1 1268.3,311.5 1239.6,311.4" fill="#f8ab38" stroke="none"/>
<polygon points="1239.6,311.0 1268.3,311.1 1268.2,345.4 1239.5,345.3" fill="#f7de38" stroke="none"/>
<polygon points="1239.5,344.9 1268.2,345.0 1268.2,379.3 1239.5,379.2" fill="#efe934" stroke="none"/>
<polygon points="1239.5,378.8 1268.2,378.9 1268.1,413.2 1239.4,413.1" fill="#d0e244" stroke="none"/>
<polygon points="1239.4,412.7 1268.1,412.8 1268.0,447.1 1239.3,447.1" fill="#b4d858" stroke="none"/>
<polygon points="1239.3,446.7 1268.0,446.7 1267.9,481.1 1239.2,481.0" fill="#a6d36c" stroke="none"/>
<polygon points="1239.2,480.6 1267.9,480.7 1267.8,515.0 1239.1,514.9" fill="#98cd94" stroke="none"/>
<polygon points="1239.1,514.5 1267.8,514.6 1267.8,548.9 1239.0,548.8" fill="#88c9c0" stroke="none"/>
<polygon points="1239.0,548.4 1267.8,548.5 1267.7,582.8 1239.0,582.7" fill="#80cae6" stroke="none"/>
<polygon points="1239.0,582.3 1267.7,582.4 1267.6,616.8 1238.9,616.7" fill="#76bdee" stroke="none"/>
<polygon points="1238.9,616.3 1267.6,616.4 1267.5,650.7 1238.8,650.6" fill="#6f95dc" stroke="none"/>
<polygon points="1238.8,650.2 1267.5,650.3 1267.4,684.6 1238.7,684.5" fill="#6070c2" stroke="none"/>
<polygon points="1238.7,684.1 1267.4,684.2 1267.3,718.5 1238.6,718.4" fill="#5357b0" stroke="none"/>
<polygon points="1238.6,718.0 1267.3,718.1 1267.2,752.4 1238.5,752.3" fill="#4b49a8" stroke="none"/>
<polygon points="1238.5,751.9 1267.2,752.0 1267.2,786.4 1238.5,786.3" fill="#4641a3" stroke="none"/>
<polygon points="1238.5,785.9 1267.2,786.0 1267.1,820.3 1238.4,820.2" fill="#3b3c9c" stroke="none"/>
<polygon points="1238.4,819.8 1267.1,819.9 1267.0,854.2 1238.3,854.1" fill="#2e2a8c" stroke="none"/>
<polygon points="1240.3,39.6 1269.0,39.7 1267.0,853.8 1238.3,853.7" fill="none" stroke="#2a2630" stroke-width="1.6"/>
<text x="1276.4" y="116.2" text-anchor="start" >1</text>
<text x="1276.3" y="184.1" text-anchor="start" >0.8</text>
<text x="1276.1" y="251.9" text-anchor="start" >0.6</text>
<text x="1275.9" y="319.8" text-anchor="start" >0.4</text>
<text x="1275.8" y="387.6" text-anchor="start" >0.2</text>
<text x="1275.6" y="455.4" text-anchor="start" >0</text>
<text x="1275.4" y="523.3" text-anchor="start" >−0.2</text>
<text x="1275.3" y="591.1" text-anchor="start" >−0.4</text>
<text x="1275.1" y="659.0" text-anchor="start" >−0.6</text>
<text x="1274.9" y="726.8" text-anchor="start" >−0.8</text>
<text x="1274.8" y="794.7" text-anchor="start" >−1</text>
<path d="M1240.1 107.4h6M1268.8 107.5h-6M1240.0 175.3h6M1268.7 175.4h-6M1239.8 243.1h6M1268.5 243.2h-6M1239.6 311.0h6M1268.3 311.1h-6M1239.5 378.8h6M1268.2 378.9h-6M1239.3 446.7h6M1268.0 446.7h-6M1239.1 514.5h6M1267.8 514.6h-6M1239.0 582.3h6M1267.7 582.4h-6M1238.8 650.2h6M1267.5 650.3h-6M1238.6 718.0h6M1267.3 718.1h-6M1238.5 785.9h6M1267.2 786.0h-6" stroke="#2a2630" stroke-width="1.3" fill="none"/>
<text x="1031.6" y="103.5" text-anchor="start" >Section 2</text>
<text x="1026.8" y="552.0" text-anchor="start" >Section 1</text>
<text x="686.5" y="909.8" text-anchor="middle" >Distance from open boundary (km)</text>
<text transform="translate(80.3,215.6) rotate(-90)" text-anchor="middle">Depth (m)</text>
<text transform="translate(80.3,664.8) rotate(-90)" text-anchor="middle">Depth (m)</text>
<text transform="translate(1354.9,613.6) rotate(-90)" text-anchor="start" font-size="24">Potential temperature (<tspan font-size="17" dy="-9.5">°</tspan><tspan dy="9.5">C)</tspan></text>
</g>
</svg>
</body></html>
